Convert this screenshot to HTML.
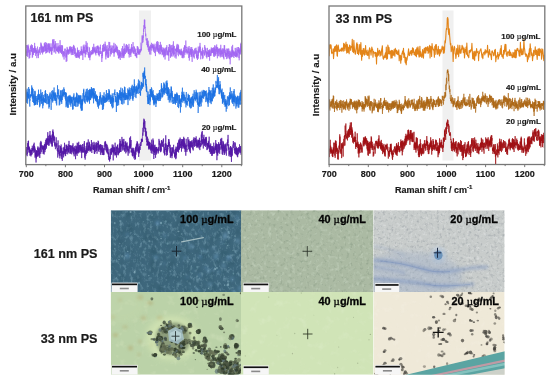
<!DOCTYPE html>
<html><head><meta charset="utf-8"><style>
html,body{margin:0;padding:0;background:#fff;overflow:hidden;}
svg{display:block;will-change:transform;}
.ml text{fill:#050505;stroke:#050505;stroke-width:0.3px;}
text{font-family:"Liberation Sans",sans-serif;font-weight:bold;fill:#1a1a1a;stroke:#1a1a1a;stroke-width:0.18px;}
</style></head><body>
<svg width="550" height="380" viewBox="0 0 550 380">
<defs>
<clipPath id="cl"><rect x="26" y="6.5" width="215.5" height="158"/></clipPath>
<clipPath id="cr"><rect x="329" y="6.5" width="215.5" height="158"/></clipPath>
</defs>
<rect width="550" height="380" fill="#fff"/>
<rect x="139" y="10.5" width="12" height="150" fill="#f0f0f0"/>
<rect x="442.5" y="10.5" width="11" height="150" fill="#f0f0f0"/>
<g clip-path="url(#cl)"><path transform="translate(26.3,0) scale(0.1173,0.1)" d="M0 483l1-33 1 110 1-7 1-41 1 18 1-37 1 46 1 17 1-33 1-70 1 13 1 103 1-29 1-81 1 67 1-80 1 43 1-20 1 50 1 5 1-45 1 31 1 35 1 41 1-49 1 8 1-48 1 19 1 64 1-51 1-18 1-10 1 50 1-65 1-30 1 16 1 19 1 1 1-34 1 51 1-10 1 22 1-23 1-54 1 23 1 47 1-49 1 37 1-30 1 31 1 75 1-128 1 85 1 32 1-57 1 33 1-1 1-27 1-21 1-12 1 50 1 18 1-45 1-24 1 46 1-39 1 9 1 26 1-54 1 35 1-75 1 101 1-22 1-46 1 56 1-8 1 1 1-26 1 74 1-70 1 29 1 2 1-38 1 39 1-1 1-14 1 31 1-29 1-8 1 82 1-63 1 4 1-5 1 13 1-52 1-13 1 38 1 7 1-3 1 1 1 51 1-46 1 67 1-41 1 6 1-4 1-34 1-14 1 27 1-20 1 29 1-43 1-15 1 1 1 21 1 5 1-13 1 26 1 34 1-41 1-30 1 4 1-8 1-45 1 41 1 21 1-32 1-20 1 8 1 81 1-29 1-42 1 51 1-32 1 51 1-62 1 56 1 15 1 11 1-43 1-24 1 37 1 7 1-50 1 21 1-21 1 52 1-52 1 46 1-56 1 57 1-8 1-77 1 12 1 27 1-38 1 7 1 28 1 7 1 33 1-89 1 90 1-43 1-19 1 31 1 56 1-80 1 54 1-52 1-30 1 80 1-20 1 43 1-51 1-49 1 88 1-20 1-16 1 19 1 22 1-11 1-68 1 27 1 19 1-8 1 5 1-8 1-41 1 65 1-26 1-45 1 92 1-62 1 26 1-43 1 33 1-9 1 63 1-97 1 64 1-19 1 26 1-14 1-20 1 39 1-28 1 30 1-15 1-30 1 43 1-77 1 46 1 34 1 29 1-57 1-10 1 72 1-1 1-28 1-13 1-32 1 34 1-42 1-33 1-37 1 91 1-14 1-79 1 42 1-4 1-2 1-13 1 62 1-12 1-12 1-63 1 133 1-62 1 53 1-35 1-23 1-8 1 20 1 20 1-51 1 40 1-69 1 41 1 29 1 27 1 29 1-88 1-9 1-7 1 1 1 2 1 73 1-17 1 18 1-42 1 38 1-7 1 17 1-27 1 4 1-17 1 46 1-36 1-17 1-37 1 79 1-47 1 27 1-10 1 52 1-66 1 19 1 50 1-63 1 20 1-40 1 62 1-14 1-27 1 35 1-31 1 35 1-110 1 99 1-34 1 61 1-24 1-8 1 25 1-66 1 53 1 9 1-66 1 55 1 35 1-20 1-20 1 33 1-36 1 18 1-62 1 58 1 1 1-57 1 19 1 81 1-37 1 53 1-2 1-48 1-12 1 34 1-2 1-24 1 33 1 9 1 35 1-71 1-3 1 41 1-5 1-51 1-12 1-8 1 41 1-31 1-8 1 17 1 29 1-5 1 12 1 35 1-39 1-6 1 88 1-78 1 23 1-61 1 63 1-13 1 59 1-103 1-40 1 36 1 4 1-23 1 59 1-4 1-43 1 32 1-23 1 13 1-18 1 44 1-45 1 8 1 15 1-34 1-1 1 50 1-29 1-7 1-36 1 44 1-7 1-15 1 3 1-17 1 59 1-72 1 50 1-36 1 1 1 21 1 14 1 6 1-22 1-2 1 57 1-80 1 20 1 27 1-24 1 32 1-59 1 41 1-18 1 36 1-34 1 56 1-44 1 28 1-27 1 45 1-72 1-12 1 42 1-59 1 33 1-6 1 19 1-5 1-32 1 13 1 55 1 13 1-62 1 27 1 29 1-12 1 42 1-9 1-69 1 70 1-7 1 6 1 22 1 0 1-25 1-15 1-5 1 23 1-16 1 41 1-33 1-22 1 4 1 47 1 3 1-76 1-26 1 84 1-26 1-13 1-20 1 64 1-4 1 11 1-64 1 68 1-20 1 8 1-21 1-44 1 69 1-12 1 3 1 27 1-39 1-26 1 30 1 7 1-10 1 6 1-7 1 3 1-41 1 21 1 10 1-12 1-11 1 18 1-71 1 25 1 63 1-62 1 34 1-4 1-24 1 47 1-13 1-12 1 37 1-20 1-22 1-3 1 90 1-28 1-44 1-72 1 55 1-39 1 58 1-17 1-9 1 30 1-88 1 85 1-25 1-39 1 57 1-5 1 14 1-22 1-9 1-1 1 72 1-36 1-5 1-28 1 40 1 0 1-95 1 95 1-132 1 54 1-3 1 56 1-7 1-43 1 40 1-33 1 14 1-62 1 90 1-46 1 41 1 12 1-36 1-22 1 48 1 36 1-10 1-19 1 45 1-28 1 13 1 21 1 6 1-56 1 54 1-8 1-36 1-59 1 49 1 53 1 26 1-44 1 15 1-31 1 4 1 8 1-45 1 35 1 10 1-10 1-2 1-13 1-4 1 14 1-17 1 25 1-8 1-39 1 41 1-9 1-33 1 7 1 26 1-63 1 58 1 16 1-57 1 48 1-33 1-13 1 21 1-26 1 5 1-50 1 94 1-61 1 4 1 43 1-16 1-19 1 31 1-19 1 13 1 9 1-3 1-47 1 65 1-23 1 27 1-32 1 15 1 35 1-73 1-5 1 28 1 18 1-7 1 10 1-30 1 34 1-68 1 38 1 31 1-35 1-38 1 32 1-26 1 12 1-8 1 0 1-11 1 87 1 2 1-41 1-37 1 85 1-74 1 36 1 33 1-32 1 49 1-47 1-6 1 0 1 13 1-36 1-19 1 1 1 23 1-27 1-19 1 69 1 23 1-29 1 27 1-4 1 4 1-22 1 18 1 11 1 14 1-9 1 71 1-75 1 37 1-15 1-67 1-19 1 75 1-97 1-9 1 67 1-34 1 5 1-10 1-21 1-12 1 71 1-17 1 4 1-65 1 48 1 3 1 22 1 3 1-46 1 12 1 7 1 16 1-33 1-53 1 92 1-66 1 20 1 44 1 4 1 83 1-76 1 47 1-67 1 51 1-62 1 42 1-65 1 7 1 9 1 6 1-36 1 14 1 48 1 25 1-44 1 86 1-32 1 1 1-21 1 43 1-40 1-48 1 96 1-44 1-16 1-99 1 56 1 10 1 24 1-6 1-38 1 11 1-55 1 55 1-14 1 20 1 83 1-42 1 0 1-15 1-22 1 10 1 42 1-85 1 47 1-4 1 48 1-11 1-56 1 44 1-23 1-18 1 18 1-14 1-15 1-13 1 29 1 8 1 37 1-2 1-35 1 16 1 6 1 17 1-31 1-1 1-43 1 26 1-55 1 139 1-66 1 32 1-46 1 40 1-36 1 23 1-27 1 25 1-30 1-11 1-32 1 82 1-26 1-11 1 30 1-32 1-5 1 45 1-49 1 9 1 17 1-45 1 49 1-40 1 69 1-29 1-8 1-25 1 50 1 10 1 17 1-54 1 6 1 14 1 45 1-58 1 78 1-11 1 18 1-21 1-2 1-38 1 18 1 18 1 22 1-64 1-17 1 66 1-8 1-48 1 43 1 5 1 41 1-64 1 29 1-47 1 14 1 12 1-10 1 4 1 2 1 1 1 1 1 3 1 34 1-95 1 47 1 8 1-6 1 4 1 19 1-96 1 42 1 28 1 51 1-68 1 19 1-5 1 40 1-79 1 75 1-14 1-27 1 59 1-29 1-116 1 99 1 20 1-26 1-47 1 40 1 15 1-25 1-20 1 13 1 9 1 27 1-32 1-32 1-21 1 19 1 39 1-7 1-40 1-26 1 84 1-79 1 21 1 5 1 20 1 32 1 1 1-74 1 50 1 2 1-15 1-20 1 5 1 39 1-8 1-36 1 73 1-48 1 46 1-44 1-4 1-52 1 33 1 103 1-38 1-6 1-32 1-9 1 61 1-11 1-8 1-10 1-29 1 55 1-10 1-14 1-35 1 81 1-29 1-41 1-25 1 58 1-55 1-37 1 72 1-22 1-16 1 24 1 13 1-28 1-12 1 20 1 13 1 18 1-43 1-1 1-58 1 113 1-31 1 9 1 22 1-8 1-4 1-60 1 45 1 20 1 14 1-38 1-35 1 30 1 0 1 22 1 0 1-36 1 75 1-17 1-41 1-6 1 18 1 49 1-31 1 26 1-7 1-12 1 34 1-14 1-30 1 28 1 25 1-79 1-13 1 8 1-37 1 51 1 19 1-34 1 4 1-33 1 83 1-73 1 38 1 7 1 14 1-7 1-14 1 28 1-49 1 23 1 5 1-9 1 23 1-30 1 32 1 9 1-18 1-39 1 19 1 13 1-29 1 8 1 22 1-3 1-8 1-19 1-66 1 68 1-6 1 3 1 13 1-42 1-7 1-8 1-14 1-79 1 47 1 27 1-35 1-18 1 11 1 12 1-38 1 62 1-73 1 29 1-43 1 7 1-58 1 36 1-51 1-18 1 23 1-14 1-54 1-11 1 93 1-63 1-28 1 52 1 0 1 29 1-10 1 4 1 35 1 54 1-26 1 13 1 25 1 21 1-8 1 20 1-19 1 1 1 16 1 44 1 2 1-15 1-17 1 7 1-44 1 91 1-56 1 1 1 27 1 15 1-4 1-49 1 93 1-44 1-11 1 29 1 37 1 7 1-17 1-10 1 22 1-26 1 11 1-34 1 80 1-76 1 14 1-12 1 26 1-16 1-33 1 2 1 20 1 71 1 6 1-58 1-15 1-21 1 25 1-49 1 15 1 38 1 25 1-13 1-36 1 24 1-17 1-5 1 19 1-39 1 33 1-18 1 7 1-23 1 52 1-23 1 37 1-33 1-12 1 60 1-69 1 44 1-22 1 1 1 58 1-2 1-24 1-2 1-36 1-30 1 41 1 42 1-2 1 43 1-78 1 3 1 1 1-19 1 49 1-38 1-18 1 3 1 21 1-66 1 39 1-11 1 56 1-30 1-24 1-39 1 91 1-65 1 46 1 37 1-74 1 61 1-88 1 55 1 10 1 42 1 7 1-36 1-12 1 42 1-42 1 22 1 37 1-81 1-3 1-9 1 1 1 54 1-53 1 24 1 17 1-74 1 123 1-28 1-26 1 16 1-28 1-18 1 24 1-35 1 13 1 39 1 22 1-47 1 38 1-39 1 79 1-53 1 39 1 0 1 5 1-45 1 18 1 21 1-3 1-34 1 8 1 2 1 50 1 13 1-97 1 24 1-17 1 68 1-61 1 75 1-58 1 15 1 7 1 3 1-28 1 91 1-74 1-15 1 28 1 14 1 8 1-80 1 33 1-24 1 66 1-5 1-17 1-58 1 30 1-23 1-26 1 16 1 54 1-16 1 37 1-20 1 30 1-11 1-27 1 29 1-19 1-21 1 34 1 12 1-80 1 87 1-27 1 78 1-117 1 36 1-24 1-61 1 60 1 17 1-60 1-7 1-7 1 14 1-8 1 8 1 49 1 70 1-116 1 58 1-16 1 22 1-7 1 42 1-31 1 35 1-63 1-51 1 56 1-24 1 35 1-36 1-4 1 3 1 12 1-10 1 49 1-85 1 119 1-60 1 36 1-32 1-97 1 91 1 50 1-86 1 20 1 44 1-52 1-5 1-16 1 45 1 3 1 35 1-16 1 50 1-60 1-26 1 6 1-1 1 11 1-20 1 62 1 15 1-14 1 37 1-47 1-41 1 18 1-41 1 48 1-69 1 87 1 7 1-109 1 52 1-10 1 40 1-37 1 5 1-14 1 30 1-61 1 42 1 39 1 37 1-108 1 24 1 19 1 30 1-14 1 16 1-39 1 41 1-28 1 40 1 2 1-41 1 20 1 18 1-25 1-1 1 11 1 18 1 8 1-57 1 49 1-6 1-27 1-25 1 59 1-35 1 38 1 0 1-35 1-3 1 68 1-60 1 36 1-5 1 9 1 18 1 0 1-34 1 40 1-76 1 57 1-62 1-1 1 34 1 1 1-61 1 71 1 31 1-20 1-72 1-10 1-22 1 32 1-26 1 89 1-92 1 73 1-23 1 13 1-34 1-7 1-21 1-52 1 55 1 3 1 9 1 7 1-10 1 47 1-28 1 43 1-19 1-8 1 40 1-21 1-12 1 2 1 17 1 1 1-32 1-31 1 52 1-16 1-21 1 21 1 26 1-6 1 56 1-33 1-49 1-38 1 108 1 38 1-87 1 20 1-14 1 45 1-85 1 63 1-36 1-1 1 9 1-28 1 31 1 13 1-28 1-38 1 78 1-50 1 67 1-71 1 72 1-21 1-73 1 32 1 84 1 31 1-69 1-24 1-36 1 15 1 22 1 6 1-16 1 39 1 10 1-63 1 54 1-16 1 2 1 0 1 30 1-15 1 14 1 13 1-74 1 33 1-40 1-13 1 19 1-6 1-23 1 38 1 15 1-27 1 14 1 2 1 14 1-16 1-44 1 36 1 44 1-25 1-28 1 79 1-29 1-7 1 23 1-22 1 33 1-30 1 49 1-41 1-51 1 23 1 45 1-10 1 22 1-122 1 95 1-47 1 4 1 7 1 6 1-42 1 20 1-7 1 21 1-49 1 31 1-43 1-4 1 23 1-52 1 96 1-18 1 10 1-45 1 38 1 83 1-29 1-42 1 23 1-30 1 1 1-5 1 35 1 3 1-3 1 12 1-36 1 21 1-49 1 20 1 45 1-82 1 114 1-39 1 26 1-33 1-3 1-8 1-5 1-2 1-27 1 5 1 30 1-19 1 4 1 30 1-19 1 25 1-75 1-31 1 34 1-16 1 26 1 35 1 0 1-42 1 31 1 3 1-10 1-29 1 64 1-19 1 41 1-55 1 7 1 15 1 7 1 42 1-66 1 51 1-31 1-29 1-30 1 65 1-17 1 4 1-11 1 15 1-17 1 17 1-4 1 39 1-70 1 61 1-19 1 22 1-54 1 7 1 53 1-75 1 84 1 28 1-64 1-34 1 26 1 13 1-52 1 61 1 1 1-22 1 22 1-20 1 19 1-15 1-29 1-38 1 39 1 21 1-46 1 12 1 9 1 20 1-52 1 51 1-14 1-18 1 21 1-38 1 42 1-23 1 29 1-19 1 16 1 21 1 19 1-92 1 60 1 9 1-61 1 30 1-27 1 61 1-39 1 62 1-62 1-55 1 59 1-40 1-7 1 93 1-57 1-10 1 52 1-14 1 29 1-49 1 15 1-5 1-46 1-5 1 48 1-69 1 37 1 16 1 41 1-63 1 21 1 86 1-83 1-29 1 44 1 8 1 8 1-26 1 55 1-19 1-22 1-31 1 29 1-30 1 50 1 27 1-17 1-32 1 2 1-29 1 13 1 43 1-13 1-34 1-17 1 1 1 93 1-13 1-51 1 5 1-67 1 110 1-63 1 52 1-12 1 3 1-11 1-18 1 19 1 43 1-72 1 41 1-36 1-21 1 56 1-11 1-3 1 41 1-71 1 15 1 19 1 6 1 13 1 33 1-95 1 76 1 17 1 15 1-74 1-69 1 11 1 66 1-53 1-21 1 47 1 32 1 2 1 12 1-48 1 24 1 39 1-37 1 43 1-38 1 1 1 32 1-17 1-60 1 105 1-11 1-40 1-7 1 10 1-4 1 13 1-45 1 31 1 4 1-42 1-10 1 96 1-102 1 88 1-23 1 12 1-40 1-8 1 23 1-50 1 13 1 38 1 45 1-48 1 2 1 11 1 45 1-80 1 1 1 37 1-43 1 136 1-60 1-4 1-20 1-5 1-29 1 46 1-46 1-1 1 22 1-2 1 30 1-25 1-25 1-60 1 103 1-63 1 44 1 15 1-68 1 34 1-80 1 66 1 21 1 33 1-31 1-1 1-32 1 32 1-12 1 28 1-31 1 58 1-61 1 0 1-4 1 27 1 14 1-32 1 1 1 35 1-12 1-55 1-14 1 16 1 17 1 56 1-23 1 24 1-60 1 28 1-54 1 74 1-30 1 28 1-24 1 23 1 21 1-37 1 31 1-98 1 54 1 31 1-13 1-30 1-17 1 12 1 9 1-18 1-2 1 31 1-58 1 23 1 8 1 48 1 31 1-102 1 125 1-57 1-46 1 40 1 4 1-23 1-33 1 18 1-8 1 40 1-5 1-10 1-86 1 78 1-53 1 84 1-65 1-55 1 94" fill="none" stroke="#a366f2" stroke-width="0.65" vector-effect="non-scaling-stroke" stroke-linejoin="round"/></g>
<g clip-path="url(#cl)"><path transform="translate(26.3,0) scale(0.1173,0.1)" d="M0 902l1 127 1-34 1 22 1-94 1 50 1 30 1-116 1 82 1-32 1-19 1 118 1-22 1-18 1-28 1-32 1 43 1-35 1-4 1 38 1-108 1 45 1 73 1 2 1-55 1-8 1-38 1 104 1 47 1 10 1 16 1-72 1 11 1-57 1 29 1-23 1-10 1 20 1-9 1-6 1 8 1 7 1-10 1-39 1 28 1 18 1-107 1 48 1-8 1 29 1-45 1 107 1-105 1-2 1 24 1 118 1-28 1-88 1-13 1 55 1 41 1-28 1 10 1 61 1-89 1 77 1-62 1 55 1 42 1-38 1 14 1 23 1-12 1-132 1 135 1-129 1 14 1 121 1-78 1-8 1 24 1 49 1 13 1-38 1-4 1-47 1 15 1 6 1 29 1-9 1 4 1 33 1-15 1-35 1-8 1 69 1-14 1-15 1-76 1 78 1-65 1 31 1 12 1-23 1-80 1 92 1-51 1 27 1-15 1-4 1 42 1 11 1-51 1-5 1 130 1-111 1 94 1-2 1-41 1-2 1-47 1 20 1-16 1-73 1 39 1 81 1-52 1-32 1 108 1-27 1-26 1-35 1 50 1-3 1 30 1 5 1-113 1 85 1-18 1 4 1 92 1-61 1 0 1-1 1 34 1-106 1 57 1-34 1 50 1-17 1 8 1-8 1-12 1 33 1-44 1 33 1-13 1 18 1-63 1-16 1 27 1-59 1 47 1 18 1-72 1 127 1-84 1 86 1-79 1-18 1 19 1 0 1 28 1 24 1-4 1 41 1-1 1-39 1-10 1-2 1 3 1-53 1 17 1 36 1 0 1 48 1-53 1-26 1 12 1-5 1 27 1 41 1-49 1 98 1-131 1 37 1 78 1-79 1 33 1-47 1-13 1-28 1 47 1-59 1 13 1 30 1-1 1 23 1-10 1 11 1 38 1 29 1 42 1-45 1-110 1 29 1-3 1-61 1 12 1 83 1-37 1 35 1-18 1 2 1 10 1 29 1-124 1 70 1 39 1-94 1 36 1-23 1 38 1-39 1 56 1-28 1-49 1-32 1 81 1-10 1 50 1-70 1 16 1 10 1 57 1-34 1-25 1 3 1-14 1 70 1-84 1 36 1 15 1-27 1 79 1 6 1-54 1 22 1-3 1 55 1-43 1-49 1-4 1-4 1-7 1 28 1-122 1 84 1-12 1 15 1-9 1 1 1 61 1-25 1-36 1-34 1-5 1 43 1 23 1-9 1 3 1 101 1-60 1-32 1 8 1 37 1 39 1-90 1 53 1-46 1-11 1-48 1 74 1 20 1-41 1 58 1-22 1-86 1 45 1 68 1-57 1-8 1 84 1-28 1-48 1-63 1 41 1 59 1-65 1 27 1-61 1-5 1 55 1 5 1-11 1 3 1 11 1-38 1 25 1-8 1-64 1 98 1-17 1-19 1-44 1 56 1-21 1 12 1-3 1 1 1-11 1 27 1 35 1-12 1-54 1 34 1 49 1-5 1-64 1 136 1-57 1-88 1 117 1-6 1-20 1 11 1-33 1-10 1 75 1-29 1 21 1 24 1-110 1 40 1 17 1-22 1-1 1-39 1 94 1 21 1-37 1-28 1-32 1-25 1 64 1-49 1 41 1-48 1 17 1 29 1-35 1 60 1-85 1 100 1-35 1-48 1 28 1-9 1 5 1-23 1 100 1-101 1 63 1-59 1 57 1-46 1 31 1-14 1 20 1-22 1 45 1-40 1-22 1-5 1-5 1 127 1-3 1-58 1 58 1-57 1-17 1-20 1-43 1 46 1-30 1 23 1-61 1 53 1 74 1-57 1-18 1-8 1 79 1 1 1-17 1-33 1 23 1-27 1-32 1 55 1 40 1-57 1-31 1 32 1 15 1-26 1-36 1 36 1-73 1 92 1-3 1-47 1 100 1-39 1-95 1 8 1 83 1-41 1 6 1 10 1-18 1 80 1-48 1 10 1 2 1-69 1 65 1-74 1 93 1-39 1 6 1 2 1 15 1-72 1 58 1-51 1 27 1-14 1-3 1 71 1-31 1 5 1-62 1 101 1 29 1-109 1-20 1 38 1 22 1 92 1-79 1-31 1 58 1-25 1 72 1-114 1 118 1-74 1 19 1-55 1 43 1-34 1-7 1-9 1-57 1 81 1-59 1 9 1-63 1 48 1-60 1 47 1-1 1 63 1 0 1-11 1 39 1-71 1 21 1-13 1 17 1 31 1 13 1 14 1-37 1 0 1-62 1 35 1-56 1 40 1-28 1-22 1-15 1 112 1-44 1-1 1 0 1 59 1-28 1-8 1-96 1 61 1 76 1-57 1 28 1-79 1 24 1-1 1 27 1 2 1 35 1-35 1 22 1-89 1 114 1-12 1-103 1 23 1 3 1 112 1-119 1-29 1 109 1-6 1 6 1-95 1 81 1-4 1 21 1-108 1 53 1 16 1 23 1-53 1 35 1-97 1 102 1-51 1-38 1 58 1 39 1-42 1-49 1 35 1 26 1-35 1 50 1-78 1 28 1 35 1-28 1 66 1-107 1 152 1-13 1-92 1 7 1 17 1-31 1-14 1-22 1 42 1 49 1-43 1 53 1-30 1 12 1 11 1 14 1-80 1 91 1-20 1-29 1 51 1-20 1 27 1-55 1 39 1-24 1-27 1 67 1 8 1-9 1-12 1-38 1 82 1-85 1 74 1-24 1 0 1 59 1-54 1 23 1 18 1-7 1 33 1 5 1-93 1 10 1 8 1 34 1-21 1 14 1 16 1-50 1-14 1-31 1 70 1-60 1 46 1-93 1 59 1-17 1 18 1-34 1 0 1 80 1 16 1-22 1-14 1 38 1-28 1-26 1 29 1-44 1 13 1-14 1 25 1-6 1 104 1-58 1-66 1-23 1 56 1-2 1-1 1 36 1 52 1-134 1 105 1-39 1-56 1 5 1-51 1 82 1 4 1-44 1 64 1-38 1 24 1-36 1 3 1 47 1-9 1-42 1 3 1 22 1 18 1-76 1-2 1 60 1-28 1 11 1-85 1 120 1-22 1-18 1-1 1-22 1 40 1-22 1 37 1-26 1-29 1-26 1 2 1 40 1-43 1 35 1 17 1 10 1-46 1 4 1 48 1-109 1 94 1 37 1-67 1 22 1-71 1 75 1 11 1-48 1 49 1-16 1-21 1 53 1 0 1 31 1-63 1 48 1-47 1-26 1 56 1-39 1 58 1-19 1 57 1-6 1-71 1 41 1-55 1 31 1-70 1 149 1-87 1-23 1 44 1-18 1-40 1 98 1 18 1-93 1 32 1-30 1 7 1 33 1-44 1-48 1 21 1-15 1-10 1 13 1-16 1 7 1-37 1 54 1-9 1 26 1-5 1 6 1-5 1 55 1-53 1 56 1-3 1 7 1-52 1 148 1-116 1 15 1 37 1-42 1-43 1-50 1 43 1 7 1-46 1 133 1-61 1-61 1-5 1 90 1-35 1-39 1 79 1-59 1 85 1-6 1-96 1 20 1-22 1-17 1 50 1-28 1 24 1 9 1-86 1 98 1-87 1 67 1-11 1 20 1 17 1-72 1 20 1-76 1 81 1-29 1 52 1-59 1 120 1-70 1-3 1 45 1-18 1-50 1 11 1-33 1 50 1-89 1 23 1 138 1-66 1-19 1-16 1-6 1 19 1-14 1 33 1-48 1 44 1-16 1 79 1-136 1 101 1-32 1-101 1 34 1 42 1 25 1-96 1 103 1 25 1-62 1-12 1 32 1 43 1-51 1 33 1-14 1 30 1-45 1 23 1-28 1 9 1 4 1-32 1 60 1-10 1-27 1-1 1 33 1-26 1 37 1-111 1 59 1 107 1-65 1 5 1-13 1-75 1 84 1-64 1 25 1-52 1 37 1 26 1-85 1 45 1 35 1-25 1 75 1-60 1-45 1 67 1 3 1-16 1-27 1-2 1 65 1-88 1-21 1 43 1 36 1-81 1-13 1 8 1 28 1-19 1 27 1 47 1-41 1-67 1 73 1 73 1-104 1 54 1 3 1 61 1-96 1 73 1-125 1 90 1-4 1-4 1 4 1-77 1 49 1 0 1-53 1-71 1 131 1-83 1 61 1-27 1 62 1 31 1-50 1-24 1 10 1-13 1 9 1-36 1 18 1 98 1-78 1 21 1-60 1 76 1-9 1-42 1-34 1 56 1-5 1-34 1 55 1 6 1-42 1 11 1-21 1-3 1 11 1-55 1 105 1-93 1-51 1 96 1-23 1 7 1-22 1 17 1-31 1 45 1-1 1-19 1-57 1 124 1-14 1 11 1-24 1-50 1 97 1-26 1 32 1-55 1-18 1-6 1 7 1-18 1-48 1 12 1 73 1-79 1 23 1 7 1-5 1 27 1-42 1 23 1-7 1 36 1-52 1 21 1-60 1-68 1 40 1-37 1 25 1 31 1 81 1-119 1 34 1-15 1-53 1 36 1 35 1-79 1 57 1-89 1 66 1 12 1 17 1 17 1-14 1-14 1 87 1-31 1-17 1 57 1-65 1 84 1-8 1 46 1-72 1 79 1-55 1 19 1 12 1 26 1-5 1 16 1 39 1-13 1 55 1 4 1 3 1 21 1-126 1 22 1 103 1-63 1 15 1 44 1-25 1 22 1-56 1-31 1 59 1-61 1 34 1 15 1-20 1 28 1 50 1-45 1-114 1 35 1-31 1 118 1-120 1 62 1-43 1-11 1 19 1 36 1-47 1-37 1 53 1 46 1-86 1 85 1-59 1 18 1 31 1-44 1 67 1-46 1 3 1 7 1 53 1-100 1 101 1-61 1 93 1-20 1-27 1-23 1 89 1-54 1-49 1 94 1-58 1 18 1-45 1 7 1 59 1-14 1 22 1-56 1 12 1 35 1-67 1-3 1 28 1 88 1-29 1-49 1 44 1-26 1-30 1 8 1-29 1 19 1-43 1 26 1 40 1-16 1-46 1 62 1-16 1 19 1-50 1 5 1-5 1 12 1 45 1-35 1 12 1-57 1 38 1 19 1-55 1-7 1 25 1-51 1 81 1 29 1-10 1-72 1 1 1 49 1 30 1-73 1 30 1-12 1 37 1-97 1 2 1 73 1 6 1-115 1-27 1 86 1-63 1 21 1 0 1 25 1-11 1 77 1 7 1-91 1 27 1 56 1-10 1 1 1-29 1 6 1-21 1-3 1-12 1 23 1-96 1 112 1-67 1 78 1-42 1-70 1 81 1 6 1-75 1 26 1 16 1 21 1 19 1-31 1-19 1 23 1-16 1-13 1-1 1-31 1-28 1 124 1-49 1-33 1-25 1 67 1-59 1-34 1 137 1-113 1 130 1-38 1 19 1-63 1 70 1-19 1-57 1 41 1 89 1-98 1 36 1-60 1 47 1-11 1 13 1 55 1-36 1 78 1-25 1-36 1 12 1-84 1 22 1 45 1 12 1-41 1 73 1-53 1-6 1 10 1-2 1 24 1 49 1-161 1 82 1-73 1 42 1 47 1-17 1 32 1-45 1 25 1-48 1 76 1-27 1 59 1-21 1 8 1 36 1-1 1-21 1 16 1-6 1-34 1-23 1 21 1 12 1-4 1 33 1 3 1-67 1 34 1-23 1 7 1-31 1-18 1 97 1-86 1 72 1-23 1 48 1-105 1 27 1 35 1-24 1 0 1-26 1-11 1 77 1 10 1-54 1-50 1 45 1 34 1-68 1 2 1 68 1-60 1 5 1 38 1 81 1-116 1 41 1 2 1 23 1 14 1 47 1-7 1-29 1-46 1-49 1 39 1 32 1-67 1 72 1-29 1 43 1-41 1-5 1-2 1 71 1-62 1 125 1-61 1-36 1-6 1-36 1 65 1 19 1-90 1 34 1-64 1 16 1 52 1-72 1-29 1 78 1 2 1-76 1-45 1 108 1-53 1 95 1-4 1-48 1 10 1-40 1 63 1-23 1-44 1 16 1-39 1 65 1 28 1-48 1 8 1 6 1 7 1-36 1 55 1-24 1 55 1-39 1-24 1 6 1 12 1-3 1 36 1-18 1 70 1-111 1 0 1-43 1 83 1 45 1-35 1 23 1-16 1-11 1 10 1-10 1 47 1-51 1-26 1 13 1 5 1 4 1-20 1-43 1 64 1-49 1 60 1-35 1 4 1-29 1 55 1-8 1-50 1 111 1-43 1-7 1 63 1-90 1 3 1 49 1-31 1 16 1-26 1 30 1-38 1 98 1-56 1-56 1 107 1-9 1-53 1 15 1-57 1 22 1-2 1-15 1-14 1 98 1-47 1-58 1 3 1 88 1-3 1-20 1-39 1-52 1 96 1 0 1 35 1-80 1 45 1-45 1 8 1-53 1-41 1 30 1 20 1 39 1-10 1-2 1-12 1 23 1-69 1 91 1-31 1 15 1-4 1 2 1-49 1 9 1 3 1-60 1 97 1-7 1-70 1 68 1-29 1-2 1 16 1 55 1-40 1-20 1-39 1 121 1-68 1-2 1 41 1 17 1 95 1-16 1-66 1-16 1 27 1-42 1 24 1-62 1-57 1 83 1-48 1 99 1 0 1-81 1 95 1-41 1-55 1 66 1-122 1 86 1 19 1-39 1-3 1 14 1-43 1 69 1 42 1-102 1-2 1 48 1-27 1-20 1 64 1-117 1 71 1 1 1-59 1 54 1 4 1-18 1-1 1 15 1 6 1-63 1-18 1 61 1-7 1 35 1-41 1-36 1 24 1 18 1-3 1-47 1 62 1-21 1 1 1-32 1-1 1 1 1 46 1-46 1 30 1-31 1 19 1 90 1-7 1-40 1-6 1-63 1 27 1 63 1-49 1-8 1 42 1 30 1 5 1-7 1-25 1 25 1 6 1-36 1 56 1-77 1-30 1 141 1-101 1-5 1-30 1 86 1-94 1 33 1-87 1 79 1-21 1-6 1-23 1 37 1 17 1 48 1-81 1 46 1 63 1-57 1-63 1 56 1 49 1-56 1 0 1-13 1-44 1 140 1-107 1 78 1-29 1 4 1 11 1-1 1-8 1-54 1 2 1-60 1 136 1-59 1-16 1 4 1 33 1-38 1 10 1-103 1 140 1-74 1 47 1-50 1-23 1 39 1 8 1 9 1-36 1 44 1 18 1-53 1 48 1-19 1-68 1 15 1 28 1 8 1-47 1 21 1-51 1-26 1-13 1 16 1-6 1 22 1 17 1 13 1-20 1 30 1-4 1-21 1 22 1-72 1-57 1 122 1-49 1-16 1-12 1 2 1 61 1 10 1 8 1 14 1-117 1 121 1-4 1 21 1 31 1-88 1 10 1-11 1 46 1-22 1 66 1-60 1-71 1 93 1-37 1-23 1 56 1 4 1-5 1 5 1 17 1-12 1 21 1-32 1 60 1-49 1 76 1-60 1 26 1 18 1-83 1 74 1 9 1 69 1-89 1 2 1 79 1-18 1-88 1 67 1 27 1-10 1-11 1-74 1 77 1-24 1-19 1 43 1 47 1-5 1-31 1-16 1-14 1-32 1 86 1 32 1 1 1-63 1 34 1-29 1 51 1-71 1 23 1 50 1-26 1 80 1-24 1-61 1 21 1-16 1-33 1 85 1-37 1-43 1-26 1-18 1-3 1 18 1 66 1-24 1-13 1-19 1-19 1 19 1-1 1-11 1-3 1 86 1-105 1 2 1 45 1 11 1-64 1 100 1-126 1 32 1 4 1 9 1 26 1-51 1-70 1 49 1 41 1 28 1-50 1 25 1 18 1-39 1 20 1-9 1 20 1-16 1 10 1-61 1 64 1 51 1-91 1 68 1 23 1-60 1 58 1 17 1-65 1-29 1-1 1 46 1-10 1 38 1-54 1 48 1-103 1 152 1-96 1-75 1 104 1-26 1 40 1 13 1-20 1-56 1 70 1 19 1-25 1-6 1-40 1-3 1 13 1 56 1 56 1-35 1-45 1-31 1 68 1-67 1 63 1 25 1-6 1 2 1-61 1-33 1 77 1-7 1-7 1-72 1 55 1-14 1-35 1 113 1-29 1-29 1-1 1-32 1 80 1 11 1-15 1-71 1-28 1 81 1-34 1-26 1 9 1-23 1 2 1-44 1 122 1-96 1 45 1-7 1-72 1 84 1 8 1-112 1 141 1-13 1 14" fill="none" stroke="#1e72e4" stroke-width="0.7" vector-effect="non-scaling-stroke" stroke-linejoin="round"/></g>
<g clip-path="url(#cl)"><path transform="translate(26.3,0) scale(0.1173,0.1)" d="M0 1521l1-51 1 30 1 51 1-41 1-16 1 37 1 31 1-37 1 6 1 6 1-105 1 10 1 55 1-20 1 16 1-82 1 55 1 26 1-85 1 78 1 6 1 33 1-58 1 36 1-34 1 59 1-7 1-36 1 37 1-12 1-21 1 70 1-54 1 0 1 46 1-51 1 9 1 27 1 1 1 28 1-17 1-24 1-21 1 22 1-21 1 47 1-46 1-24 1 61 1-30 1-54 1 43 1-11 1 23 1-14 1-14 1 0 1-1 1 19 1-23 1 6 1-42 1 55 1 30 1-56 1 32 1-77 1 93 1-12 1-47 1 34 1-28 1 45 1 25 1 40 1-90 1 9 1 67 1-35 1 31 1-32 1 30 1 68 1-88 1-37 1 85 1-76 1 61 1-62 1 3 1 27 1 32 1-27 1-33 1 37 1 12 1-79 1 17 1-33 1 52 1-42 1 32 1 37 1 12 1-63 1 26 1-18 1 66 1-11 1-35 1-2 1 28 1-26 1-44 1 104 1-42 1-14 1-37 1-61 1 74 1-9 1-23 1 71 1-130 1 70 1-13 1-44 1 41 1-4 1 40 1 15 1 7 1-45 1-26 1 8 1 3 1 31 1-14 1 14 1-2 1-28 1 34 1-39 1 83 1-74 1 8 1 47 1 10 1-64 1-7 1 41 1 44 1-96 1 33 1-41 1 30 1 25 1-14 1 39 1-54 1-43 1 5 1 71 1-23 1-28 1-49 1 21 1 47 1-76 1-6 1 21 1 79 1-58 1-40 1 57 1-3 1 1 1-64 1 72 1-3 1-58 1 11 1-79 1 101 1-5 1 22 1-29 1-53 1 41 1-13 1 71 1-58 1 1 1 55 1-29 1-26 1-13 1 23 1-62 1 78 1-31 1-85 1 97 1 16 1-23 1-37 1 25 1-33 1 55 1-25 1 51 1-28 1 35 1-42 1-23 1 23 1 10 1 54 1-112 1 34 1-11 1-37 1 125 1-100 1-53 1 18 1-34 1 72 1-32 1 42 1-55 1 49 1 34 1-52 1 73 1-23 1-17 1 20 1-28 1 3 1-16 1 90 1-33 1 17 1 27 1-39 1 26 1 39 1-1 1-7 1 1 1-33 1 0 1 0 1-79 1 84 1-15 1 8 1 26 1-19 1-26 1 12 1 45 1 20 1-28 1 34 1-8 1 70 1-55 1-40 1-77 1 40 1 3 1 11 1 35 1 28 1-24 1 45 1-23 1-66 1 104 1-35 1 4 1 6 1-8 1 60 1-49 1 21 1-50 1 18 1-62 1 13 1 55 1-64 1 56 1-26 1-51 1 120 1-36 1-48 1 91 1 18 1-1 1-43 1-27 1 31 1 58 1-47 1-47 1 20 1-26 1 7 1-4 1-35 1 29 1 41 1-35 1 63 1-51 1 18 1-54 1-19 1 63 1-55 1 42 1-90 1 110 1-29 1-10 1 0 1 55 1-8 1-46 1-9 1 70 1-65 1 10 1-4 1-55 1 93 1-27 1-65 1 32 1 37 1-56 1 47 1-29 1 14 1-6 1-29 1 19 1 26 1 40 1-52 1 11 1-10 1 7 1-57 1 82 1-49 1 48 1-21 1 2 1-95 1 53 1 30 1-17 1-19 1 14 1-20 1 22 1 63 1-46 1 45 1-54 1-19 1 55 1 18 1-84 1 12 1 46 1-29 1-19 1 37 1 22 1-10 1 34 1-50 1-36 1 48 1-29 1 0 1 0 1-21 1 42 1 28 1-33 1-59 1 78 1-39 1 17 1-6 1 31 1 29 1-58 1 24 1 27 1 27 1-13 1-73 1 33 1-19 1 15 1-46 1 61 1-28 1 13 1 35 1 15 1 36 1-101 1 47 1-83 1 48 1 41 1-55 1 43 1-53 1-15 1 11 1 40 1-46 1 90 1-132 1 94 1-12 1 12 1 9 1 0 1-98 1 88 1 15 1-4 1-9 1-55 1 52 1-101 1 59 1 49 1-76 1 51 1-22 1-26 1 8 1 23 1 38 1-15 1-28 1 3 1-31 1 26 1 31 1-62 1 26 1 29 1-15 1 41 1-76 1 53 1 9 1-38 1 106 1-113 1 14 1-6 1 31 1 14 1-27 1-54 1 85 1-21 1 10 1-22 1 13 1-34 1 56 1-9 1-5 1 7 1-37 1-38 1-10 1 83 1-1 1-106 1 48 1 51 1 67 1-95 1 46 1 29 1 39 1-93 1 18 1 4 1-18 1 51 1-16 1-28 1-52 1 51 1 27 1-53 1 48 1-36 1-65 1 80 1-90 1 19 1-16 1 45 1 35 1 20 1-36 1 9 1-23 1 16 1-99 1 111 1-44 1 46 1-26 1-19 1 7 1-18 1 20 1-53 1 85 1-74 1 42 1-9 1-6 1 17 1 44 1-50 1 39 1-35 1 31 1 8 1-28 1 26 1-46 1-22 1 60 1-100 1 38 1 36 1 56 1-2 1-33 1-8 1 3 1 2 1-1 1-10 1-56 1 22 1 46 1-9 1-24 1-11 1 50 1-12 1 10 1-43 1 39 1-75 1 82 1 24 1 12 1-66 1 42 1 28 1-94 1 38 1-18 1-39 1 95 1-18 1-8 1-16 1-15 1-10 1 37 1-5 1 12 1 10 1-86 1 83 1-66 1 57 1-33 1 73 1-65 1 1 1-18 1-11 1-14 1 14 1-10 1 41 1-68 1 64 1 38 1-59 1-35 1 40 1 29 1 17 1 19 1-59 1 29 1 4 1-44 1 18 1 27 1-2 1-35 1-14 1 28 1-28 1 103 1 1 1-75 1-26 1 58 1-26 1 0 1 20 1-11 1 37 1-76 1 37 1-5 1 46 1 6 1 17 1-15 1-42 1-25 1 60 1-77 1 58 1 39 1-16 1-21 1 3 1-16 1 53 1-69 1 31 1 35 1-57 1 10 1-15 1-3 1 6 1-41 1-25 1 14 1 37 1-63 1-1 1 14 1 37 1-43 1 85 1-17 1-39 1 4 1 24 1 13 1 28 1-24 1-54 1 47 1 39 1 0 1-75 1 85 1-9 1-33 1 18 1-43 1 20 1 47 1-48 1 59 1-22 1 45 1-10 1-27 1 20 1 47 1-35 1 25 1 2 1 13 1-33 1 45 1-19 1-43 1-44 1-18 1 43 1 58 1-14 1-17 1-39 1 8 1-38 1-5 1 61 1-69 1 48 1 17 1-27 1-35 1 46 1-4 1-64 1-15 1 12 1 5 1 58 1-26 1-32 1 49 1-8 1-56 1 157 1-131 1 55 1-23 1 11 1-14 1 16 1-39 1 64 1-72 1 44 1-30 1 14 1 11 1-28 1 73 1-128 1 66 1 52 1-25 1 30 1 0 1-30 1 12 1 2 1-68 1 43 1 50 1 16 1-107 1 21 1-18 1 20 1 57 1-32 1-15 1-52 1 38 1-41 1 79 1-39 1 0 1 67 1-14 1-24 1 28 1-7 1-29 1-29 1 54 1-12 1-52 1 0 1-33 1 92 1-56 1-13 1-68 1 129 1-84 1 85 1-112 1 48 1-2 1 39 1-37 1-10 1 72 1-72 1 14 1 2 1-11 1-14 1 14 1-82 1 17 1 12 1 66 1-57 1 13 1 37 1 48 1-67 1-46 1 94 1-62 1 0 1-4 1 39 1 3 1 8 1-81 1 113 1-23 1 16 1 7 1-1 1 2 1 14 1-68 1 58 1-25 1-63 1 14 1-2 1 38 1-56 1 121 1-88 1 16 1 13 1 11 1-10 1 1 1-44 1 49 1 40 1-58 1-40 1 75 1-3 1-14 1-18 1 43 1-17 1-32 1 25 1 74 1-60 1 9 1-16 1 15 1 10 1-19 1-30 1 58 1 9 1-77 1 18 1 3 1-100 1 90 1-30 1 53 1-19 1-28 1 26 1 12 1-117 1 109 1-26 1 5 1-52 1 124 1-18 1 18 1-26 1 7 1-26 1 5 1 32 1 4 1 35 1-38 1-30 1 19 1 58 1-58 1-29 1 82 1-32 1-29 1 33 1-22 1-7 1-20 1 48 1 54 1-16 1-63 1 54 1 13 1-23 1-5 1-23 1 78 1-70 1 24 1-8 1-61 1 106 1-123 1 29 1 51 1-39 1-30 1 16 1-50 1 47 1 25 1-81 1 11 1 28 1-55 1-8 1 15 1 32 1-37 1 92 1-62 1-5 1 41 1 16 1 25 1-43 1 30 1-40 1 94 1-55 1-19 1-59 1 98 1-72 1 63 1-31 1-6 1-10 1-5 1-8 1 35 1-19 1-17 1-15 1 9 1-30 1-7 1 39 1-8 1-7 1-29 1-27 1 13 1 21 1-28 1 18 1-26 1 32 1-25 1 20 1-53 1-10 1-13 1-13 1 32 1-79 1 45 1-19 1 3 1-81 1 26 1 26 1-91 1 7 1 44 1-17 1-24 1 0 1 68 1 22 1-41 1-35 1 86 1 24 1-17 1-27 1 87 1-55 1-29 1 30 1 32 1-1 1 4 1 55 1-8 1-78 1 104 1-15 1 51 1-3 1-9 1-3 1 18 1-90 1 76 1-18 1 24 1-7 1-55 1 57 1-31 1 9 1 16 1-24 1 71 1-44 1 56 1-65 1 54 1-56 1 54 1-65 1 27 1-20 1 50 1-19 1-28 1 38 1 11 1 17 1-30 1 41 1-43 1-5 1-7 1 78 1-64 1-19 1 44 1-93 1 103 1-58 1 96 1-24 1-13 1-49 1 27 1 29 1-53 1-30 1-40 1 85 1 13 1 37 1-115 1 72 1-5 1 118 1-113 1 21 1 52 1-69 1-27 1 72 1-19 1 22 1-19 1-63 1 49 1 23 1-37 1 26 1 70 1-77 1-6 1-26 1 33 1-31 1 75 1-5 1-70 1 45 1-23 1 40 1-37 1-21 1 26 1-4 1-3 1 0 1-4 1 22 1-13 1-4 1 20 1 20 1-4 1-59 1 43 1-88 1-16 1-22 1 36 1 13 1 9 1 1 1-27 1-14 1 36 1 46 1 19 1-71 1 69 1-61 1 23 1 54 1-2 1-38 1 33 1-86 1 62 1 12 1-25 1-78 1 26 1-17 1 38 1 11 1-34 1 14 1-20 1 18 1 30 1-18 1 4 1 16 1-42 1-31 1 29 1-28 1-11 1 74 1 14 1-35 1 90 1-58 1 48 1 20 1-53 1 65 1 4 1-21 1 11 1-54 1 9 1-8 1-61 1 45 1-49 1-73 1 149 1-20 1-45 1 81 1-17 1 54 1-6 1-5 1-60 1 39 1-29 1-44 1 101 1-99 1 25 1 35 1-37 1 19 1-34 1 10 1-18 1-28 1 36 1 4 1-74 1 70 1-66 1 48 1 18 1 3 1-44 1 36 1 23 1-5 1 27 1 27 1-60 1-19 1 130 1-78 1-20 1 14 1-16 1 86 1-18 1-18 1-4 1 34 1-32 1 15 1-2 1-66 1 109 1-73 1 48 1-18 1-65 1 39 1 6 1-18 1-17 1 4 1 36 1-11 1-15 1-32 1-18 1 44 1 42 1-25 1-12 1 35 1 5 1-11 1 49 1-27 1-17 1 32 1-39 1-3 1 21 1 21 1-75 1 19 1 85 1-33 1-93 1 117 1-95 1 25 1 39 1-29 1-46 1-5 1 1 1 37 1 3 1-26 1-10 1-49 1 88 1-31 1-24 1 54 1-59 1 16 1 21 1-16 1 48 1-32 1-96 1 67 1-52 1 63 1 17 1-75 1 79 1-80 1-24 1 86 1-46 1-56 1 31 1 30 1 13 1-5 1 36 1-41 1 20 1-68 1 55 1-17 1-6 1 92 1-104 1 14 1 52 1-88 1 54 1-9 1-33 1-9 1 50 1 19 1-62 1 87 1-36 1 3 1-19 1 26 1-73 1 80 1-100 1 107 1-21 1 16 1 7 1-94 1 108 1-74 1 53 1-5 1-6 1-26 1 87 1-56 1 38 1-41 1-15 1 104 1 7 1-40 1-9 1-120 1 79 1-13 1 36 1-2 1 17 1 14 1-27 1 9 1-37 1-10 1-4 1-4 1-10 1-52 1-13 1 55 1 38 1-17 1 17 1-63 1 29 1 61 1-97 1 67 1-31 1 68 1-86 1 39 1 64 1-25 1-6 1-34 1 21 1-38 1 44 1 55 1-119 1 49 1-45 1 47 1-36 1 30 1 16 1-15 1-3 1 5 1-49 1 61 1-58 1-14 1 33 1-7 1 16 1 43 1 7 1-45 1 11 1-32 1 2 1 76 1-116 1 1 1 15 1 23 1-21 1-34 1 46 1 34 1-32 1 13 1 34 1-73 1-2 1-14 1 53 1-29 1 16 1 0 1-13 1-24 1 13 1 65 1-26 1-5 1-65 1 101 1-68 1 28 1 23 1 10 1 9 1 12 1-34 1-39 1 58 1-25 1-10 1 39 1-28 1-45 1 2 1 64 1 13 1-74 1 56 1-39 1-5 1-5 1 56 1 22 1-84 1 48 1-71 1 71 1 4 1 38 1 10 1-78 1-15 1 63 1-19 1 9 1-30 1 6 1 23 1 4 1-57 1 11 1-72 1 64 1-12 1 54 1-129 1 38 1 16 1-17 1-51 1 87 1 41 1-20 1-27 1 54 1-42 1 20 1 16 1 47 1-77 1-34 1 12 1 40 1-78 1 85 1-35 1-7 1 68 1-19 1-18 1 8 1-32 1 54 1-21 1-43 1 42 1 39 1-9 1-2 1-87 1 64 1-53 1 72 1-85 1 35 1-8 1 48 1 13 1 10 1 34 1-27 1-36 1 7 1 49 1-65 1 31 1-2 1-17 1-10 1 7 1 27 1-57 1 64 1-47 1 61 1-4 1-35 1 24 1-104 1 75 1 77 1-12 1-15 1-28 1 50 1-26 1-23 1-14 1 86 1-81 1 37 1-58 1 62 1-7 1 49 1-39 1-1 1 33 1-3 1-66 1 96 1-53 1-46 1 14 1 45 1 37 1-66 1-26 1 53 1 20 1-11 1 0 1-11 1-29 1 27 1-36 1 59 1-109 1 67 1-18 1-3 1 65 1-9 1-8 1 7 1-43 1 40 1-25 1 1 1-41 1 31 1-36 1 45 1-64 1-35 1 85 1-15 1 33 1-70 1 94 1-89 1 75 1-33 1-23 1 144 1-75 1-9 1 26 1-102 1 50 1 9 1 56 1-53 1-26 1 53 1-88 1 17 1 20 1-58 1 77 1 23 1-50 1 18 1-43 1 57 1-63 1-2 1 99 1-3 1-68 1 30 1-59 1-7 1 1 1-15 1 33 1-17 1-46 1 24 1-20 1 34 1 70 1-88 1 48 1 19 1-95 1 96 1-10 1 51 1 26 1-96 1 36 1 21 1-28 1 74 1-140 1 25 1 74 1-90 1 66 1-53 1 42 1-22 1 64 1-39 1 53 1 0 1-28 1 48 1-58 1-36 1 39 1-55 1 95 1-56 1 36 1-18 1-50 1 21 1 11 1-1 1-17 1-25 1 67 1 38 1 16 1-72 1 25 1 1 1-6 1-49 1-1 1-33 1 36 1-16 1 7 1-53 1 35 1-11 1-70 1 117 1 2 1 28 1-7 1-46 1 31 1 77 1 11 1-37 1-50 1 66 1-29 1 17 1-16 1 35 1-6 1-30 1 56 1-39 1-49 1-20 1 85 1-79 1 37 1-24 1 90 1-79 1 81 1 48 1-144 1 90 1-6 1-17 1-47 1-13 1 74 1-24 1-35 1-7 1-21 1-14 1-8 1-2 1 35 1-70 1 36 1 1 1-17 1 31 1 6 1 11 1-2 1 27 1-20 1 1 1 49 1-17 1-95 1 47 1-5 1-31 1 77 1 34 1-59 1 15 1 0 1-20 1 39 1-52 1 72 1-32 1 42 1-73 1 39 1 3 1-35 1 71 1-69 1 80 1-33 1-28 1 69 1-37 1-2 1-50 1 16 1 11 1-7 1 40 1-55 1 27 1-45 1 31 1-26 1 13 1 30 1-43 1-32 1 28 1 35 1 26 1-24 1-27 1 22 1 24 1-65 1 41 1 4 1-1 1 11 1 31 1-86 1 51" fill="none" stroke="#5418a6" stroke-width="0.7" vector-effect="non-scaling-stroke" stroke-linejoin="round"/></g>
<g clip-path="url(#cr)"><path transform="translate(329.2,0) scale(0.3910,0.1)" d="M0 562l1-115 1 39 1-11 1-29 1 11 1 70 1 9 1-12 1 1 1-37 1 98 1-47 1-46 1-26 1 47 1-53 1 4 1 46 1-62 1 103 1 10 1-93 1-18 1 27 1 37 1-15 1 12 1-13 1 8 1 1 1-26 1 30 1-34 1 22 1-13 1 26 1-80 1 52 1-44 1 67 1-52 1 5 1-40 1 72 1 38 1-87 1 25 1 56 1-23 1-30 1 66 1-87 1 3 1 18 1 32 1-28 1-14 1 11 1-80 1 122 1-8 1 19 1-122 1 58 1 50 1 20 1 11 1-39 1-23 1-42 1-11 1 107 1-90 1 59 1 43 1-15 1-33 1-54 1 28 1 68 1-116 1 94 1 83 1-96 1 58 1-43 1-35 1 53 1-54 1 68 1-42 1 34 1-89 1 65 1-15 1 42 1-23 1 30 1-55 1 51 1-31 1 68 1-111 1 7 1 21 1 14 1 32 1-41 1-40 1 21 1 1 1 81 1-61 1 11 1 7 1 2 1-8 1 37 1-39 1 13 1 104 1-108 1 34 1-81 1 71 1-7 1-28 1-15 1-2 1 58 1-42 1 19 1 15 1-54 1-14 1-28 1 98 1 30 1 7 1-19 1-16 1 18 1-32 1-16 1 51 1-107 1 122 1-27 1 20 1-136 1 19 1 69 1-63 1 65 1-13 1-17 1 23 1 48 1-78 1 31 1 45 1-74 1 48 1-32 1 31 1-56 1 13 1 54 1-79 1 29 1-12 1 36 1-34 1 39 1-24 1 30 1-18 1-33 1 111 1-54 1 16 1-18 1 79 1-69 1 37 1-64 1-11 1-15 1 32 1-59 1 92 1-44 1 15 1 72 1 13 1-57 1 74 1-64 1 19 1-34 1-7 1-37 1-36 1 60 1 8 1-4 1-33 1 15 1-29 1 1 1 46 1-18 1-56 1 46 1-41 1 18 1 44 1-16 1-7 1 35 1-57 1-4 1 71 1-88 1 51 1 12 1-74 1 29 1 51 1 23 1-48 1-60 1 101 1-47 1 22 1 20 1 16 1-30 1-49 1 51 1 36 1-64 1-35 1 46 1-28 1-29 1 58 1-29 1-21 1-8 1 31 1-38 1 69 1-52 1 40 1-56 1-13 1 125 1-98 1-16 1 23 1 76 1-129 1 39 1 4 1 22 1-4 1 16 1 60 1-108 1 80 1-96 1 46 1-48 1 64 1 32 1-43 1 42 1-77 1 66 1-34 1 63 1-21 1-45 1 38 1-15 1-3 1-30 1-22 1 33 1-15 1 54 1-66 1 63 1-30 1-91 1 20 1-45 1-71 1-31 1 12 1-111 1-7 1 15 1 129 1 27 1-60 1 69 1 44 1 47 1-11 1 81 1-22 1-14 1-23 1 59 1 97 1-104 1-30 1-16 1 11 1 62 1 3 1 45 1-36 1-63 1 12 1 44 1-92 1 36 1 81 1-46 1-10 1-58 1 78 1-32 1 33 1-32 1-21 1-27 1 39 1-23 1 59 1-36 1-11 1 100 1-49 1-35 1 22 1-47 1 72 1-112 1 81 1 47 1-5 1 8 1 16 1-73 1 6 1 15 1-29 1 17 1-11 1-6 1-65 1 77 1 77 1-53 1 57 1-75 1 71 1 18 1-93 1 27 1 22 1-15 1-60 1 36 1-3 1 9 1-13 1 92 1-69 1 0 1-20 1-16 1-4 1-10 1 28 1 31 1 28 1-31 1 45 1-59 1 1 1-2 1-10 1 31 1-54 1 20 1 16 1-16 1-10 1 17 1-69 1 63 1 56 1-51 1 29 1-54 1 28 1 17 1 8 1 16 1 33 1-86 1-3 1 16 1 1 1 26 1 6 1-7 1-49 1-2 1-6 1 123 1-39 1-6 1-17 1 6 1-39 1 70 1-12 1-35 1 15 1-17 1-30 1-26 1 54 1-85 1 87 1 24 1-20 1 18 1 20 1-83 1 41 1-16 1-64 1-21 1 69 1-66 1 101 1 7 1 11 1-38 1-10 1 9 1-3 1 34 1-58 1 21 1 37 1-32 1 7 1 24 1-4 1 25 1-5 1-48 1 12 1 38 1-45 1 45 1-76 1 81 1-76 1 74 1-36 1-53 1 17 1-21 1 17 1 10 1 11 1 39 1-59 1 60 1-137 1 99 1-20 1 43 1-59 1 59 1-27 1 24 1-62 1-86 1 81 1 20 1 45 1-4 1 28 1-25 1 15 1-5 1 66 1-50 1 26 1-61 1 9 1-52 1 82 1-133 1 52 1-5 1 69 1-26 1 15 1 64 1-39 1-16 1-49 1 56 1-49 1 7 1-49 1 77 1 0 1-44 1 51 1 44 1-76 1-29 1 65 1-23 1-49 1 73 1-60 1 26 1-6 1-29 1 106 1-46 1-34 1-22 1 36 1 54 1 26 1-59" fill="none" stroke="#e38418" stroke-width="1.1" vector-effect="non-scaling-stroke" stroke-linejoin="round"/></g>
<g clip-path="url(#cr)"><path transform="translate(329.2,0) scale(0.1173,0.1)" d="M0 1061l1-36 1-26 1 86 1-91 1 63 1 48 1-61 1 22 1 4 1-16 1-7 1 11 1-36 1 9 1 31 1-51 1 17 1 6 1-21 1 39 1-13 1 34 1-79 1 53 1 2 1 6 1 29 1-88 1 40 1-27 1-23 1 15 1 30 1 45 1-121 1 55 1 36 1-86 1 38 1 90 1-16 1-21 1-20 1 11 1 78 1-67 1 32 1-10 1-11 1-5 1 21 1-65 1 30 1-18 1 3 1-16 1 35 1-26 1 36 1 1 1 32 1-8 1 6 1-93 1 77 1-6 1-29 1 66 1-83 1 53 1-29 1 28 1-9 1-31 1 18 1 23 1-8 1-19 1 15 1 0 1 17 1-49 1 35 1-38 1 6 1-24 1 33 1 35 1-1 1 24 1-32 1-31 1-22 1 17 1-34 1 21 1 61 1-54 1 51 1-36 1 20 1 3 1-61 1 55 1-15 1 0 1 23 1 60 1-55 1 5 1-11 1-37 1-20 1 63 1-9 1-10 1-17 1 34 1 1 1-29 1 52 1-24 1-66 1 27 1 3 1 26 1 34 1-12 1-27 1 29 1-65 1 14 1-6 1 3 1 51 1 3 1-23 1-42 1 7 1 76 1-88 1 1 1 31 1 15 1-21 1 10 1-5 1-51 1 46 1-26 1 17 1 9 1 37 1-33 1 32 1-31 1 49 1-27 1-24 1 3 1-21 1 45 1-3 1-31 1 12 1-3 1 17 1 46 1-74 1 32 1 8 1-13 1-10 1-37 1 38 1 1 1-8 1 47 1-105 1 62 1-27 1-19 1-11 1 50 1-43 1 36 1-37 1 5 1-11 1 46 1-31 1 26 1 11 1-8 1 16 1-10 1 8 1 37 1-62 1-5 1 10 1 39 1-17 1-30 1 3 1 47 1-40 1 15 1 22 1-42 1-14 1 15 1 5 1 3 1 49 1-63 1 61 1-77 1 54 1-16 1 56 1-62 1-24 1 25 1 2 1-16 1 53 1-18 1 44 1-68 1 39 1-1 1-67 1 52 1 74 1-108 1 48 1 6 1-26 1 46 1-24 1-7 1-52 1 73 1-74 1 32 1 17 1-69 1 53 1-28 1 5 1 19 1-27 1-17 1 73 1-41 1 33 1-66 1 34 1-7 1-2 1 31 1-13 1 10 1-34 1 44 1-31 1 16 1-10 1-8 1 10 1 8 1 22 1 0 1-12 1 10 1-10 1 1 1 12 1-60 1 105 1-60 1 34 1-29 1-33 1 57 1 3 1-44 1 39 1-60 1 36 1 1 1 29 1-44 1 52 1-8 1 28 1-38 1-23 1-14 1 48 1-12 1-33 1 8 1 17 1-60 1-49 1 98 1-84 1 50 1 50 1-98 1 45 1-32 1 41 1 9 1-50 1 31 1 24 1-2 1 13 1-43 1 11 1 19 1-26 1 53 1-72 1-3 1 17 1-7 1-45 1 58 1 16 1-4 1 31 1-5 1-83 1 54 1-18 1-52 1 79 1 40 1-44 1 23 1 10 1 32 1-22 1 6 1-62 1 88 1-82 1 15 1 17 1-45 1 25 1-17 1 19 1-28 1 21 1 31 1-26 1 24 1 9 1 1 1 5 1 58 1-40 1-71 1 92 1-16 1-17 1 9 1 7 1-15 1-13 1 11 1-10 1-6 1-36 1 13 1 68 1-42 1-79 1 110 1-46 1 12 1 12 1-12 1-37 1 28 1-17 1-6 1 29 1-64 1 66 1-1 1-20 1 4 1 9 1 9 1 10 1-19 1-12 1 35 1-6 1-9 1-38 1 36 1 6 1 5 1 16 1-43 1 73 1-53 1-27 1 75 1-59 1-16 1 84 1-59 1-27 1 50 1-64 1-19 1 79 1-47 1-6 1 43 1-43 1 57 1 7 1-44 1 30 1-64 1 3 1 69 1-60 1-44 1 25 1-28 1 72 1-9 1 9 1-10 1-12 1-3 1 32 1 12 1-10 1 28 1-20 1-7 1 31 1 46 1-86 1 49 1-57 1 33 1-42 1-14 1 29 1 27 1-13 1-52 1 21 1-27 1 26 1 28 1-41 1-8 1-34 1 75 1-54 1 19 1 29 1 12 1-37 1 24 1 11 1-18 1-13 1 35 1-45 1-15 1 86 1-67 1 34 1 21 1 4 1 21 1-35 1 12 1-60 1 23 1-9 1 67 1-48 1 16 1-48 1 63 1-23 1 29 1-54 1 11 1 50 1-21 1 51 1-78 1-5 1-9 1 2 1 67 1-22 1 16 1-18 1-39 1 32 1-34 1 22 1 9 1-20 1-12 1 12 1 62 1-18 1-28 1 27 1-4 1-2 1 4 1-54 1 62 1-2 1-60 1 42 1-62 1 7 1 66 1-67 1 13 1-16 1 0 1 51 1-59 1 11 1 47 1-16 1 37 1-44 1-30 1 45 1-31 1 20 1 32 1-76 1 49 1 26 1-18 1-6 1-27 1 32 1-20 1-5 1-14 1 1 1 30 1 22 1-56 1 9 1-29 1 33 1 16 1-9 1 21 1 5 1 4 1 19 1-73 1 41 1 76 1-28 1-59 1 43 1 42 1-61 1-2 1 40 1-58 1 34 1-36 1 33 1-11 1 21 1 7 1-52 1 33 1-79 1 44 1 21 1-46 1 56 1-23 1 49 1-57 1 6 1-7 1 3 1 28 1 40 1-9 1-27 1-17 1 33 1 11 1 33 1-61 1 62 1-101 1 77 1-26 1-5 1-11 1-2 1 15 1-3 1-32 1 37 1-16 1 6 1-6 1 21 1 12 1-50 1 43 1-11 1-34 1-15 1 11 1 2 1 24 1-9 1 13 1-40 1-20 1 26 1 1 1-84 1 82 1-46 1 29 1-24 1 61 1-15 1-39 1 28 1 19 1-8 1-31 1 31 1 10 1 18 1-18 1-8 1-21 1 33 1-23 1-9 1 55 1-86 1 36 1 38 1-59 1 13 1 57 1-32 1-43 1-6 1-18 1 14 1 9 1 50 1-29 1-21 1 7 1 33 1-38 1 26 1-1 1 42 1-33 1 8 1 21 1-21 1 2 1-15 1 19 1-22 1-35 1 6 1 22 1 19 1-4 1-21 1 3 1-26 1 46 1-51 1 17 1-8 1 35 1-7 1 24 1 34 1-59 1 5 1 31 1-28 1 3 1 20 1-35 1 1 1 57 1-26 1-70 1 33 1 47 1-3 1 29 1-30 1 47 1-47 1-6 1-16 1 33 1 5 1 13 1-13 1 28 1-71 1 51 1-38 1 37 1-27 1 5 1-10 1-49 1-1 1 10 1 26 1 41 1-68 1 92 1-73 1 21 1 30 1-3 1-46 1-37 1 81 1 7 1-94 1 36 1 11 1 9 1 18 1 23 1-48 1 1 1-56 1 30 1 27 1-84 1 61 1-18 1 19 1-5 1 25 1-5 1 12 1 36 1-27 1 13 1-41 1-15 1 33 1 29 1-27 1-79 1 87 1-14 1-57 1 67 1-25 1 52 1-10 1-15 1-6 1 20 1-13 1 7 1-48 1 90 1-63 1-17 1 8 1-21 1 94 1-86 1-18 1 37 1-5 1 62 1-73 1 8 1 77 1-54 1 3 1 2 1-19 1 1 1 43 1-67 1 46 1-18 1 16 1-28 1-1 1-35 1 26 1 24 1-1 1-78 1 89 1-46 1 62 1 14 1-104 1-12 1 19 1 42 1-42 1 49 1-45 1 1 1 71 1-63 1 29 1 2 1 3 1-13 1 45 1-80 1 30 1 7 1-3 1 71 1-85 1 69 1 16 1-10 1-41 1-11 1-39 1 45 1-26 1-30 1-22 1 41 1-16 1 32 1-3 1-8 1-13 1 71 1-33 1-3 1 2 1 44 1-7 1-45 1 65 1-19 1-23 1 56 1-48 1-31 1-33 1 83 1-18 1-60 1 42 1-1 1-8 1-20 1 44 1-23 1 16 1-6 1-37 1 21 1-8 1 35 1-8 1 27 1 2 1 0 1-30 1 5 1-11 1 36 1-26 1-12 1-34 1 18 1-18 1 33 1 12 1-23 1-16 1 45 1-35 1 10 1-9 1-18 1-8 1 32 1-21 1-17 1-10 1 94 1-103 1 28 1 35 1 40 1-33 1-49 1 68 1-23 1 30 1-17 1-55 1 35 1 35 1-53 1 28 1-12 1-19 1-8 1 12 1 0 1-12 1 31 1-19 1 29 1 5 1-38 1 24 1 23 1 12 1-15 1-27 1 6 1-14 1-53 1 18 1 10 1 15 1 0 1-37 1 9 1-9 1 6 1 14 1 62 1-29 1-25 1 18 1-34 1 5 1-24 1-3 1 21 1 10 1-18 1 13 1-16 1-44 1 51 1 1 1-49 1 21 1-11 1 30 1-77 1-36 1 51 1-63 1 13 1-58 1-15 1 22 1 14 1 23 1-83 1-27 1 5 1-29 1 20 1-19 1 25 1-35 1 20 1 9 1-8 1 36 1-8 1-9 1 78 1-69 1 62 1 16 1 63 1 5 1 4 1-16 1-21 1 42 1 25 1-31 1 48 1-3 1 49 1-7 1 8 1 24 1-16 1 10 1 1 1 5 1-62 1 86 1-7 1-41 1 22 1 7 1 2 1-10 1-9 1-2 1-25 1 15 1 0 1 52 1-17 1-41 1 52 1 39 1-63 1 51 1-51 1 34 1-14 1-14 1 15 1-24 1 17 1 8 1 15 1-2 1-35 1-27 1 41 1 16 1 15 1 13 1-13 1 17 1 2 1-36 1 3 1-15 1 28 1-5 1 17 1-52 1 61 1-16 1-34 1 75 1-43 1-22 1 29 1-51 1 40 1-53 1 17 1-11 1 55 1-96 1 70 1 7 1 42 1-37 1 14 1 9 1-39 1 35 1-21 1-32 1 45 1 35 1-17 1 12 1-28 1-20 1 14 1 6 1 8 1-15 1-18 1 21 1-35 1 70 1-83 1-2 1 4 1 24 1-31 1 48 1-15 1-14 1 4 1 56 1-37 1 6 1-32 1-21 1 16 1 51 1-56 1-30 1 4 1 40 1 9 1 2 1-41 1-37 1-17 1 81 1-41 1-1 1 15 1 58 1-57 1 39 1 9 1-14 1-55 1 81 1-16 1 19 1 3 1-11 1-29 1 42 1 2 1-26 1 14 1-7 1 11 1-33 1 28 1-15 1 10 1-51 1 64 1-2 1-4 1-19 1-2 1 12 1 1 1-3 1 5 1-48 1 19 1 6 1 21 1-38 1-41 1 26 1 57 1 18 1-12 1-12 1 3 1-26 1 51 1-131 1 46 1 35 1-17 1 13 1-14 1 28 1-14 1 41 1-9 1-21 1 69 1-24 1-8 1 13 1-3 1-27 1 19 1-4 1-86 1 57 1 5 1-53 1 30 1 18 1-19 1-16 1 46 1-26 1-38 1 41 1-10 1 75 1-20 1-37 1-15 1 70 1-54 1-6 1 28 1-46 1 72 1-46 1 57 1-48 1 12 1 27 1-8 1 16 1 38 1-15 1-16 1-20 1-42 1-2 1 29 1-12 1 12 1-66 1 2 1-14 1 32 1 17 1-13 1-48 1 25 1 25 1-57 1 50 1 16 1 3 1-8 1 12 1-21 1-60 1-5 1 65 1 26 1-63 1 23 1-3 1-4 1 16 1 26 1 1 1-22 1-1 1-31 1 46 1-19 1 16 1-10 1 55 1-54 1-13 1-13 1 56 1-31 1-16 1-15 1-4 1 47 1-27 1-37 1 41 1-18 1-10 1 22 1-18 1 21 1-84 1 83 1 8 1-37 1 45 1-32 1 21 1-51 1 33 1-22 1 20 1 2 1-6 1-16 1 27 1 26 1-16 1 9 1-54 1 35 1 33 1-92 1 51 1-33 1 5 1-6 1 23 1-13 1 39 1-19 1 42 1 14 1 5 1-39 1 11 1 12 1-28 1-37 1 9 1 49 1-11 1 0 1-22 1 29 1-11 1 65 1-87 1 14 1-17 1 23 1 20 1 20 1-6 1-54 1 22 1 14 1-19 1 7 1-34 1-26 1 35 1-26 1 40 1-4 1-32 1 70 1-67 1 33 1 5 1-3 1 2 1-6 1 1 1 23 1-37 1-21 1 59 1-24 1-19 1 40 1 39 1-53 1 1 1-22 1 48 1-8 1-1 1-2 1 32 1-24 1 53 1-97 1 22 1 67 1-69 1 25 1 51 1-58 1 47 1-33 1-6 1-5 1 4 1-12 1 26 1 25 1-15 1-2 1 28 1 4 1-68 1 82 1-43 1-52 1 55 1 14 1 13 1-7 1-22 1-19 1 59 1-50 1 11 1-6 1 8 1-32 1 32 1-2 1 30 1-43 1-32 1 20 1 14 1-34 1-6 1 23 1-27 1 54 1-35 1-11 1-6 1-9 1 30 1-6 1 0 1 28 1-21 1-18 1 12 1-19 1 21 1 5 1 3 1-6 1 39 1-32 1 21 1-6 1-16 1-7 1 7 1-15 1-16 1 6 1 74 1-33 1-8 1-4 1 6 1 47 1-11 1-55 1 30 1-27 1 8 1-36 1 28 1 11 1-12 1-56 1 48 1 17 1-45 1-29 1 54 1-29 1 14 1-16 1 86 1-85 1-14 1-1 1 29 1-3 1 28 1-39 1 17 1-5 1-14 1 44 1-43 1 4 1-4 1 20 1 71 1-86 1 18 1-9 1 20 1 25 1-51 1 68 1-31 1-11 1 30 1-48 1 42 1-27 1-77 1 95 1 70 1-95 1-9 1 12 1 29 1 7 1 48 1-60 1-4 1-38 1 29 1-35 1 27 1-14 1 46 1 41 1-38 1 41 1-61 1-32 1 31 1 48 1-43 1 29 1 1 1 7 1-51 1 5 1-6 1 80 1-51 1 2 1-44 1 49 1-68 1 28 1 20 1 31 1-31 1 21 1-16 1-10 1 11 1 23 1-30 1-5 1 16 1 75 1-55 1-9 1 17 1-15 1-10 1-41 1 36 1-56 1 79 1-12 1-16 1 20 1 23 1 17 1-82 1 57 1-13 1-25 1 20 1 31 1-47 1 38 1 9 1-28 1-35 1 43 1-15 1 49 1-30 1 1 1-17 1 39 1 22 1-33 1 9 1-4 1-7 1-33 1-29 1-6 1 90 1-35 1-62 1 40 1 5 1-5 1-6 1 36 1-91 1 51 1 44 1-20 1 20 1 12 1-28 1-34 1 1 1 58 1-46 1-41 1 25 1 50 1-55 1 5 1-27 1 43 1 17 1 23 1-33 1 24 1-31 1 1 1 18 1-24 1 37 1 2 1-12 1-43 1 52 1-31 1 40 1-48 1 16 1-11 1-1 1 14 1-17 1-17 1-2 1-12 1 34 1 7 1-32 1 50 1-43 1 33 1-11 1 1 1 9 1 16 1-29 1 33 1-88 1 51 1 43 1-46 1-8 1 3 1 38 1-44 1 8 1 36 1-30 1-2 1-47 1 103 1-29 1-30 1 37 1-13 1-5 1 4 1-5 1 6 1-46 1 33 1-8 1 11 1-52 1 31 1 1 1 28 1-14 1-35 1 57 1-39 1 14 1-9 1 47 1-21 1 28 1-33 1 44 1-44 1 30 1-19 1 14 1 8 1-29 1 10 1 4 1-7 1 20 1-25 1 8 1 25 1-64 1 50 1 17 1-11 1-17 1-20 1 21 1 37 1-20 1 12 1-61 1 56 1 40 1-42 1 84 1-106 1 53 1-87 1 61 1-54 1 11 1 16 1-67 1 71 1-7 1-33 1-18 1 88 1-16 1-19 1-49 1 44 1 10 1-11 1 16 1-11 1 6 1 4 1 27 1-21 1 48 1-61 1-7 1-4 1 11 1 5 1-19 1 32 1-63 1 18 1-17 1 58 1-25 1 29 1-53 1 49 1-49 1-7 1 60 1-56 1 68 1-5 1-66 1 38 1-11 1 64 1-12 1-54 1 44 1-21 1 8 1-7 1-5 1-25 1 17 1 4 1-2 1 44 1-30 1-9 1-25 1 17 1-18 1 29 1-23 1 16 1 2 1-11 1 8 1 35 1 5 1-11 1-25 1-48 1 40 1 50 1-88 1 33 1-17 1 19 1-31" fill="none" stroke="#ad6816" stroke-width="0.65" vector-effect="non-scaling-stroke" stroke-linejoin="round"/></g>
<g clip-path="url(#cr)"><path transform="translate(329.2,0) scale(0.1173,0.1)" d="M0 1521l1-34 1 84 1-39 1 0 1-4 1-49 1-22 1-1 1-58 1 85 1 40 1-67 1 3 1 79 1-36 1 6 1-34 1 35 1 6 1 10 1-23 1 31 1-43 1 40 1 7 1 24 1-60 1 65 1-25 1-27 1 57 1-22 1-12 1-63 1 62 1-4 1-49 1 48 1-38 1-67 1 78 1-49 1-26 1 12 1 61 1 2 1 5 1 47 1-57 1 39 1 40 1-70 1-103 1 121 1-51 1-60 1 48 1-55 1 59 1-28 1 55 1-33 1 56 1-48 1 29 1 42 1-52 1 11 1 13 1-29 1 38 1 18 1 53 1-58 1-21 1 9 1 74 1-73 1-2 1 12 1-33 1 20 1-56 1-8 1 43 1-13 1-57 1-9 1 65 1-142 1 145 1-122 1 144 1 24 1-33 1-4 1-2 1 19 1-17 1-3 1-8 1 55 1-28 1-26 1-53 1 147 1-43 1-87 1-10 1-8 1 46 1-14 1-18 1 0 1 39 1-62 1 60 1 6 1 76 1-88 1 0 1-19 1-18 1 2 1-54 1 72 1-51 1-20 1-30 1 27 1-17 1-19 1 0 1 104 1-116 1-83 1 64 1 2 1 41 1-56 1-13 1-59 1 158 1-57 1 3 1 16 1 25 1-11 1 2 1-12 1 27 1-36 1-43 1 33 1 15 1 49 1-79 1 35 1-2 1-5 1-2 1-2 1-44 1 71 1-55 1-22 1 59 1-67 1 56 1-22 1-37 1 83 1-44 1-52 1 15 1 42 1-59 1-19 1 47 1-76 1 62 1-4 1 67 1-41 1 32 1-41 1-4 1-2 1 22 1-92 1 152 1-86 1 26 1-42 1 54 1-26 1 56 1-47 1 35 1 79 1-91 1 29 1 29 1-12 1 21 1 4 1-9 1 39 1-8 1-33 1-18 1 39 1-49 1 47 1-17 1 8 1 16 1-52 1 25 1-2 1-74 1 26 1 68 1-17 1-23 1 118 1-89 1 29 1 40 1-12 1-24 1-3 1 37 1-25 1 27 1-6 1-40 1 30 1-120 1 112 1-3 1-4 1 0 1 42 1-63 1 4 1 114 1-49 1-35 1 69 1-82 1 89 1 47 1-118 1 42 1 36 1-92 1 70 1-34 1 8 1 12 1 7 1 24 1-40 1-13 1 18 1-69 1 35 1-2 1 17 1-40 1 3 1 56 1-45 1 15 1 7 1 44 1 7 1-43 1 48 1-4 1-21 1-21 1 0 1-13 1-10 1 3 1 2 1-34 1-23 1 49 1-80 1 14 1 34 1 19 1 18 1 2 1-32 1-56 1 67 1-51 1 27 1-29 1 43 1 9 1 12 1-86 1 55 1-55 1 68 1-57 1 16 1 22 1 27 1-36 1-3 1 0 1 6 1-26 1 55 1 22 1-57 1 84 1-79 1 97 1-60 1 3 1-33 1 85 1-87 1 136 1-73 1 83 1-81 1-49 1 69 1 8 1-16 1 11 1-65 1 42 1 15 1 43 1-118 1 88 1-40 1-1 1 34 1 36 1-89 1-19 1 18 1 29 1 3 1-64 1 39 1-38 1-50 1 59 1 54 1-102 1 64 1 13 1 2 1 43 1-26 1-53 1 61 1-31 1 36 1 0 1 15 1 1 1-40 1 106 1-19 1-27 1 9 1 14 1 13 1-51 1-61 1-8 1 11 1 28 1 10 1 4 1-14 1 21 1-33 1 74 1-2 1-23 1-63 1-13 1-24 1 2 1 17 1 26 1-49 1 33 1-21 1-11 1 7 1 27 1-15 1 32 1-5 1 21 1-42 1-1 1 5 1-24 1 63 1-43 1 42 1 12 1-95 1 41 1 42 1-80 1-11 1 76 1-108 1 17 1 39 1 30 1-2 1-3 1 27 1-15 1-14 1-22 1 52 1-39 1 58 1-30 1 37 1-19 1-5 1 0 1-37 1 72 1-100 1 87 1-56 1 52 1-26 1 2 1 52 1-46 1-31 1 72 1-8 1-44 1 88 1-73 1 10 1-26 1 16 1 55 1-45 1-4 1-10 1 56 1-81 1 6 1 69 1 11 1-13 1 10 1 21 1-70 1 86 1-24 1-44 1 75 1-40 1-64 1 7 1-22 1 12 1-6 1 36 1 10 1-50 1 11 1 28 1-36 1 33 1 0 1-38 1-10 1 13 1-4 1 2 1 25 1 39 1-6 1-38 1 20 1 14 1 40 1 44 1-76 1 44 1-36 1-5 1 4 1 13 1-21 1 29 1-5 1 33 1-52 1-12 1 16 1-45 1 47 1-20 1-58 1-2 1 38 1 34 1-68 1 41 1 14 1-62 1 100 1-50 1 40 1-20 1 35 1-9 1 20 1-20 1-6 1 59 1-81 1 94 1-53 1 14 1 11 1-46 1 7 1 8 1-8 1 13 1 3 1-54 1 14 1 13 1-18 1-10 1-16 1-3 1 11 1-19 1 25 1 33 1-18 1-43 1 8 1 60 1-36 1 32 1 18 1-56 1 20 1-29 1 10 1 16 1-64 1 106 1-117 1 104 1-17 1-64 1 105 1-73 1-23 1 58 1-6 1-55 1 40 1-24 1-29 1 54 1-2 1-77 1 74 1 1 1 0 1 9 1 12 1-10 1-24 1 25 1-47 1 26 1 35 1-42 1 13 1 17 1-25 1-24 1 2 1-41 1 37 1 20 1-85 1 42 1 9 1-1 1 21 1-56 1 97 1-88 1 46 1-1 1-16 1 47 1 58 1-142 1 9 1 35 1 63 1-114 1 35 1-5 1 61 1-65 1 24 1-5 1-32 1 16 1 17 1 6 1 30 1-55 1-3 1-15 1-1 1 53 1-78 1 74 1-35 1 6 1-70 1 39 1-20 1 25 1 43 1-111 1 108 1 1 1-85 1 4 1-9 1 38 1 30 1-65 1 48 1-55 1 10 1 29 1-46 1 11 1 29 1-34 1-51 1 104 1-21 1-8 1-79 1 0 1 97 1-88 1 36 1 31 1-19 1 36 1 9 1-58 1 39 1 19 1 9 1 40 1-76 1-48 1 51 1-75 1 82 1-69 1 77 1-43 1 68 1-114 1 93 1-37 1 25 1-21 1-29 1 47 1 9 1-1 1 30 1-62 1-7 1 73 1-87 1 76 1-51 1-34 1 56 1 4 1 7 1 17 1 9 1-8 1-3 1-18 1-71 1 182 1-56 1 34 1-49 1 15 1 40 1-69 1 27 1-17 1 9 1 19 1-25 1 71 1-51 1 24 1 24 1 30 1-63 1-89 1 108 1-59 1 44 1-91 1 16 1 78 1 25 1-93 1-15 1-5 1 74 1 15 1 10 1-5 1-29 1 64 1-50 1 91 1-10 1-28 1 2 1 55 1-55 1 29 1-49 1 44 1 31 1-92 1-40 1 109 1-41 1-58 1 62 1-19 1-99 1 143 1-52 1-3 1-49 1 85 1-31 1 25 1 4 1 44 1-77 1 62 1-29 1-21 1-7 1 45 1-58 1-8 1-22 1 77 1 14 1-11 1-70 1 88 1-14 1-57 1-34 1 37 1 34 1 20 1 5 1-19 1 0 1-20 1-27 1-65 1 25 1 47 1-44 1 24 1 31 1-45 1 16 1-13 1 28 1 36 1-33 1 7 1-43 1 8 1-47 1 35 1-21 1 45 1-26 1-71 1 42 1 31 1-15 1 82 1-87 1-5 1 63 1-53 1 94 1 2 1-2 1-1 1 27 1 2 1-95 1 24 1 19 1 49 1-34 1-27 1 25 1-48 1 23 1-14 1-28 1 57 1-42 1 22 1-48 1 22 1-15 1 38 1-96 1 96 1-55 1 16 1 48 1-37 1-36 1 91 1-10 1 60 1-48 1-72 1 61 1-37 1 16 1-2 1 45 1-14 1-19 1 11 1-97 1 35 1-16 1 69 1 17 1-80 1 52 1-11 1 2 1 9 1-17 1 21 1-8 1 32 1-19 1-31 1 44 1 16 1-37 1-28 1 20 1 27 1-49 1-42 1 63 1-51 1 16 1 28 1-51 1 36 1 34 1 33 1-28 1 34 1-27 1-15 1 39 1-11 1 9 1-55 1-24 1 64 1-20 1 102 1-90 1 35 1 15 1-77 1 54 1 37 1-48 1-18 1 43 1-70 1 78 1-128 1-20 1 127 1-78 1 22 1-25 1 38 1-5 1 13 1-30 1-7 1 35 1-51 1 30 1-38 1-17 1 34 1-6 1 52 1-58 1 41 1 4 1-11 1 3 1 32 1-17 1 2 1-18 1-7 1 72 1-68 1-3 1-1 1-70 1 98 1-20 1-34 1-2 1-38 1 27 1-38 1 46 1-2 1-106 1 49 1-63 1 58 1-18 1 35 1-27 1 12 1-4 1 3 1 45 1-122 1 24 1 24 1-52 1 17 1 51 1-110 1 14 1-1 1-7 1 52 1-71 1 13 1-13 1-12 1-10 1 12 1 57 1-63 1 51 1-12 1 20 1-20 1 5 1 4 1-3 1 77 1-67 1 57 1-1 1 4 1 29 1-7 1 15 1 2 1-29 1 29 1 1 1-34 1 16 1 6 1-2 1 55 1-9 1 6 1 35 1-4 1 59 1-78 1 28 1 74 1-68 1 43 1-40 1-3 1-12 1 28 1-16 1 56 1 16 1-88 1 15 1 15 1 26 1-100 1 59 1-49 1 110 1-29 1-1 1-33 1-13 1 27 1-12 1 54 1 22 1-69 1 56 1-36 1-45 1 41 1 1 1-21 1 43 1-68 1 42 1 23 1 3 1-75 1 120 1-61 1 27 1 18 1-34 1-2 1-1 1 41 1 45 1-73 1-14 1 26 1-68 1 10 1 39 1 50 1 9 1-82 1-40 1 38 1 4 1-15 1 31 1-53 1 75 1-59 1 44 1-51 1 18 1-12 1 51 1-5 1 18 1 10 1-51 1-21 1 49 1-91 1 33 1 43 1 43 1-39 1-31 1 63 1-71 1-30 1 100 1-21 1 5 1 62 1-26 1-78 1 38 1-5 1-35 1 90 1 59 1-110 1 64 1-84 1 23 1 24 1 62 1-81 1-52 1 54 1 2 1 28 1 2 1-92 1 41 1-11 1 41 1-20 1 1 1-71 1 54 1 42 1 17 1-40 1 76 1-52 1 48 1-18 1-1 1-15 1 28 1-23 1-56 1 56 1-45 1 21 1-61 1 40 1-54 1 90 1-25 1-31 1-7 1 4 1-38 1-13 1 125 1-60 1-27 1-45 1 58 1-1 1 39 1-52 1 40 1 4 1 23 1-41 1 12 1 36 1-7 1 28 1-86 1 17 1-37 1 37 1-10 1 98 1-83 1 45 1-30 1-56 1 28 1-16 1-60 1 51 1-6 1-62 1 72 1 8 1-8 1-58 1 15 1 55 1 25 1-2 1 20 1-68 1-60 1 141 1-54 1 16 1-41 1-40 1 31 1 38 1-8 1 2 1 11 1-62 1 44 1-84 1 103 1-26 1 38 1-23 1-17 1 60 1-72 1-18 1-3 1-19 1 1 1 52 1-4 1-17 1 59 1-15 1 5 1-38 1 20 1 69 1-40 1 18 1-31 1 18 1-18 1-21 1 47 1-72 1 102 1-21 1 21 1-40 1-19 1 26 1 0 1 43 1-77 1 28 1-8 1-16 1 36 1-31 1 27 1-1 1-44 1-15 1 23 1 34 1-67 1 18 1 15 1-39 1 38 1 18 1-24 1 16 1-95 1 61 1 32 1-41 1-41 1 129 1-87 1-11 1 12 1 12 1-22 1 28 1 22 1-76 1 79 1-16 1 3 1 40 1-71 1 49 1-1 1-15 1 34 1 39 1-107 1 14 1-18 1 34 1 10 1 6 1-31 1-2 1-3 1 7 1-3 1 17 1 8 1-95 1 18 1 30 1 67 1-68 1 25 1-57 1 5 1 25 1 22 1-27 1-8 1 53 1-73 1 50 1-30 1 70 1 11 1-90 1 26 1-6 1-44 1 11 1 17 1-1 1 67 1 42 1-94 1 51 1-48 1 37 1-17 1-26 1 30 1-17 1 29 1-55 1 74 1-65 1-20 1-1 1 60 1-80 1 42 1 18 1-11 1 22 1 33 1-118 1 106 1-24 1-53 1-29 1 53 1-26 1 32 1 31 1 36 1 30 1-31 1 22 1-10 1 49 1-42 1-2 1-7 1-18 1 48 1-74 1 39 1 31 1-47 1-22 1 46 1 50 1-54 1 16 1 2 1 28 1-60 1-9 1 33 1-57 1 126 1-17 1 102 1-136 1-8 1 43 1-22 1 11 1 12 1-7 1-30 1-17 1 17 1-19 1 59 1-36 1-27 1-56 1 83 1-13 1 33 1 36 1-118 1 75 1-31 1-9 1 18 1 20 1-22 1-7 1 3 1 44 1-111 1-16 1 10 1 79 1-122 1 60 1 7 1-3 1 17 1-51 1 91 1-52 1 48 1-88 1 42 1-13 1 31 1-84 1 21 1 108 1-73 1-2 1-21 1 21 1 15 1 23 1 21 1-56 1 0 1-13 1 41 1-12 1-7 1-34 1 60 1-18 1-47 1-19 1 20 1 24 1 28 1 6 1-44 1-23 1 47 1 2 1 17 1-37 1 2 1-1 1-28 1 16 1 21 1 2 1 68 1-39 1-55 1-1 1 8 1 70 1-27 1 14 1 18 1-20 1 54 1-27 1-48 1 42 1-11 1 27 1-3 1-31 1 57 1-79 1-15 1 39 1-55 1 0 1 9 1-7 1 23 1-67 1 53 1 4 1-10 1 43 1-14 1-86 1 33 1-14 1 37 1-16 1 35 1-37 1 79 1-68 1 2 1 21 1 27 1-45 1 29 1-44 1 30 1 24 1-47 1 43 1-7 1-13 1 10 1-35 1 14 1-52 1 66 1-44 1-32 1 110 1-43 1-55 1 83 1-63 1 81 1-52 1 1 1-30 1-24 1 19 1 8 1 103 1-121 1 72 1-21 1 8 1-33 1 26 1-31 1 26 1-85 1 29 1 10 1 52 1-13 1-4 1 48 1-26 1-10 1-22 1 2 1 28 1-28 1-36 1-5 1 43 1 18 1-47 1 44 1-24 1 51 1 7 1 17 1-41 1-16 1 57 1-52 1 61 1 3 1-10 1-15 1-43 1 45 1 10 1-30 1 21 1-32 1 43 1 4 1-43 1 11 1 1 1-28 1-28 1 28 1-21 1 58 1-18 1 38 1-52 1-63 1 70 1-86 1 129 1-49 1-63 1 80 1-17 1 79 1-34 1-29 1 25 1 10 1-16 1 22 1-20 1 14 1-33 1 9 1 56 1-22 1 0 1-24 1 36 1 4 1-49 1 18 1-61 1-24 1-24 1 71 1-29 1 16 1 41 1-25 1 12 1 43 1-39 1 0 1-5 1 89 1-16 1-29 1-63 1 29 1 25 1 6 1-25 1 17 1 34 1-91 1 41 1 2 1 27 1-36 1-93 1 93 1 23 1-116 1 68 1-86 1 81 1 72 1-6 1-137 1 24 1 39 1-76 1 129 1-74 1 66 1-72 1 51 1-15 1-85 1 47 1-10 1 14 1 57 1-64 1 30 1-25 1 5 1-6 1-36 1 49 1-15 1 2 1-30 1 54 1-68 1 20 1 19 1 34 1-78 1 24 1-1 1 18 1-16 1 2 1-7 1-59 1 45 1-66 1 34 1 51 1 13 1-45 1 31 1-20 1 42 1-90 1 82 1 16 1-88 1-10 1-28 1 50 1-10 1-26 1-16 1 55 1 21 1-43 1 39 1-20 1-61 1 22 1 1 1 53 1-40 1 59 1 28 1-32 1 11 1-10 1-10 1-12 1 4 1 0 1 54 1-3 1-16 1-79 1 17 1-14 1 43 1-34 1-26 1 66 1-9 1-52 1 101 1-88 1 39 1 6 1 31 1-23 1 88 1-17 1-68 1 19 1 12 1-21 1 77 1-95 1 56 1 10 1-45 1-8 1 98 1-82 1 19 1-31 1-38 1 33 1 37 1-14 1-32 1 27 1 37 1-8 1 9 1-80 1 120 1-34 1-90 1 40 1 9 1 33 1-79 1 37 1-3 1-36 1-20 1 53 1 50 1-54 1 104" fill="none" stroke="#a01014" stroke-width="0.7" vector-effect="non-scaling-stroke" stroke-linejoin="round"/></g>
<rect x="25.8" y="6" width="216" height="158.6" fill="none" stroke="#777" stroke-width="1.3"/>
<rect x="329" y="6" width="215.8" height="158.5" fill="none" stroke="#777" stroke-width="1.3"/>
<g stroke="#777" stroke-width="1">
<line x1="26.30" y1="164.6" x2="26.30" y2="167.2"/><line x1="45.85" y1="164.6" x2="45.85" y2="166.2"/><line x1="65.40" y1="164.6" x2="65.40" y2="167.2"/><line x1="84.95" y1="164.6" x2="84.95" y2="166.2"/><line x1="104.50" y1="164.6" x2="104.50" y2="167.2"/><line x1="124.05" y1="164.6" x2="124.05" y2="166.2"/><line x1="143.60" y1="164.6" x2="143.60" y2="167.2"/><line x1="163.15" y1="164.6" x2="163.15" y2="166.2"/><line x1="182.70" y1="164.6" x2="182.70" y2="167.2"/><line x1="202.25" y1="164.6" x2="202.25" y2="166.2"/><line x1="221.80" y1="164.6" x2="221.80" y2="167.2"/><line x1="241.35" y1="164.6" x2="241.35" y2="166.2"/>
<line x1="329.20" y1="164.5" x2="329.20" y2="167.1"/><line x1="348.75" y1="164.5" x2="348.75" y2="166.1"/><line x1="368.30" y1="164.5" x2="368.30" y2="167.1"/><line x1="387.85" y1="164.5" x2="387.85" y2="166.1"/><line x1="407.40" y1="164.5" x2="407.40" y2="167.1"/><line x1="426.95" y1="164.5" x2="426.95" y2="166.1"/><line x1="446.50" y1="164.5" x2="446.50" y2="167.1"/><line x1="466.05" y1="164.5" x2="466.05" y2="166.1"/><line x1="485.60" y1="164.5" x2="485.60" y2="167.1"/><line x1="505.15" y1="164.5" x2="505.15" y2="166.1"/><line x1="524.70" y1="164.5" x2="524.70" y2="167.1"/><line x1="544.25" y1="164.5" x2="544.25" y2="166.1"/>
</g>
<g font-size="9">
<text x="26.30" y="177.3" text-anchor="middle">700</text><text x="65.40" y="177.3" text-anchor="middle">800</text><text x="104.50" y="177.3" text-anchor="middle">900</text><text x="143.60" y="177.3" text-anchor="middle">1000</text><text x="182.70" y="177.3" text-anchor="middle">1100</text><text x="221.80" y="177.3" text-anchor="middle">1200</text>
<text x="329.20" y="177.2" text-anchor="middle">700</text><text x="368.30" y="177.2" text-anchor="middle">800</text><text x="407.40" y="177.2" text-anchor="middle">900</text><text x="446.50" y="177.2" text-anchor="middle">1000</text><text x="485.60" y="177.2" text-anchor="middle">1100</text><text x="524.70" y="177.2" text-anchor="middle">1200</text>
</g>
<text x="30.5" y="22.2" font-size="12.45">161 nm PS</text>
<text x="335.5" y="22.6" font-size="12.6">33 nm PS</text>
<g font-size="8" text-anchor="end">
<text x="236.5" y="37">100 <tspan font-family="Liberation Serif" font-weight="normal">µ</tspan>g/mL</text>
<text x="236" y="72.3">40 <tspan font-family="Liberation Serif" font-weight="normal">µ</tspan>g/mL</text>
<text x="236.5" y="129.8">20 <tspan font-family="Liberation Serif" font-weight="normal">µ</tspan>g/mL</text>
<text x="540.5" y="39">100 <tspan font-family="Liberation Serif" font-weight="normal">µ</tspan>g/mL</text>
<text x="540.8" y="89.8">40 <tspan font-family="Liberation Serif" font-weight="normal">µ</tspan>g/mL</text>
<text x="540.8" y="124.3">20 <tspan font-family="Liberation Serif" font-weight="normal">µ</tspan>g/mL</text>
</g>
<g font-size="9">
<text transform="translate(16,84.2) rotate(-90)" text-anchor="middle" font-size="9.8">Intensity / a.u</text>
<text transform="translate(319.2,85) rotate(-90)" text-anchor="middle" font-size="9.8">Intensity / a.u</text>
<text x="93" y="193.3">Raman shift / cm<tspan font-size="6" dy="-3.5">-1</tspan></text>
<text x="395" y="192.8">Raman shift / cm<tspan font-size="6" dy="-3.5">-1</tspan></text>
</g>
<defs><clipPath id="pa"><rect x="110.8" y="210.2" width="130.2" height="81.8"/></clipPath><clipPath id="pb"><rect x="241" y="210.2" width="132.5" height="81.8"/></clipPath><clipPath id="pc"><rect x="373.5" y="210.2" width="131.1" height="81.8"/></clipPath><clipPath id="pd"><rect x="110.8" y="292" width="130.2" height="82.7"/></clipPath><clipPath id="pe"><rect x="241" y="292" width="132.5" height="82.7"/></clipPath><clipPath id="pf"><rect x="373.5" y="292" width="131.1" height="82.7"/></clipPath><filter id="b1" x="-20%" y="-20%" width="140%" height="140%"><feGaussianBlur stdDeviation="0.6"/></filter><filter id="b2" x="-20%" y="-20%" width="140%" height="140%"><feGaussianBlur stdDeviation="1.5"/></filter><filter id="b3" x="-50%" y="-50%" width="200%" height="200%"><feGaussianBlur stdDeviation="3"/></filter><filter id="tAl" x="0" y="0" width="100%" height="100%" color-interpolation-filters="sRGB"><feTurbulence type="fractalNoise" baseFrequency="0.3 0.22" numOctaves="3" seed="3"/><feColorMatrix type="matrix" values="0 0 0 0 0.494 0 0 0 0 0.651 0 0 0 0 0.722 1.7 0 0 0 -0.85"/><feGaussianBlur stdDeviation="0.6"/></filter><filter id="tAd" x="0" y="0" width="100%" height="100%" color-interpolation-filters="sRGB"><feTurbulence type="fractalNoise" baseFrequency="0.12" numOctaves="3" seed="9"/><feColorMatrix type="matrix" values="0 0 0 0 0.165 0 0 0 0 0.322 0 0 0 0 0.392 1.4 0 0 0 -0.7"/><feGaussianBlur stdDeviation="1.0"/></filter><filter id="tBl" x="0" y="0" width="100%" height="100%" color-interpolation-filters="sRGB"><feTurbulence type="fractalNoise" baseFrequency="0.25" numOctaves="3" seed="4"/><feColorMatrix type="matrix" values="0 0 0 0 0.769 0 0 0 0 0.824 0 0 0 0 0.745 2.0 0 0 0 -1.05"/><feGaussianBlur stdDeviation="0.6"/></filter><filter id="tBd" x="0" y="0" width="100%" height="100%" color-interpolation-filters="sRGB"><feTurbulence type="fractalNoise" baseFrequency="0.3" numOctaves="3" seed="12"/><feColorMatrix type="matrix" values="0 0 0 0 0.541 0 0 0 0 0.612 0 0 0 0 0.525 1.8 0 0 0 -1.0"/><feGaussianBlur stdDeviation="0.6"/></filter><filter id="tCl" x="0" y="0" width="100%" height="100%" color-interpolation-filters="sRGB"><feTurbulence type="fractalNoise" baseFrequency="0.3" numOctaves="3" seed="5"/><feColorMatrix type="matrix" values="0 0 0 0 0.867 0 0 0 0 0.878 0 0 0 0 0.878 2.0 0 0 0 -1.0"/><feGaussianBlur stdDeviation="0.5"/></filter><filter id="tCd" x="0" y="0" width="100%" height="100%" color-interpolation-filters="sRGB"><feTurbulence type="fractalNoise" baseFrequency="0.35" numOctaves="3" seed="13"/><feColorMatrix type="matrix" values="0 0 0 0 0.627 0 0 0 0 0.651 0 0 0 0 0.667 2.0 0 0 0 -1.05"/><feGaussianBlur stdDeviation="0.5"/></filter><filter id="tDl" x="0" y="0" width="100%" height="100%" color-interpolation-filters="sRGB"><feTurbulence type="fractalNoise" baseFrequency="0.12" numOctaves="3" seed="6"/><feColorMatrix type="matrix" values="0 0 0 0 0.824 0 0 0 0 0.886 0 0 0 0 0.737 1.6 0 0 0 -0.9"/><feGaussianBlur stdDeviation="0.6"/></filter><filter id="tEl" x="0" y="0" width="100%" height="100%" color-interpolation-filters="sRGB"><feTurbulence type="fractalNoise" baseFrequency="0.12" numOctaves="3" seed="7"/><feColorMatrix type="matrix" values="0 0 0 0 0.863 0 0 0 0 0.925 0 0 0 0 0.784 1.6 0 0 0 -0.9"/><feGaussianBlur stdDeviation="0.6"/></filter><filter id="tFl" x="0" y="0" width="100%" height="100%" color-interpolation-filters="sRGB"><feTurbulence type="fractalNoise" baseFrequency="0.15" numOctaves="3" seed="8"/><feColorMatrix type="matrix" values="0 0 0 0 0.957 0 0 0 0 0.937 0 0 0 0 0.886 1.6 0 0 0 -0.9"/><feGaussianBlur stdDeviation="0.6"/></filter></defs>
<g clip-path="url(#pa)"><rect x="110.8" y="210.2" width="130.2" height="81.8" fill="#3e677c"/><rect x="110.8" y="210.2" width="130.2" height="81.8" filter="url(#tAl)"/><rect x="110.8" y="210.2" width="130.2" height="81.8" filter="url(#tAd)"/>
<g filter="url(#b1)"><ellipse cx="127.7" cy="251.2" rx="0.82" ry="0.51" fill="#9cc0cc" opacity="0.67"/><ellipse cx="120.2" cy="221.1" rx="1.06" ry="1.17" fill="#8ab2c0" opacity="0.45"/><ellipse cx="177.5" cy="264.5" rx="0.59" ry="0.42" fill="#9cc0cc" opacity="0.57"/><ellipse cx="177.6" cy="277.1" rx="0.78" ry="1.09" fill="#78a4b4" opacity="0.38"/><ellipse cx="183.0" cy="249.9" rx="0.65" ry="0.69" fill="#78a4b4" opacity="0.62"/><ellipse cx="223.8" cy="221.0" rx="0.73" ry="0.60" fill="#8ab2c0" opacity="0.33"/><ellipse cx="227.5" cy="245.5" rx="0.50" ry="0.57" fill="#8ab2c0" opacity="0.66"/><ellipse cx="139.2" cy="213.2" rx="0.54" ry="0.47" fill="#8ab2c0" opacity="0.49"/><ellipse cx="228.8" cy="267.3" rx="0.64" ry="0.39" fill="#8ab2c0" opacity="0.70"/><ellipse cx="170.8" cy="266.8" rx="0.44" ry="0.27" fill="#8ab2c0" opacity="0.64"/><ellipse cx="187.4" cy="235.7" rx="0.62" ry="0.42" fill="#78a4b4" opacity="0.31"/><ellipse cx="220.1" cy="248.5" rx="0.49" ry="0.58" fill="#8ab2c0" opacity="0.38"/><ellipse cx="119.0" cy="259.3" rx="1.03" ry="0.64" fill="#9cc0cc" opacity="0.38"/><ellipse cx="123.1" cy="212.0" rx="0.61" ry="0.72" fill="#78a4b4" opacity="0.50"/><ellipse cx="221.9" cy="228.2" rx="0.62" ry="0.50" fill="#9cc0cc" opacity="0.68"/><ellipse cx="155.3" cy="246.0" rx="0.62" ry="0.74" fill="#78a4b4" opacity="0.32"/><ellipse cx="119.8" cy="243.4" rx="0.57" ry="0.73" fill="#8ab2c0" opacity="0.52"/><ellipse cx="197.0" cy="266.9" rx="0.95" ry="1.27" fill="#78a4b4" opacity="0.36"/><ellipse cx="192.4" cy="222.2" rx="0.71" ry="0.87" fill="#78a4b4" opacity="0.60"/><ellipse cx="115.6" cy="239.8" rx="0.51" ry="0.72" fill="#78a4b4" opacity="0.36"/><ellipse cx="142.8" cy="239.6" rx="0.44" ry="0.57" fill="#9cc0cc" opacity="0.36"/><ellipse cx="175.8" cy="216.9" rx="0.83" ry="0.65" fill="#9cc0cc" opacity="0.32"/><ellipse cx="126.0" cy="255.8" rx="0.85" ry="0.73" fill="#9cc0cc" opacity="0.44"/><ellipse cx="128.0" cy="236.2" rx="0.68" ry="0.90" fill="#9cc0cc" opacity="0.35"/><ellipse cx="122.2" cy="256.3" rx="1.07" ry="1.42" fill="#9cc0cc" opacity="0.33"/><ellipse cx="215.8" cy="266.2" rx="0.50" ry="0.49" fill="#78a4b4" opacity="0.32"/><ellipse cx="215.2" cy="269.1" rx="0.96" ry="1.16" fill="#9cc0cc" opacity="0.62"/><ellipse cx="143.4" cy="221.7" rx="0.67" ry="0.67" fill="#8ab2c0" opacity="0.41"/><ellipse cx="189.8" cy="259.6" rx="0.57" ry="0.62" fill="#8ab2c0" opacity="0.59"/><ellipse cx="148.8" cy="275.6" rx="0.69" ry="0.72" fill="#9cc0cc" opacity="0.57"/><ellipse cx="178.4" cy="231.5" rx="1.09" ry="0.73" fill="#9cc0cc" opacity="0.52"/><ellipse cx="114.7" cy="223.1" rx="0.96" ry="1.18" fill="#8ab2c0" opacity="0.55"/><ellipse cx="228.2" cy="272.1" rx="0.61" ry="0.68" fill="#78a4b4" opacity="0.60"/><ellipse cx="161.0" cy="223.0" rx="1.01" ry="1.17" fill="#9cc0cc" opacity="0.60"/><ellipse cx="183.7" cy="274.3" rx="0.71" ry="0.75" fill="#8ab2c0" opacity="0.52"/><ellipse cx="216.9" cy="268.0" rx="0.96" ry="0.96" fill="#8ab2c0" opacity="0.65"/><ellipse cx="125.1" cy="281.9" rx="0.66" ry="0.44" fill="#78a4b4" opacity="0.48"/><ellipse cx="166.7" cy="279.9" rx="0.50" ry="0.54" fill="#9cc0cc" opacity="0.47"/><ellipse cx="179.7" cy="251.2" rx="0.49" ry="0.50" fill="#8ab2c0" opacity="0.37"/><ellipse cx="112.5" cy="216.0" rx="0.72" ry="1.00" fill="#78a4b4" opacity="0.32"/><ellipse cx="239.8" cy="254.2" rx="0.48" ry="0.45" fill="#8ab2c0" opacity="0.59"/><ellipse cx="181.4" cy="234.0" rx="0.58" ry="0.75" fill="#8ab2c0" opacity="0.61"/><ellipse cx="167.7" cy="243.5" rx="0.92" ry="1.26" fill="#78a4b4" opacity="0.36"/><ellipse cx="158.1" cy="251.9" rx="0.45" ry="0.29" fill="#8ab2c0" opacity="0.39"/><ellipse cx="161.2" cy="270.8" rx="0.83" ry="0.52" fill="#9cc0cc" opacity="0.48"/><ellipse cx="224.7" cy="285.1" rx="0.66" ry="0.86" fill="#8ab2c0" opacity="0.67"/><ellipse cx="163.9" cy="271.3" rx="0.66" ry="0.47" fill="#8ab2c0" opacity="0.33"/><ellipse cx="197.2" cy="276.4" rx="1.04" ry="1.00" fill="#9cc0cc" opacity="0.35"/><ellipse cx="228.3" cy="281.4" rx="1.08" ry="1.16" fill="#8ab2c0" opacity="0.45"/><ellipse cx="134.8" cy="234.3" rx="0.90" ry="0.78" fill="#78a4b4" opacity="0.58"/><ellipse cx="176.3" cy="247.1" rx="1.08" ry="0.79" fill="#8ab2c0" opacity="0.36"/><ellipse cx="232.9" cy="250.3" rx="0.63" ry="0.46" fill="#9cc0cc" opacity="0.54"/><ellipse cx="162.9" cy="220.9" rx="0.42" ry="0.39" fill="#78a4b4" opacity="0.51"/><ellipse cx="228.0" cy="284.8" rx="1.06" ry="1.31" fill="#9cc0cc" opacity="0.49"/><ellipse cx="179.1" cy="242.9" rx="0.68" ry="0.43" fill="#8ab2c0" opacity="0.40"/><ellipse cx="114.8" cy="248.5" rx="0.90" ry="0.86" fill="#78a4b4" opacity="0.45"/><ellipse cx="196.6" cy="223.8" rx="0.41" ry="0.44" fill="#78a4b4" opacity="0.65"/><ellipse cx="165.1" cy="274.6" rx="0.41" ry="0.26" fill="#9cc0cc" opacity="0.54"/><ellipse cx="140.4" cy="216.0" rx="0.49" ry="0.44" fill="#8ab2c0" opacity="0.53"/><ellipse cx="226.4" cy="240.3" rx="0.53" ry="0.56" fill="#9cc0cc" opacity="0.30"/><ellipse cx="161.0" cy="236.4" rx="0.67" ry="0.43" fill="#78a4b4" opacity="0.55"/><ellipse cx="208.4" cy="288.5" rx="0.65" ry="0.73" fill="#9cc0cc" opacity="0.48"/><ellipse cx="139.0" cy="283.0" rx="0.92" ry="1.25" fill="#8ab2c0" opacity="0.67"/><ellipse cx="127.6" cy="211.8" rx="0.54" ry="0.50" fill="#78a4b4" opacity="0.58"/><ellipse cx="168.0" cy="252.3" rx="0.93" ry="0.61" fill="#8ab2c0" opacity="0.32"/><ellipse cx="143.3" cy="269.4" rx="0.88" ry="0.81" fill="#78a4b4" opacity="0.42"/><ellipse cx="218.7" cy="232.9" rx="0.42" ry="0.34" fill="#9cc0cc" opacity="0.62"/><ellipse cx="126.9" cy="289.9" rx="0.55" ry="0.46" fill="#8ab2c0" opacity="0.53"/><ellipse cx="151.1" cy="241.4" rx="0.47" ry="0.43" fill="#9cc0cc" opacity="0.39"/><ellipse cx="229.2" cy="233.4" rx="0.59" ry="0.67" fill="#8ab2c0" opacity="0.65"/><ellipse cx="149.5" cy="241.2" rx="0.90" ry="1.11" fill="#9cc0cc" opacity="0.37"/><ellipse cx="134.5" cy="272.3" rx="0.89" ry="1.18" fill="#9cc0cc" opacity="0.61"/><ellipse cx="165.8" cy="221.4" rx="1.02" ry="1.18" fill="#78a4b4" opacity="0.57"/><ellipse cx="161.1" cy="238.5" rx="0.80" ry="0.79" fill="#9cc0cc" opacity="0.58"/><ellipse cx="232.7" cy="279.6" rx="0.67" ry="0.60" fill="#9cc0cc" opacity="0.46"/><ellipse cx="215.0" cy="218.1" rx="0.72" ry="0.73" fill="#78a4b4" opacity="0.62"/><ellipse cx="225.1" cy="222.9" rx="0.83" ry="0.92" fill="#8ab2c0" opacity="0.63"/><ellipse cx="183.0" cy="288.9" rx="0.53" ry="0.54" fill="#8ab2c0" opacity="0.43"/><ellipse cx="194.5" cy="260.1" rx="0.76" ry="0.65" fill="#8ab2c0" opacity="0.45"/><ellipse cx="226.8" cy="248.1" rx="0.73" ry="0.59" fill="#9cc0cc" opacity="0.40"/><ellipse cx="235.0" cy="236.1" rx="1.01" ry="1.08" fill="#8ab2c0" opacity="0.37"/><ellipse cx="233.4" cy="273.5" rx="0.80" ry="0.93" fill="#78a4b4" opacity="0.59"/><ellipse cx="169.3" cy="262.2" rx="0.56" ry="0.35" fill="#8ab2c0" opacity="0.49"/><ellipse cx="228.7" cy="232.0" rx="0.97" ry="1.35" fill="#78a4b4" opacity="0.66"/><ellipse cx="236.4" cy="223.5" rx="0.52" ry="0.40" fill="#9cc0cc" opacity="0.35"/><ellipse cx="130.6" cy="212.0" rx="1.05" ry="0.94" fill="#9cc0cc" opacity="0.55"/><ellipse cx="170.1" cy="271.1" rx="0.96" ry="0.87" fill="#8ab2c0" opacity="0.34"/><ellipse cx="148.1" cy="228.7" rx="0.62" ry="0.53" fill="#9cc0cc" opacity="0.53"/><ellipse cx="154.3" cy="237.1" rx="0.98" ry="0.60" fill="#9cc0cc" opacity="0.32"/><ellipse cx="223.5" cy="262.1" rx="0.91" ry="1.24" fill="#8ab2c0" opacity="0.39"/></g>
<g filter="url(#b2)"><ellipse cx="199.5" cy="275.5" rx="1.57" ry="1.00" fill="#5c8cb4" opacity="0.79"/><ellipse cx="228.7" cy="257.9" rx="2.08" ry="1.80" fill="#5c8cb4" opacity="0.79"/><ellipse cx="198.1" cy="290.0" rx="1.97" ry="1.40" fill="#5c8cb4" opacity="0.57"/><ellipse cx="225.0" cy="236.6" rx="2.02" ry="2.36" fill="#7aa8c8" opacity="0.65"/><ellipse cx="237.2" cy="217.7" rx="1.66" ry="2.27" fill="#5c8cb4" opacity="0.52"/><ellipse cx="225.5" cy="234.0" rx="1.42" ry="1.91" fill="#7aa8c8" opacity="0.46"/><ellipse cx="239.6" cy="288.7" rx="2.10" ry="2.91" fill="#6a9cc0" opacity="0.46"/><ellipse cx="221.4" cy="242.8" rx="1.60" ry="1.01" fill="#6a9cc0" opacity="0.41"/><ellipse cx="193.7" cy="270.3" rx="1.10" ry="0.71" fill="#6a9cc0" opacity="0.48"/><ellipse cx="213.7" cy="248.3" rx="1.67" ry="1.60" fill="#7aa8c8" opacity="0.43"/><ellipse cx="189.9" cy="287.6" rx="1.10" ry="0.83" fill="#6a9cc0" opacity="0.47"/><ellipse cx="204.1" cy="227.1" rx="1.08" ry="1.03" fill="#5c8cb4" opacity="0.55"/><ellipse cx="200.2" cy="256.8" rx="2.08" ry="1.44" fill="#5c8cb4" opacity="0.63"/><ellipse cx="157.7" cy="223.2" rx="2.02" ry="2.38" fill="#5c8cb4" opacity="0.70"/><ellipse cx="127.5" cy="254.2" rx="1.65" ry="1.70" fill="#5c8cb4" opacity="0.54"/><ellipse cx="203.4" cy="249.7" rx="1.14" ry="0.94" fill="#6a9cc0" opacity="0.74"/><ellipse cx="237.4" cy="240.9" rx="2.05" ry="1.59" fill="#7aa8c8" opacity="0.68"/><ellipse cx="205.9" cy="268.1" rx="2.04" ry="1.76" fill="#5c8cb4" opacity="0.44"/><ellipse cx="190.6" cy="246.0" rx="2.09" ry="2.54" fill="#7aa8c8" opacity="0.49"/><ellipse cx="216.8" cy="254.4" rx="1.45" ry="0.96" fill="#7aa8c8" opacity="0.67"/><ellipse cx="215.8" cy="257.0" rx="2.09" ry="2.50" fill="#6a9cc0" opacity="0.53"/><ellipse cx="186.7" cy="242.4" rx="1.15" ry="0.73" fill="#6a9cc0" opacity="0.47"/><ellipse cx="187.8" cy="277.5" rx="1.47" ry="0.97" fill="#5c8cb4" opacity="0.43"/><ellipse cx="185.1" cy="257.6" rx="2.06" ry="1.69" fill="#6a9cc0" opacity="0.62"/><ellipse cx="127.3" cy="234.7" rx="1.72" ry="1.14" fill="#5c8cb4" opacity="0.58"/><ellipse cx="200.5" cy="232.4" rx="1.30" ry="1.12" fill="#5c8cb4" opacity="0.64"/><ellipse cx="164.9" cy="235.9" rx="1.72" ry="1.18" fill="#6a9cc0" opacity="0.68"/><ellipse cx="127.1" cy="256.3" rx="2.04" ry="2.52" fill="#6a9cc0" opacity="0.55"/><ellipse cx="213.4" cy="270.0" rx="1.01" ry="1.13" fill="#5c8cb4" opacity="0.45"/><ellipse cx="193.0" cy="246.8" rx="1.32" ry="1.35" fill="#6a9cc0" opacity="0.50"/><ellipse cx="223.6" cy="265.7" rx="1.91" ry="2.18" fill="#7aa8c8" opacity="0.46"/><ellipse cx="234.0" cy="291.7" rx="1.39" ry="1.94" fill="#6a9cc0" opacity="0.79"/><ellipse cx="198.2" cy="221.5" rx="1.30" ry="1.76" fill="#7aa8c8" opacity="0.57"/><ellipse cx="210.0" cy="284.0" rx="2.05" ry="1.67" fill="#7aa8c8" opacity="0.53"/><ellipse cx="208.9" cy="270.9" rx="1.65" ry="1.44" fill="#7aa8c8" opacity="0.75"/><ellipse cx="164.2" cy="263.5" rx="1.43" ry="0.97" fill="#5c8cb4" opacity="0.54"/><ellipse cx="206.3" cy="238.3" rx="1.15" ry="1.04" fill="#6a9cc0" opacity="0.60"/><ellipse cx="155.7" cy="257.2" rx="1.88" ry="1.75" fill="#6a9cc0" opacity="0.78"/><ellipse cx="219.0" cy="272.1" rx="1.37" ry="1.63" fill="#6a9cc0" opacity="0.51"/><ellipse cx="232.0" cy="279.2" rx="1.66" ry="2.23" fill="#6a9cc0" opacity="0.49"/></g>
<line x1="181.6" y1="241.8" x2="203.3" y2="237.6" stroke="#c4d8d8" stroke-width="1.3" opacity="0.75" stroke-linecap="round" filter="url(#b1)"/>
<line x1="171.7" y1="251.2" x2="181.3" y2="251.2" stroke="#1a2630" stroke-width="1.0"/><line x1="176.5" y1="246.0" x2="176.5" y2="256.4" stroke="#1a2630" stroke-width="1.0"/>
<rect x="111.5" y="282.6" width="26.1" height="9.9" fill="#f6f6f6"/><rect x="112.0" y="283.5" width="25.0" height="1.7" fill="#111"/><rect x="119.8" y="287.7" width="9" height="1.6" fill="#707070" opacity="0.8" filter="url(#b1)"/>
</g>
<g clip-path="url(#pb)"><rect x="241" y="210.2" width="132.5" height="81.8" fill="#abbaa3"/><rect x="241" y="210.2" width="132.5" height="81.8" filter="url(#tBl)"/><rect x="241" y="210.2" width="132.5" height="81.8" filter="url(#tBd)"/>
<line x1="302.5" y1="251.3" x2="312.1" y2="251.3" stroke="#2a3228" stroke-width="0.85"/><line x1="307.3" y1="246.1" x2="307.3" y2="256.5" stroke="#2a3228" stroke-width="0.85"/>
<rect x="243.2" y="282.7" width="25.6" height="9.9" fill="#f6f6f6"/><rect x="243.7" y="283.6" width="24.5" height="1.7" fill="#111"/><rect x="251.2" y="287.8" width="9" height="1.6" fill="#707070" opacity="0.8" filter="url(#b1)"/>
</g>
<g clip-path="url(#pc)"><rect x="373.5" y="210.2" width="131.1" height="81.8" fill="#c8cccb"/><rect x="373.5" y="210.2" width="131.1" height="81.8" filter="url(#tCl)"/><rect x="373.5" y="210.2" width="131.1" height="81.8" filter="url(#tCd)"/>
<ellipse cx="410" cy="276" rx="52" ry="24" fill="#9cadc8" opacity="0.4" filter="url(#b3)"/>
<g filter="url(#b2)" fill="none" stroke="#5c7cba" opacity="0.36"><path d="M373 260 C 390 261, 405 264, 420 268 C 432 272, 445 273, 458 270 C 468 268, 478 267, 488 267" stroke-width="3.6"/><path d="M373 279 C 390 280, 405 281, 420 283 C 436 287, 452 286, 474 284" stroke-width="3.6"/><path d="M373 267 C 385 268, 395 270, 405 273" stroke-width="2.4" opacity="0.7"/><path d="M373 246 C 385 248, 395 251, 405 255" stroke-width="2.4" opacity="0.45"/></g>
<g filter="url(#b1)" fill="none" stroke="#4a6cb0" opacity="0.2"><path d="M380 261 C 395 262, 408 265, 420 268.5 C 430 271.5, 440 272.5, 450 271.5" stroke-width="1.2"/><path d="M425 284 C 438 287, 452 286, 470 284.5" stroke-width="1.2"/></g>
<ellipse cx="438.5" cy="255" rx="8" ry="8.5" fill="#b4c6dc" opacity="0.55" filter="url(#b2)"/>
<ellipse cx="438.4" cy="255.2" rx="4.2" ry="4.8" fill="#5a88b6" opacity="0.8" filter="url(#b1)"/>
<line x1="433.7" y1="252.8" x2="441.3" y2="252.8" stroke="#1c2a44" stroke-width="1.0"/><line x1="437.5" y1="247.8" x2="437.5" y2="257.8" stroke="#1c2a44" stroke-width="1.0"/>
<rect x="374.9" y="283.2" width="24.3" height="9.9" fill="#f6f6f6"/><rect x="375.4" y="284.1" width="23.2" height="1.7" fill="#111"/><rect x="382.2" y="288.3" width="9" height="1.6" fill="#707070" opacity="0.8" filter="url(#b1)"/>
</g>
<g clip-path="url(#pd)"><rect x="110.8" y="292" width="130.2" height="82.7" fill="#bbd2a8"/><rect x="110.8" y="292" width="130.2" height="82.7" filter="url(#tDl)"/>
<g filter="url(#b2)"><ellipse cx="140" cy="297.4" rx="3.2" ry="2.6" fill="#b4b07a" opacity="0.67"/><ellipse cx="143.4" cy="318" rx="2.8" ry="2.3" fill="#b4b07a" opacity="0.61"/><ellipse cx="113" cy="317" rx="2.7" ry="1.7" fill="#b4b07a" opacity="0.62"/><ellipse cx="115.4" cy="335" rx="2.8" ry="2.1" fill="#b4b07a" opacity="0.65"/><ellipse cx="130.5" cy="348" rx="2.5" ry="2.5" fill="#b4b07a" opacity="0.67"/><ellipse cx="140" cy="341.6" rx="1.9" ry="2.4" fill="#b4b07a" opacity="0.54"/><ellipse cx="139" cy="354.5" rx="1.9" ry="1.6" fill="#b4b07a" opacity="0.55"/><ellipse cx="125" cy="327" rx="2.6" ry="1.9" fill="#b4b07a" opacity="0.51"/><ellipse cx="150" cy="303" rx="3.0" ry="1.9" fill="#b4b07a" opacity="0.71"/><ellipse cx="120" cy="300" rx="2.2" ry="2.3" fill="#b4b07a" opacity="0.56"/><ellipse cx="160" cy="318" rx="3.1" ry="2.3" fill="#b4b07a" opacity="0.65"/><ellipse cx="152" cy="345" rx="1.9" ry="2.4" fill="#b4b07a" opacity="0.56"/></g>
<ellipse cx="172" cy="338" rx="26" ry="22" fill="#d8e8b6" opacity="0.7" filter="url(#b3)"/>
<ellipse cx="120" cy="305" rx="25" ry="18" fill="#c4d8ac" opacity="0.4" filter="url(#b3)"/>
<path d="M156 338 C 155 328, 166 321, 178 323 C 188 325, 192 336, 189 346 C 186 355, 170 358, 161 351 C 157 347, 156 342, 156 338 Z" fill="#4c5a44" opacity="0.5" filter="url(#b2)"/>
<g filter="url(#b1)"><ellipse cx="161.1" cy="325.4" rx="0.96" ry="0.59" fill="#5a644c" opacity="0.94"/><ellipse cx="163.7" cy="331.3" rx="1.88" ry="1.16" fill="#64787a" opacity="0.62"/><ellipse cx="165.5" cy="330.5" rx="1.87" ry="1.43" fill="#34402e" opacity="0.95"/><ellipse cx="165.3" cy="331.0" rx="1.59" ry="2.06" fill="#6a7458" opacity="0.66"/><ellipse cx="163.0" cy="328.6" rx="1.32" ry="1.03" fill="#2e3a2a" opacity="0.80"/><ellipse cx="164.4" cy="330.2" rx="1.63" ry="1.95" fill="#6a7458" opacity="0.80"/><ellipse cx="164.4" cy="327.6" rx="1.02" ry="0.65" fill="#6a7458" opacity="0.69"/><ellipse cx="165.2" cy="330.1" rx="1.25" ry="1.06" fill="#2e3a2a" opacity="0.90"/><ellipse cx="166.5" cy="329.9" rx="1.08" ry="1.37" fill="#34402e" opacity="0.73"/><ellipse cx="163.0" cy="332.1" rx="1.46" ry="1.71" fill="#6a7458" opacity="0.69"/><ellipse cx="171.2" cy="327.5" rx="1.11" ry="0.88" fill="#5a644c" opacity="0.69"/><ellipse cx="167.1" cy="328.7" rx="0.95" ry="0.80" fill="#4a5442" opacity="0.85"/><ellipse cx="168.6" cy="328.9" rx="1.74" ry="1.34" fill="#5a644c" opacity="0.89"/><ellipse cx="165.5" cy="326.6" rx="0.84" ry="0.88" fill="#64787a" opacity="0.82"/><ellipse cx="163.9" cy="329.5" rx="2.02" ry="1.25" fill="#4a5442" opacity="0.62"/><ellipse cx="165.2" cy="329.7" rx="1.93" ry="1.25" fill="#3e4a38" opacity="0.67"/><ellipse cx="166.8" cy="329.6" rx="1.14" ry="1.00" fill="#2e3a2a" opacity="0.70"/><ellipse cx="158.6" cy="334.4" rx="1.59" ry="1.68" fill="#3e4a38" opacity="0.82"/><ellipse cx="165.1" cy="331.4" rx="1.56" ry="1.17" fill="#3e4a38" opacity="0.68"/><ellipse cx="161.0" cy="330.5" rx="1.01" ry="1.17" fill="#5a644c" opacity="0.87"/><ellipse cx="168.4" cy="328.3" rx="1.34" ry="1.25" fill="#34402e" opacity="0.81"/><ellipse cx="167.1" cy="330.6" rx="1.80" ry="1.10" fill="#6a7458" opacity="0.67"/><ellipse cx="159.9" cy="330.0" rx="1.46" ry="1.82" fill="#64787a" opacity="0.77"/><ellipse cx="166.1" cy="332.2" rx="2.02" ry="1.47" fill="#34402e" opacity="0.65"/><ellipse cx="164.7" cy="329.2" rx="1.79" ry="2.12" fill="#6a7458" opacity="0.63"/><ellipse cx="162.7" cy="328.4" rx="1.80" ry="1.66" fill="#3e4a38" opacity="0.82"/><ellipse cx="166.1" cy="330.1" rx="0.95" ry="1.05" fill="#34402e" opacity="0.92"/><ellipse cx="166.5" cy="329.7" rx="1.42" ry="1.22" fill="#64787a" opacity="0.74"/><ellipse cx="165.2" cy="330.7" rx="1.68" ry="1.78" fill="#3e4a38" opacity="0.62"/><ellipse cx="164.2" cy="322.5" rx="1.64" ry="1.90" fill="#3e4a38" opacity="0.82"/><ellipse cx="162.1" cy="346.0" rx="1.73" ry="2.08" fill="#34402e" opacity="0.86"/><ellipse cx="162.5" cy="341.4" rx="0.85" ry="1.06" fill="#2e3a2a" opacity="0.68"/><ellipse cx="158.6" cy="339.7" rx="1.62" ry="1.01" fill="#2e3a2a" opacity="0.70"/><ellipse cx="154.2" cy="339.3" rx="1.70" ry="1.52" fill="#64787a" opacity="0.82"/><ellipse cx="157.8" cy="341.2" rx="1.13" ry="0.68" fill="#6a7458" opacity="0.82"/><ellipse cx="156.7" cy="342.1" rx="1.57" ry="1.26" fill="#2e3a2a" opacity="0.91"/><ellipse cx="157.4" cy="340.5" rx="1.20" ry="1.01" fill="#64787a" opacity="0.83"/><ellipse cx="154.2" cy="339.6" rx="0.93" ry="1.02" fill="#2e3a2a" opacity="0.90"/><ellipse cx="165.1" cy="338.7" rx="1.77" ry="2.27" fill="#64787a" opacity="0.79"/><ellipse cx="162.7" cy="343.4" rx="1.58" ry="1.12" fill="#4a5442" opacity="0.84"/><ellipse cx="152.0" cy="339.1" rx="1.58" ry="1.17" fill="#5a644c" opacity="0.70"/><ellipse cx="158.1" cy="339.3" rx="1.55" ry="1.16" fill="#64787a" opacity="0.89"/><ellipse cx="155.6" cy="339.6" rx="1.42" ry="1.30" fill="#6a7458" opacity="0.72"/><ellipse cx="159.3" cy="337.4" rx="1.76" ry="1.92" fill="#34402e" opacity="0.93"/><ellipse cx="158.3" cy="337.4" rx="2.09" ry="2.01" fill="#34402e" opacity="0.85"/><ellipse cx="160.0" cy="337.1" rx="1.78" ry="1.88" fill="#5a644c" opacity="0.70"/><ellipse cx="161.3" cy="338.3" rx="1.83" ry="2.27" fill="#2e3a2a" opacity="0.86"/><ellipse cx="159.1" cy="336.9" rx="1.51" ry="1.16" fill="#3e4a38" opacity="0.61"/><ellipse cx="156.7" cy="342.0" rx="1.62" ry="1.83" fill="#64787a" opacity="0.76"/><ellipse cx="165.4" cy="338.6" rx="1.46" ry="1.47" fill="#34402e" opacity="0.71"/><ellipse cx="160.1" cy="337.3" rx="1.04" ry="1.30" fill="#3e4a38" opacity="0.74"/><ellipse cx="160.8" cy="340.0" rx="1.44" ry="1.42" fill="#4a5442" opacity="0.62"/><ellipse cx="162.4" cy="341.3" rx="0.99" ry="1.27" fill="#64787a" opacity="0.85"/><ellipse cx="165.9" cy="339.9" rx="1.29" ry="1.21" fill="#4a5442" opacity="0.73"/><ellipse cx="161.0" cy="341.7" rx="1.06" ry="0.67" fill="#5a644c" opacity="0.62"/><ellipse cx="159.6" cy="338.8" rx="2.07" ry="1.52" fill="#64787a" opacity="0.91"/><ellipse cx="159.8" cy="339.0" rx="1.65" ry="1.18" fill="#6a7458" opacity="0.84"/><ellipse cx="160.0" cy="339.2" rx="1.35" ry="1.72" fill="#34402e" opacity="0.60"/><ellipse cx="157.3" cy="345.1" rx="1.13" ry="1.00" fill="#64787a" opacity="0.72"/><ellipse cx="157.1" cy="339.6" rx="1.52" ry="1.74" fill="#2e3a2a" opacity="0.87"/><ellipse cx="169.2" cy="346.6" rx="0.97" ry="0.73" fill="#2e3a2a" opacity="0.92"/><ellipse cx="163.3" cy="343.7" rx="1.63" ry="1.50" fill="#4a5442" opacity="0.61"/><ellipse cx="160.4" cy="350.6" rx="1.14" ry="1.35" fill="#4a5442" opacity="0.84"/><ellipse cx="167.1" cy="345.6" rx="1.37" ry="0.96" fill="#6a7458" opacity="0.88"/><ellipse cx="169.1" cy="349.3" rx="1.79" ry="1.93" fill="#3e4a38" opacity="0.74"/><ellipse cx="166.4" cy="347.4" rx="0.95" ry="0.74" fill="#2e3a2a" opacity="0.70"/><ellipse cx="163.6" cy="345.7" rx="2.02" ry="1.81" fill="#6a7458" opacity="0.92"/><ellipse cx="165.1" cy="349.6" rx="1.99" ry="2.22" fill="#5a644c" opacity="0.71"/><ellipse cx="161.5" cy="349.2" rx="1.97" ry="1.76" fill="#5a644c" opacity="0.77"/><ellipse cx="167.9" cy="351.8" rx="1.85" ry="2.07" fill="#5a644c" opacity="0.68"/><ellipse cx="167.0" cy="353.1" rx="1.77" ry="1.11" fill="#6a7458" opacity="0.65"/><ellipse cx="160.6" cy="348.4" rx="1.18" ry="1.42" fill="#5a644c" opacity="0.66"/><ellipse cx="170.7" cy="350.0" rx="1.38" ry="1.42" fill="#6a7458" opacity="0.67"/><ellipse cx="171.1" cy="348.7" rx="2.09" ry="1.73" fill="#5a644c" opacity="0.69"/><ellipse cx="162.3" cy="347.4" rx="0.83" ry="0.65" fill="#64787a" opacity="0.64"/><ellipse cx="165.1" cy="351.6" rx="1.10" ry="1.03" fill="#64787a" opacity="0.75"/><ellipse cx="169.7" cy="346.1" rx="1.53" ry="1.89" fill="#64787a" opacity="0.63"/><ellipse cx="161.2" cy="347.3" rx="1.13" ry="1.46" fill="#3e4a38" opacity="0.71"/><ellipse cx="164.1" cy="351.6" rx="0.84" ry="0.66" fill="#5a644c" opacity="0.79"/><ellipse cx="167.8" cy="347.5" rx="0.84" ry="0.52" fill="#3e4a38" opacity="0.70"/><ellipse cx="164.6" cy="347.5" rx="1.81" ry="2.27" fill="#5a644c" opacity="0.89"/><ellipse cx="162.4" cy="351.5" rx="1.65" ry="1.32" fill="#34402e" opacity="0.76"/><ellipse cx="161.6" cy="352.4" rx="1.03" ry="1.23" fill="#4a5442" opacity="0.66"/><ellipse cx="162.5" cy="349.1" rx="1.97" ry="1.83" fill="#6a7458" opacity="0.92"/><ellipse cx="170.1" cy="352.8" rx="1.99" ry="1.99" fill="#6a7458" opacity="0.70"/><ellipse cx="173.1" cy="353.4" rx="0.87" ry="0.81" fill="#64787a" opacity="0.82"/><ellipse cx="166.6" cy="349.4" rx="1.07" ry="1.28" fill="#5a644c" opacity="0.82"/><ellipse cx="163.3" cy="351.9" rx="1.19" ry="0.72" fill="#6a7458" opacity="0.89"/><ellipse cx="166.6" cy="347.7" rx="0.96" ry="0.72" fill="#6a7458" opacity="0.86"/><ellipse cx="164.4" cy="354.6" rx="1.65" ry="1.16" fill="#34402e" opacity="0.76"/><ellipse cx="175.3" cy="349.2" rx="1.47" ry="1.63" fill="#34402e" opacity="0.92"/><ellipse cx="174.8" cy="353.3" rx="1.67" ry="1.44" fill="#34402e" opacity="0.64"/><ellipse cx="174.4" cy="354.8" rx="1.84" ry="1.24" fill="#6a7458" opacity="0.84"/><ellipse cx="175.7" cy="354.6" rx="0.92" ry="0.99" fill="#4a5442" opacity="0.82"/><ellipse cx="175.2" cy="350.0" rx="1.44" ry="1.67" fill="#34402e" opacity="0.74"/><ellipse cx="179.8" cy="353.6" rx="1.38" ry="1.19" fill="#5a644c" opacity="0.83"/><ellipse cx="172.5" cy="348.9" rx="1.25" ry="1.28" fill="#5a644c" opacity="0.89"/><ellipse cx="176.7" cy="350.9" rx="1.87" ry="1.79" fill="#5a644c" opacity="0.80"/><ellipse cx="179.3" cy="352.7" rx="1.17" ry="1.17" fill="#5a644c" opacity="0.74"/><ellipse cx="183.3" cy="351.9" rx="1.53" ry="1.19" fill="#3e4a38" opacity="0.83"/><ellipse cx="176.6" cy="350.0" rx="1.29" ry="0.91" fill="#34402e" opacity="0.62"/><ellipse cx="177.6" cy="354.7" rx="1.17" ry="1.07" fill="#6a7458" opacity="0.64"/><ellipse cx="178.4" cy="358.3" rx="1.87" ry="1.87" fill="#64787a" opacity="0.72"/><ellipse cx="174.5" cy="349.9" rx="1.35" ry="1.69" fill="#2e3a2a" opacity="0.83"/><ellipse cx="177.4" cy="351.1" rx="1.63" ry="1.67" fill="#3e4a38" opacity="0.78"/><ellipse cx="172.8" cy="349.6" rx="1.68" ry="1.27" fill="#6a7458" opacity="0.70"/><ellipse cx="176.6" cy="351.8" rx="1.05" ry="1.24" fill="#34402e" opacity="0.71"/><ellipse cx="179.0" cy="350.8" rx="1.86" ry="2.11" fill="#3e4a38" opacity="0.61"/><ellipse cx="182.7" cy="351.0" rx="1.22" ry="1.07" fill="#6a7458" opacity="0.64"/><ellipse cx="180.0" cy="352.6" rx="1.62" ry="0.97" fill="#2e3a2a" opacity="0.82"/><ellipse cx="175.2" cy="352.6" rx="0.90" ry="0.62" fill="#64787a" opacity="0.75"/><ellipse cx="180.0" cy="351.3" rx="1.33" ry="1.17" fill="#3e4a38" opacity="0.74"/><ellipse cx="176.6" cy="350.9" rx="1.07" ry="1.23" fill="#64787a" opacity="0.72"/><ellipse cx="179.7" cy="348.8" rx="1.01" ry="1.29" fill="#6a7458" opacity="0.80"/><ellipse cx="172.8" cy="354.8" rx="0.89" ry="0.68" fill="#34402e" opacity="0.72"/><ellipse cx="181.2" cy="347.9" rx="1.05" ry="0.90" fill="#5a644c" opacity="0.75"/><ellipse cx="175.9" cy="356.3" rx="1.46" ry="1.81" fill="#5a644c" opacity="0.84"/><ellipse cx="179.9" cy="349.6" rx="1.54" ry="1.41" fill="#6a7458" opacity="0.66"/><ellipse cx="179.2" cy="356.0" rx="0.92" ry="1.12" fill="#34402e" opacity="0.63"/><ellipse cx="181.2" cy="354.3" rx="1.33" ry="1.57" fill="#5a644c" opacity="0.85"/><ellipse cx="183.7" cy="347.7" rx="1.76" ry="1.27" fill="#2e3a2a" opacity="0.92"/><ellipse cx="181.9" cy="344.8" rx="2.09" ry="2.42" fill="#64787a" opacity="0.76"/><ellipse cx="183.4" cy="343.6" rx="1.62" ry="1.05" fill="#4a5442" opacity="0.70"/><ellipse cx="185.8" cy="340.9" rx="1.21" ry="1.43" fill="#3e4a38" opacity="0.65"/><ellipse cx="183.4" cy="344.2" rx="0.86" ry="0.96" fill="#2e3a2a" opacity="0.74"/><ellipse cx="179.5" cy="342.8" rx="1.90" ry="1.32" fill="#5a644c" opacity="0.70"/><ellipse cx="182.4" cy="348.2" rx="1.46" ry="1.21" fill="#34402e" opacity="0.71"/><ellipse cx="185.6" cy="344.2" rx="0.82" ry="0.78" fill="#6a7458" opacity="0.89"/><ellipse cx="179.3" cy="346.2" rx="1.48" ry="1.56" fill="#5a644c" opacity="0.86"/><ellipse cx="180.0" cy="347.2" rx="1.38" ry="1.58" fill="#34402e" opacity="0.68"/><ellipse cx="182.2" cy="343.0" rx="0.82" ry="1.01" fill="#2e3a2a" opacity="0.66"/><ellipse cx="183.8" cy="344.6" rx="1.15" ry="1.48" fill="#2e3a2a" opacity="0.91"/><ellipse cx="184.3" cy="342.3" rx="2.08" ry="2.08" fill="#3e4a38" opacity="0.85"/><ellipse cx="185.6" cy="341.1" rx="1.89" ry="2.30" fill="#2e3a2a" opacity="0.82"/><ellipse cx="183.1" cy="348.1" rx="1.35" ry="0.99" fill="#2e3a2a" opacity="0.67"/><ellipse cx="186.8" cy="343.0" rx="1.99" ry="1.22" fill="#4a5442" opacity="0.85"/><ellipse cx="190.2" cy="343.6" rx="1.03" ry="1.27" fill="#2e3a2a" opacity="0.76"/><ellipse cx="181.5" cy="344.8" rx="1.08" ry="0.87" fill="#4a5442" opacity="0.93"/><ellipse cx="184.0" cy="343.6" rx="1.98" ry="2.42" fill="#34402e" opacity="0.77"/><ellipse cx="180.2" cy="344.5" rx="0.82" ry="0.74" fill="#34402e" opacity="0.79"/><ellipse cx="181.1" cy="343.6" rx="0.89" ry="1.06" fill="#34402e" opacity="0.86"/><ellipse cx="180.9" cy="345.1" rx="1.24" ry="0.98" fill="#6a7458" opacity="0.76"/><ellipse cx="179.9" cy="345.4" rx="1.03" ry="0.94" fill="#3e4a38" opacity="0.89"/><ellipse cx="186.2" cy="340.2" rx="1.68" ry="1.53" fill="#6a7458" opacity="0.88"/><ellipse cx="180.4" cy="346.4" rx="0.95" ry="0.86" fill="#3e4a38" opacity="0.67"/><ellipse cx="181.7" cy="339.1" rx="1.25" ry="1.13" fill="#4a5442" opacity="0.73"/><ellipse cx="181.2" cy="346.0" rx="1.34" ry="1.68" fill="#64787a" opacity="0.94"/><ellipse cx="189.6" cy="341.5" rx="0.82" ry="0.62" fill="#34402e" opacity="0.64"/><ellipse cx="176.5" cy="344.1" rx="1.64" ry="1.35" fill="#6a7458" opacity="0.86"/><ellipse cx="185.9" cy="342.4" rx="1.17" ry="1.48" fill="#6a7458" opacity="0.79"/><ellipse cx="183.2" cy="329.0" rx="1.23" ry="1.27" fill="#4a5442" opacity="0.88"/><ellipse cx="180.9" cy="329.0" rx="1.25" ry="1.44" fill="#6a7458" opacity="0.63"/><ellipse cx="182.9" cy="330.1" rx="1.81" ry="1.21" fill="#2e3a2a" opacity="0.88"/><ellipse cx="182.2" cy="326.4" rx="1.02" ry="0.99" fill="#34402e" opacity="0.80"/><ellipse cx="181.8" cy="332.2" rx="1.14" ry="1.25" fill="#4a5442" opacity="0.73"/><ellipse cx="178.8" cy="329.5" rx="1.35" ry="1.34" fill="#3e4a38" opacity="0.84"/><ellipse cx="181.9" cy="327.3" rx="1.40" ry="1.40" fill="#64787a" opacity="0.67"/><ellipse cx="179.1" cy="331.2" rx="1.47" ry="1.09" fill="#3e4a38" opacity="0.80"/><ellipse cx="185.2" cy="332.6" rx="1.12" ry="1.06" fill="#5a644c" opacity="0.65"/><ellipse cx="179.5" cy="329.5" rx="1.97" ry="1.97" fill="#3e4a38" opacity="0.86"/><ellipse cx="177.7" cy="329.9" rx="1.91" ry="1.97" fill="#5a644c" opacity="0.69"/><ellipse cx="179.3" cy="328.7" rx="0.96" ry="0.63" fill="#2e3a2a" opacity="0.74"/><ellipse cx="184.0" cy="327.1" rx="1.78" ry="1.63" fill="#4a5442" opacity="0.79"/><ellipse cx="184.6" cy="329.4" rx="1.57" ry="1.13" fill="#4a5442" opacity="0.94"/><ellipse cx="184.3" cy="331.8" rx="0.86" ry="0.64" fill="#5a644c" opacity="0.80"/><ellipse cx="183.5" cy="332.5" rx="1.37" ry="1.43" fill="#5a644c" opacity="0.79"/><ellipse cx="182.1" cy="332.2" rx="1.32" ry="1.43" fill="#2e3a2a" opacity="0.82"/><ellipse cx="184.0" cy="330.9" rx="1.67" ry="1.95" fill="#3e4a38" opacity="0.87"/><ellipse cx="184.2" cy="330.1" rx="2.08" ry="2.13" fill="#3e4a38" opacity="0.93"/><ellipse cx="186.6" cy="330.8" rx="0.91" ry="0.95" fill="#2e3a2a" opacity="0.69"/><ellipse cx="188.7" cy="326.0" rx="1.08" ry="1.24" fill="#3e4a38" opacity="0.69"/><ellipse cx="183.5" cy="332.4" rx="1.63" ry="1.89" fill="#6a7458" opacity="0.73"/><ellipse cx="181.9" cy="329.5" rx="1.99" ry="2.26" fill="#64787a" opacity="0.95"/><ellipse cx="178.5" cy="330.0" rx="1.12" ry="1.21" fill="#3e4a38" opacity="0.89"/><ellipse cx="186.4" cy="328.5" rx="1.96" ry="1.83" fill="#5a644c" opacity="0.63"/><ellipse cx="178.8" cy="325.6" rx="1.26" ry="1.45" fill="#4a5442" opacity="0.76"/><ellipse cx="190.1" cy="333.1" rx="1.43" ry="1.31" fill="#6a7458" opacity="0.84"/><ellipse cx="166.2" cy="324.1" rx="0.84" ry="0.96" fill="#34402e" opacity="0.87"/><ellipse cx="171.4" cy="327.1" rx="1.95" ry="1.30" fill="#2e3a2a" opacity="0.81"/><ellipse cx="167.6" cy="326.1" rx="2.06" ry="1.28" fill="#64787a" opacity="0.66"/><ellipse cx="169.4" cy="326.9" rx="1.03" ry="0.83" fill="#5a644c" opacity="0.71"/><ellipse cx="173.5" cy="327.2" rx="1.54" ry="1.68" fill="#2e3a2a" opacity="0.86"/><ellipse cx="172.6" cy="330.5" rx="1.65" ry="2.11" fill="#5a644c" opacity="0.68"/><ellipse cx="169.2" cy="326.5" rx="1.49" ry="1.18" fill="#64787a" opacity="0.88"/><ellipse cx="170.1" cy="321.9" rx="1.58" ry="1.79" fill="#6a7458" opacity="0.72"/><ellipse cx="170.2" cy="325.6" rx="1.69" ry="1.07" fill="#4a5442" opacity="0.81"/><ellipse cx="170.1" cy="325.7" rx="0.86" ry="0.54" fill="#64787a" opacity="0.77"/><ellipse cx="169.5" cy="324.8" rx="1.81" ry="1.49" fill="#6a7458" opacity="0.85"/><ellipse cx="168.1" cy="325.3" rx="1.97" ry="1.45" fill="#34402e" opacity="0.77"/><ellipse cx="173.8" cy="326.4" rx="1.64" ry="1.24" fill="#5a644c" opacity="0.84"/><ellipse cx="170.4" cy="326.2" rx="0.88" ry="0.59" fill="#34402e" opacity="0.76"/><ellipse cx="169.0" cy="322.1" rx="1.04" ry="1.19" fill="#64787a" opacity="0.94"/><ellipse cx="170.2" cy="327.5" rx="1.51" ry="1.63" fill="#2e3a2a" opacity="0.71"/><ellipse cx="170.9" cy="324.4" rx="1.41" ry="1.03" fill="#6a7458" opacity="0.70"/><ellipse cx="170.4" cy="323.6" rx="0.96" ry="1.03" fill="#6a7458" opacity="0.78"/><ellipse cx="170.4" cy="328.3" rx="1.76" ry="1.75" fill="#5a644c" opacity="0.95"/><ellipse cx="170.1" cy="326.0" rx="1.35" ry="1.22" fill="#64787a" opacity="0.68"/><ellipse cx="170.8" cy="324.6" rx="1.54" ry="1.39" fill="#64787a" opacity="0.61"/><ellipse cx="169.0" cy="325.5" rx="1.49" ry="0.99" fill="#64787a" opacity="0.89"/><ellipse cx="167.4" cy="325.6" rx="0.99" ry="1.12" fill="#34402e" opacity="0.79"/><ellipse cx="170.2" cy="324.0" rx="1.88" ry="2.03" fill="#6a7458" opacity="0.65"/><ellipse cx="177.6" cy="341.1" rx="1.26" ry="0.96" fill="#34402e" opacity="0.93"/><ellipse cx="176.2" cy="343.3" rx="1.34" ry="1.47" fill="#3e4a38" opacity="0.76"/><ellipse cx="175.6" cy="342.5" rx="0.89" ry="1.09" fill="#6a7458" opacity="0.92"/><ellipse cx="175.6" cy="341.5" rx="1.08" ry="0.76" fill="#6a7458" opacity="0.73"/><ellipse cx="179.7" cy="341.8" rx="1.23" ry="1.32" fill="#34402e" opacity="0.91"/><ellipse cx="175.6" cy="338.6" rx="1.02" ry="1.12" fill="#34402e" opacity="0.95"/><ellipse cx="178.1" cy="342.3" rx="1.68" ry="1.65" fill="#64787a" opacity="0.88"/><ellipse cx="178.6" cy="340.5" rx="1.20" ry="1.05" fill="#6a7458" opacity="0.89"/><ellipse cx="171.8" cy="341.4" rx="1.30" ry="1.67" fill="#2e3a2a" opacity="0.92"/><ellipse cx="177.1" cy="341.1" rx="1.20" ry="0.88" fill="#6a7458" opacity="0.74"/><ellipse cx="179.6" cy="342.5" rx="0.88" ry="0.79" fill="#2e3a2a" opacity="0.87"/><ellipse cx="174.9" cy="341.9" rx="0.92" ry="0.86" fill="#64787a" opacity="0.61"/><ellipse cx="176.5" cy="340.6" rx="1.16" ry="1.43" fill="#2e3a2a" opacity="0.92"/><ellipse cx="175.0" cy="340.4" rx="1.34" ry="1.43" fill="#3e4a38" opacity="0.72"/><ellipse cx="176.8" cy="340.5" rx="0.83" ry="0.98" fill="#2e3a2a" opacity="0.76"/><ellipse cx="181.1" cy="341.3" rx="1.85" ry="2.03" fill="#4a5442" opacity="0.70"/><ellipse cx="175.4" cy="341.6" rx="1.85" ry="1.12" fill="#5a644c" opacity="0.81"/><ellipse cx="179.1" cy="341.7" rx="1.30" ry="1.21" fill="#4a5442" opacity="0.82"/><ellipse cx="176.9" cy="340.6" rx="1.52" ry="1.20" fill="#6a7458" opacity="0.92"/><ellipse cx="175.8" cy="341.8" rx="1.19" ry="1.17" fill="#64787a" opacity="0.70"/><ellipse cx="177.4" cy="340.6" rx="1.79" ry="1.64" fill="#4a5442" opacity="0.72"/><ellipse cx="196.2" cy="350.3" rx="1.37" ry="1.37" fill="#2e3a2a" opacity="0.75"/><ellipse cx="199.1" cy="347.0" rx="2.05" ry="2.04" fill="#34402e" opacity="0.94"/><ellipse cx="196.9" cy="343.4" rx="0.97" ry="1.02" fill="#4a5442" opacity="0.85"/><ellipse cx="195.4" cy="341.0" rx="1.25" ry="1.62" fill="#6a7458" opacity="0.70"/><ellipse cx="198.1" cy="342.9" rx="1.14" ry="1.01" fill="#3e4a38" opacity="0.86"/><ellipse cx="194.4" cy="342.0" rx="2.05" ry="1.64" fill="#34402e" opacity="0.81"/><ellipse cx="194.7" cy="342.7" rx="1.82" ry="2.14" fill="#6a7458" opacity="0.92"/><ellipse cx="198.5" cy="342.2" rx="1.85" ry="1.78" fill="#6a7458" opacity="0.84"/><ellipse cx="189.2" cy="340.9" rx="1.81" ry="2.12" fill="#4a5442" opacity="0.61"/><ellipse cx="192.1" cy="345.4" rx="2.06" ry="1.88" fill="#4a5442" opacity="0.92"/><ellipse cx="194.2" cy="344.4" rx="1.33" ry="1.58" fill="#2e3a2a" opacity="0.79"/><ellipse cx="194.9" cy="343.1" rx="1.35" ry="1.10" fill="#2e3a2a" opacity="0.86"/><ellipse cx="198.5" cy="344.6" rx="2.04" ry="1.37" fill="#2e3a2a" opacity="0.61"/><ellipse cx="193.0" cy="342.4" rx="1.38" ry="1.00" fill="#64787a" opacity="0.94"/><ellipse cx="197.8" cy="342.7" rx="1.51" ry="1.66" fill="#4a5442" opacity="0.84"/><ellipse cx="193.6" cy="343.9" rx="0.98" ry="0.65" fill="#64787a" opacity="0.76"/><ellipse cx="202.6" cy="345.7" rx="2.02" ry="1.94" fill="#6a7458" opacity="0.64"/><ellipse cx="194.2" cy="344.8" rx="1.78" ry="1.65" fill="#4a5442" opacity="0.91"/><ellipse cx="196.5" cy="341.7" rx="0.80" ry="0.76" fill="#2e3a2a" opacity="0.67"/><ellipse cx="198.4" cy="344.9" rx="0.90" ry="0.99" fill="#3e4a38" opacity="0.74"/><ellipse cx="192.0" cy="341.4" rx="1.66" ry="1.39" fill="#6a7458" opacity="0.77"/><ellipse cx="193.7" cy="343.8" rx="1.20" ry="0.82" fill="#3e4a38" opacity="0.68"/><ellipse cx="194.2" cy="343.1" rx="2.08" ry="2.30" fill="#3e4a38" opacity="0.67"/><ellipse cx="198.1" cy="341.8" rx="0.95" ry="0.74" fill="#5a644c" opacity="0.63"/><ellipse cx="201.9" cy="346.1" rx="1.52" ry="1.23" fill="#3e4a38" opacity="0.81"/><ellipse cx="201.4" cy="352.9" rx="0.99" ry="0.64" fill="#2e3a2a" opacity="0.69"/><ellipse cx="204.3" cy="349.3" rx="1.41" ry="1.11" fill="#5a644c" opacity="0.80"/><ellipse cx="199.4" cy="351.3" rx="1.67" ry="1.29" fill="#2e3a2a" opacity="0.93"/><ellipse cx="201.6" cy="349.8" rx="1.64" ry="1.66" fill="#34402e" opacity="0.85"/><ellipse cx="205.0" cy="345.5" rx="2.03" ry="2.49" fill="#4a5442" opacity="0.81"/><ellipse cx="204.3" cy="349.4" rx="1.10" ry="1.32" fill="#64787a" opacity="0.81"/><ellipse cx="202.4" cy="350.5" rx="1.22" ry="1.10" fill="#34402e" opacity="0.79"/><ellipse cx="207.2" cy="350.9" rx="1.32" ry="1.24" fill="#34402e" opacity="0.82"/><ellipse cx="201.4" cy="353.3" rx="1.63" ry="1.14" fill="#3e4a38" opacity="0.89"/><ellipse cx="200.1" cy="347.5" rx="1.17" ry="0.84" fill="#64787a" opacity="0.62"/><ellipse cx="205.7" cy="346.0" rx="0.97" ry="0.68" fill="#6a7458" opacity="0.85"/><ellipse cx="202.4" cy="349.7" rx="1.04" ry="1.19" fill="#64787a" opacity="0.67"/><ellipse cx="201.8" cy="348.9" rx="0.95" ry="1.23" fill="#3e4a38" opacity="0.73"/><ellipse cx="202.1" cy="353.1" rx="1.44" ry="1.70" fill="#64787a" opacity="0.69"/><ellipse cx="204.7" cy="350.2" rx="1.16" ry="1.22" fill="#6a7458" opacity="0.80"/><ellipse cx="204.7" cy="347.2" rx="1.09" ry="1.17" fill="#5a644c" opacity="0.77"/><ellipse cx="202.5" cy="350.7" rx="1.49" ry="1.60" fill="#64787a" opacity="0.64"/><ellipse cx="204.0" cy="345.7" rx="1.96" ry="1.51" fill="#4a5442" opacity="0.71"/><ellipse cx="204.3" cy="351.6" rx="1.90" ry="1.42" fill="#3e4a38" opacity="0.81"/><ellipse cx="199.7" cy="347.3" rx="0.86" ry="0.89" fill="#34402e" opacity="0.81"/><ellipse cx="204.6" cy="348.4" rx="1.23" ry="1.22" fill="#2e3a2a" opacity="0.88"/><ellipse cx="206.1" cy="350.2" rx="0.90" ry="0.77" fill="#6a7458" opacity="0.75"/><ellipse cx="198.6" cy="347.8" rx="1.38" ry="1.20" fill="#4a5442" opacity="0.86"/><ellipse cx="203.7" cy="349.4" rx="0.86" ry="0.81" fill="#34402e" opacity="0.92"/><ellipse cx="196.6" cy="345.1" rx="0.89" ry="1.03" fill="#3e4a38" opacity="0.69"/><ellipse cx="199.0" cy="347.7" rx="1.83" ry="1.59" fill="#3e4a38" opacity="0.95"/><ellipse cx="207.8" cy="355.3" rx="1.61" ry="1.95" fill="#3e4a38" opacity="0.63"/><ellipse cx="205.3" cy="354.5" rx="1.54" ry="1.21" fill="#34402e" opacity="0.87"/><ellipse cx="208.5" cy="358.7" rx="1.27" ry="1.45" fill="#4a5442" opacity="0.71"/><ellipse cx="207.1" cy="353.9" rx="1.69" ry="1.17" fill="#5a644c" opacity="0.82"/><ellipse cx="214.5" cy="353.5" rx="1.45" ry="1.68" fill="#64787a" opacity="0.93"/><ellipse cx="206.7" cy="352.1" rx="1.27" ry="1.30" fill="#34402e" opacity="0.65"/><ellipse cx="207.2" cy="358.4" rx="1.73" ry="1.19" fill="#4a5442" opacity="0.70"/><ellipse cx="207.3" cy="355.1" rx="1.89" ry="1.52" fill="#6a7458" opacity="0.73"/><ellipse cx="209.3" cy="355.2" rx="1.70" ry="1.77" fill="#6a7458" opacity="0.77"/><ellipse cx="210.8" cy="353.3" rx="1.46" ry="1.10" fill="#5a644c" opacity="0.89"/><ellipse cx="208.8" cy="357.1" rx="1.46" ry="1.88" fill="#34402e" opacity="0.94"/><ellipse cx="204.5" cy="354.2" rx="1.12" ry="1.15" fill="#3e4a38" opacity="0.76"/><ellipse cx="208.4" cy="355.0" rx="1.04" ry="0.94" fill="#2e3a2a" opacity="0.70"/><ellipse cx="211.8" cy="356.4" rx="0.99" ry="0.98" fill="#2e3a2a" opacity="0.73"/><ellipse cx="211.7" cy="360.5" rx="1.84" ry="1.19" fill="#6a7458" opacity="0.75"/><ellipse cx="205.8" cy="354.8" rx="1.66" ry="1.25" fill="#5a644c" opacity="0.64"/><ellipse cx="207.8" cy="356.2" rx="1.96" ry="2.01" fill="#5a644c" opacity="0.69"/><ellipse cx="210.0" cy="355.0" rx="1.35" ry="0.87" fill="#4a5442" opacity="0.63"/><ellipse cx="206.1" cy="356.9" rx="1.60" ry="1.85" fill="#6a7458" opacity="0.84"/><ellipse cx="208.8" cy="351.1" rx="1.72" ry="1.18" fill="#64787a" opacity="0.72"/><ellipse cx="207.0" cy="357.9" rx="1.17" ry="0.73" fill="#3e4a38" opacity="0.87"/><ellipse cx="208.8" cy="358.8" rx="2.04" ry="2.34" fill="#5a644c" opacity="0.84"/><ellipse cx="207.3" cy="356.6" rx="0.95" ry="0.78" fill="#2e3a2a" opacity="0.82"/><ellipse cx="206.5" cy="353.0" rx="0.87" ry="0.60" fill="#2e3a2a" opacity="0.72"/><ellipse cx="210.1" cy="352.4" rx="1.88" ry="2.40" fill="#5a644c" opacity="0.62"/><ellipse cx="212.2" cy="351.4" rx="0.97" ry="1.15" fill="#6a7458" opacity="0.73"/><ellipse cx="218.0" cy="351.9" rx="0.99" ry="0.86" fill="#3e4a38" opacity="0.80"/><ellipse cx="216.1" cy="352.5" rx="1.96" ry="2.35" fill="#6a7458" opacity="0.86"/><ellipse cx="215.1" cy="351.1" rx="1.31" ry="1.63" fill="#3e4a38" opacity="0.79"/><ellipse cx="216.1" cy="352.1" rx="1.34" ry="1.45" fill="#3e4a38" opacity="0.91"/><ellipse cx="209.1" cy="350.6" rx="1.00" ry="0.89" fill="#6a7458" opacity="0.77"/><ellipse cx="212.2" cy="355.4" rx="1.02" ry="0.83" fill="#6a7458" opacity="0.88"/><ellipse cx="217.2" cy="351.7" rx="1.13" ry="1.13" fill="#6a7458" opacity="0.69"/><ellipse cx="211.0" cy="351.8" rx="1.65" ry="2.13" fill="#5a644c" opacity="0.69"/><ellipse cx="215.0" cy="353.6" rx="1.24" ry="1.19" fill="#64787a" opacity="0.73"/><ellipse cx="214.8" cy="351.0" rx="1.27" ry="1.28" fill="#2e3a2a" opacity="0.66"/><ellipse cx="209.5" cy="349.1" rx="1.79" ry="1.69" fill="#4a5442" opacity="0.62"/><ellipse cx="216.4" cy="347.2" rx="1.19" ry="0.72" fill="#3e4a38" opacity="0.66"/><ellipse cx="213.8" cy="352.4" rx="1.20" ry="1.49" fill="#6a7458" opacity="0.74"/><ellipse cx="211.2" cy="353.0" rx="1.95" ry="1.49" fill="#6a7458" opacity="0.73"/><ellipse cx="213.0" cy="353.5" rx="1.13" ry="1.44" fill="#6a7458" opacity="0.89"/><ellipse cx="218.0" cy="351.5" rx="2.01" ry="1.29" fill="#2e3a2a" opacity="0.82"/><ellipse cx="214.0" cy="353.9" rx="1.69" ry="1.91" fill="#6a7458" opacity="0.94"/><ellipse cx="215.2" cy="351.3" rx="1.28" ry="1.60" fill="#4a5442" opacity="0.87"/><ellipse cx="213.8" cy="354.5" rx="1.52" ry="1.46" fill="#6a7458" opacity="0.92"/><ellipse cx="222.2" cy="361.0" rx="0.94" ry="0.71" fill="#5a644c" opacity="0.66"/><ellipse cx="221.3" cy="358.6" rx="1.68" ry="2.03" fill="#4a5442" opacity="0.92"/><ellipse cx="215.5" cy="357.9" rx="1.37" ry="0.84" fill="#5a644c" opacity="0.76"/><ellipse cx="219.9" cy="360.0" rx="0.89" ry="1.08" fill="#34402e" opacity="0.81"/><ellipse cx="221.8" cy="360.9" rx="0.95" ry="0.84" fill="#5a644c" opacity="0.88"/><ellipse cx="218.3" cy="360.5" rx="1.86" ry="2.36" fill="#3e4a38" opacity="0.68"/><ellipse cx="212.4" cy="365.3" rx="1.72" ry="1.68" fill="#3e4a38" opacity="0.81"/><ellipse cx="218.0" cy="360.9" rx="1.45" ry="1.51" fill="#5a644c" opacity="0.87"/><ellipse cx="217.8" cy="362.4" rx="1.93" ry="1.67" fill="#4a5442" opacity="0.83"/><ellipse cx="220.7" cy="365.0" rx="1.43" ry="1.11" fill="#3e4a38" opacity="0.61"/><ellipse cx="220.3" cy="365.0" rx="0.97" ry="1.11" fill="#4a5442" opacity="0.84"/><ellipse cx="216.1" cy="360.3" rx="0.98" ry="1.13" fill="#3e4a38" opacity="0.88"/><ellipse cx="223.8" cy="359.7" rx="1.14" ry="1.12" fill="#2e3a2a" opacity="0.87"/><ellipse cx="219.6" cy="363.4" rx="1.64" ry="1.66" fill="#34402e" opacity="0.85"/><ellipse cx="218.7" cy="357.4" rx="1.18" ry="1.36" fill="#3e4a38" opacity="0.71"/><ellipse cx="219.3" cy="359.1" rx="1.94" ry="1.19" fill="#2e3a2a" opacity="0.82"/><ellipse cx="221.0" cy="357.3" rx="1.34" ry="1.26" fill="#2e3a2a" opacity="0.93"/><ellipse cx="213.6" cy="361.2" rx="0.96" ry="0.61" fill="#64787a" opacity="0.61"/><ellipse cx="212.7" cy="358.1" rx="1.11" ry="0.89" fill="#64787a" opacity="0.88"/><ellipse cx="214.7" cy="359.2" rx="1.70" ry="1.74" fill="#2e3a2a" opacity="0.76"/><ellipse cx="219.5" cy="355.2" rx="1.44" ry="1.59" fill="#3e4a38" opacity="0.64"/><ellipse cx="213.2" cy="356.6" rx="1.56" ry="1.88" fill="#3e4a38" opacity="0.91"/><ellipse cx="216.5" cy="359.9" rx="0.88" ry="1.07" fill="#34402e" opacity="0.61"/><ellipse cx="218.1" cy="358.6" rx="1.27" ry="1.39" fill="#2e3a2a" opacity="0.76"/><ellipse cx="215.8" cy="362.0" rx="1.03" ry="0.84" fill="#6a7458" opacity="0.79"/><ellipse cx="226.9" cy="362.1" rx="1.51" ry="1.67" fill="#2e3a2a" opacity="0.90"/><ellipse cx="223.2" cy="361.1" rx="1.55" ry="1.19" fill="#3e4a38" opacity="0.67"/><ellipse cx="218.1" cy="363.2" rx="1.48" ry="1.74" fill="#64787a" opacity="0.72"/><ellipse cx="212.9" cy="359.3" rx="1.38" ry="1.76" fill="#2e3a2a" opacity="0.61"/><ellipse cx="221.4" cy="361.1" rx="2.05" ry="1.41" fill="#34402e" opacity="0.94"/><ellipse cx="224.8" cy="351.1" rx="1.45" ry="1.85" fill="#64787a" opacity="0.78"/><ellipse cx="224.0" cy="357.3" rx="1.42" ry="1.03" fill="#64787a" opacity="0.68"/><ellipse cx="222.6" cy="357.4" rx="1.98" ry="1.41" fill="#5a644c" opacity="0.66"/><ellipse cx="224.0" cy="355.8" rx="1.22" ry="0.79" fill="#5a644c" opacity="0.87"/><ellipse cx="221.7" cy="357.2" rx="1.44" ry="1.65" fill="#2e3a2a" opacity="0.72"/><ellipse cx="221.6" cy="356.9" rx="1.72" ry="1.51" fill="#2e3a2a" opacity="0.94"/><ellipse cx="227.9" cy="354.4" rx="1.57" ry="1.03" fill="#4a5442" opacity="0.95"/><ellipse cx="225.3" cy="357.3" rx="1.55" ry="1.36" fill="#2e3a2a" opacity="0.81"/><ellipse cx="219.2" cy="360.5" rx="1.23" ry="1.33" fill="#34402e" opacity="0.61"/><ellipse cx="224.5" cy="357.3" rx="1.27" ry="1.46" fill="#6a7458" opacity="0.89"/><ellipse cx="221.7" cy="355.1" rx="1.44" ry="1.42" fill="#6a7458" opacity="0.78"/><ellipse cx="224.8" cy="358.6" rx="1.84" ry="2.07" fill="#34402e" opacity="0.71"/><ellipse cx="222.4" cy="354.2" rx="1.90" ry="1.21" fill="#5a644c" opacity="0.68"/><ellipse cx="224.2" cy="358.1" rx="1.01" ry="1.14" fill="#34402e" opacity="0.63"/><ellipse cx="222.4" cy="356.2" rx="1.88" ry="1.86" fill="#34402e" opacity="0.88"/><ellipse cx="221.5" cy="357.6" rx="1.99" ry="2.06" fill="#3e4a38" opacity="0.81"/><ellipse cx="224.3" cy="358.5" rx="1.58" ry="1.93" fill="#34402e" opacity="0.79"/><ellipse cx="223.5" cy="359.0" rx="0.82" ry="0.70" fill="#3e4a38" opacity="0.64"/><ellipse cx="223.6" cy="357.9" rx="1.03" ry="0.88" fill="#4a5442" opacity="0.86"/><ellipse cx="222.4" cy="360.1" rx="0.89" ry="0.67" fill="#64787a" opacity="0.77"/><ellipse cx="226.1" cy="352.6" rx="1.62" ry="1.22" fill="#3e4a38" opacity="0.79"/><ellipse cx="223.4" cy="358.4" rx="1.44" ry="1.64" fill="#2e3a2a" opacity="0.79"/><ellipse cx="224.4" cy="357.3" rx="2.06" ry="1.26" fill="#4a5442" opacity="0.66"/><ellipse cx="225.6" cy="356.5" rx="1.17" ry="1.02" fill="#5a644c" opacity="0.63"/><ellipse cx="225.4" cy="366.2" rx="1.50" ry="1.33" fill="#4a5442" opacity="0.66"/><ellipse cx="231.0" cy="371.2" rx="1.91" ry="1.47" fill="#4a5442" opacity="0.90"/><ellipse cx="230.2" cy="365.0" rx="0.84" ry="0.52" fill="#4a5442" opacity="0.69"/><ellipse cx="224.3" cy="366.7" rx="1.16" ry="1.46" fill="#2e3a2a" opacity="0.83"/><ellipse cx="227.5" cy="367.2" rx="1.75" ry="1.62" fill="#34402e" opacity="0.87"/><ellipse cx="224.1" cy="369.3" rx="1.98" ry="1.72" fill="#5a644c" opacity="0.80"/><ellipse cx="228.3" cy="372.4" rx="1.81" ry="1.32" fill="#4a5442" opacity="0.71"/><ellipse cx="224.0" cy="361.3" rx="1.90" ry="1.70" fill="#64787a" opacity="0.89"/><ellipse cx="224.7" cy="363.5" rx="1.86" ry="2.27" fill="#34402e" opacity="0.76"/><ellipse cx="229.1" cy="365.6" rx="1.90" ry="1.94" fill="#4a5442" opacity="0.73"/><ellipse cx="230.5" cy="361.6" rx="1.56" ry="1.16" fill="#4a5442" opacity="0.76"/><ellipse cx="225.0" cy="363.8" rx="1.95" ry="2.52" fill="#5a644c" opacity="0.66"/><ellipse cx="223.2" cy="364.1" rx="0.99" ry="0.64" fill="#3e4a38" opacity="0.70"/><ellipse cx="227.3" cy="365.5" rx="1.56" ry="1.53" fill="#2e3a2a" opacity="0.78"/><ellipse cx="228.2" cy="365.9" rx="1.37" ry="1.64" fill="#2e3a2a" opacity="0.67"/><ellipse cx="232.6" cy="366.8" rx="1.10" ry="1.26" fill="#5a644c" opacity="0.70"/><ellipse cx="223.6" cy="366.5" rx="1.18" ry="1.24" fill="#6a7458" opacity="0.61"/><ellipse cx="224.2" cy="365.8" rx="1.30" ry="1.58" fill="#6a7458" opacity="0.84"/><ellipse cx="230.1" cy="365.3" rx="0.83" ry="0.93" fill="#34402e" opacity="0.83"/><ellipse cx="224.8" cy="364.8" rx="1.65" ry="1.52" fill="#34402e" opacity="0.86"/><ellipse cx="227.1" cy="366.3" rx="1.00" ry="0.96" fill="#6a7458" opacity="0.68"/><ellipse cx="224.5" cy="368.6" rx="0.82" ry="0.91" fill="#34402e" opacity="0.64"/><ellipse cx="228.8" cy="367.7" rx="1.41" ry="1.08" fill="#64787a" opacity="0.65"/><ellipse cx="222.0" cy="364.1" rx="1.20" ry="1.21" fill="#5a644c" opacity="0.67"/><ellipse cx="226.1" cy="371.3" rx="1.72" ry="1.54" fill="#6a7458" opacity="0.71"/><ellipse cx="232.5" cy="371.1" rx="1.23" ry="1.33" fill="#4a5442" opacity="0.69"/><ellipse cx="225.4" cy="367.2" rx="0.83" ry="0.75" fill="#5a644c" opacity="0.80"/><ellipse cx="234.7" cy="367.6" rx="1.90" ry="1.79" fill="#6a7458" opacity="0.89"/><ellipse cx="228.8" cy="364.8" rx="0.98" ry="0.68" fill="#2e3a2a" opacity="0.87"/><ellipse cx="228.2" cy="366.7" rx="1.51" ry="1.22" fill="#3e4a38" opacity="0.62"/><ellipse cx="225.8" cy="367.0" rx="1.72" ry="2.21" fill="#34402e" opacity="0.94"/><ellipse cx="228.2" cy="363.4" rx="1.77" ry="1.63" fill="#6a7458" opacity="0.66"/><ellipse cx="230.2" cy="364.8" rx="1.26" ry="1.13" fill="#2e3a2a" opacity="0.84"/><ellipse cx="231.2" cy="361.8" rx="1.97" ry="1.20" fill="#5a644c" opacity="0.89"/><ellipse cx="233.8" cy="361.9" rx="0.82" ry="0.87" fill="#2e3a2a" opacity="0.66"/><ellipse cx="233.8" cy="364.8" rx="1.34" ry="1.29" fill="#34402e" opacity="0.91"/><ellipse cx="236.0" cy="365.1" rx="2.04" ry="2.13" fill="#5a644c" opacity="0.62"/><ellipse cx="235.6" cy="358.7" rx="1.28" ry="1.01" fill="#3e4a38" opacity="0.92"/><ellipse cx="240.3" cy="365.4" rx="0.92" ry="1.06" fill="#5a644c" opacity="0.90"/><ellipse cx="237.4" cy="364.7" rx="0.97" ry="1.13" fill="#5a644c" opacity="0.93"/><ellipse cx="231.6" cy="364.9" rx="0.87" ry="1.11" fill="#6a7458" opacity="0.88"/><ellipse cx="239.0" cy="368.4" rx="1.33" ry="0.87" fill="#4a5442" opacity="0.64"/><ellipse cx="241.9" cy="365.0" rx="1.67" ry="1.39" fill="#64787a" opacity="0.88"/><ellipse cx="235.2" cy="363.1" rx="1.40" ry="1.81" fill="#6a7458" opacity="0.61"/><ellipse cx="237.1" cy="364.0" rx="0.94" ry="0.60" fill="#3e4a38" opacity="0.76"/><ellipse cx="234.9" cy="364.8" rx="1.31" ry="1.20" fill="#64787a" opacity="0.89"/><ellipse cx="237.7" cy="362.5" rx="1.02" ry="0.94" fill="#5a644c" opacity="0.84"/><ellipse cx="242.8" cy="362.3" rx="1.11" ry="0.98" fill="#6a7458" opacity="0.79"/><ellipse cx="234.2" cy="363.6" rx="1.01" ry="0.64" fill="#4a5442" opacity="0.81"/><ellipse cx="238.7" cy="365.6" rx="1.30" ry="1.65" fill="#5a644c" opacity="0.84"/><ellipse cx="242.4" cy="364.7" rx="1.44" ry="1.85" fill="#4a5442" opacity="0.79"/><ellipse cx="235.4" cy="362.4" rx="1.17" ry="0.90" fill="#5a644c" opacity="0.75"/><ellipse cx="236.3" cy="364.5" rx="0.86" ry="0.86" fill="#2e3a2a" opacity="0.62"/><ellipse cx="235.5" cy="361.2" rx="1.77" ry="2.05" fill="#5a644c" opacity="0.87"/><ellipse cx="230.7" cy="363.5" rx="1.94" ry="2.12" fill="#2e3a2a" opacity="0.90"/><ellipse cx="237.9" cy="363.1" rx="1.12" ry="0.93" fill="#2e3a2a" opacity="0.65"/><ellipse cx="236.7" cy="365.9" rx="1.24" ry="1.51" fill="#5a644c" opacity="0.83"/><ellipse cx="227.6" cy="364.2" rx="1.82" ry="2.21" fill="#4a5442" opacity="0.87"/><ellipse cx="237.0" cy="364.2" rx="1.46" ry="1.02" fill="#2e3a2a" opacity="0.83"/><ellipse cx="238.9" cy="360.0" rx="1.95" ry="1.89" fill="#6a7458" opacity="0.71"/><ellipse cx="234.7" cy="367.2" rx="1.31" ry="1.43" fill="#5a644c" opacity="0.84"/><ellipse cx="236.3" cy="365.5" rx="1.74" ry="1.35" fill="#64787a" opacity="0.80"/><ellipse cx="234.8" cy="362.4" rx="1.62" ry="1.13" fill="#4a5442" opacity="0.79"/><ellipse cx="235.7" cy="370.2" rx="1.51" ry="1.17" fill="#34402e" opacity="0.93"/><ellipse cx="236.2" cy="375.9" rx="1.73" ry="1.56" fill="#6a7458" opacity="0.93"/><ellipse cx="234.0" cy="371.5" rx="1.28" ry="1.36" fill="#64787a" opacity="0.95"/><ellipse cx="233.0" cy="371.2" rx="2.06" ry="1.28" fill="#6a7458" opacity="0.80"/><ellipse cx="235.0" cy="369.6" rx="0.96" ry="0.73" fill="#34402e" opacity="0.89"/><ellipse cx="233.8" cy="372.4" rx="1.02" ry="0.91" fill="#4a5442" opacity="0.93"/><ellipse cx="229.1" cy="372.2" rx="1.76" ry="2.18" fill="#64787a" opacity="0.61"/><ellipse cx="230.1" cy="373.9" rx="1.52" ry="1.58" fill="#2e3a2a" opacity="0.91"/><ellipse cx="231.8" cy="370.6" rx="2.04" ry="2.41" fill="#4a5442" opacity="0.74"/><ellipse cx="237.0" cy="367.6" rx="1.44" ry="1.37" fill="#3e4a38" opacity="0.95"/><ellipse cx="231.5" cy="368.4" rx="0.91" ry="0.73" fill="#3e4a38" opacity="0.89"/><ellipse cx="236.5" cy="370.8" rx="1.64" ry="1.18" fill="#34402e" opacity="0.91"/><ellipse cx="234.5" cy="373.7" rx="1.13" ry="0.75" fill="#34402e" opacity="0.92"/><ellipse cx="237.8" cy="375.4" rx="1.60" ry="1.71" fill="#64787a" opacity="0.67"/><ellipse cx="230.4" cy="372.6" rx="1.06" ry="1.23" fill="#4a5442" opacity="0.71"/><ellipse cx="233.6" cy="366.6" rx="2.06" ry="1.38" fill="#64787a" opacity="0.75"/><ellipse cx="229.3" cy="374.7" rx="1.82" ry="1.43" fill="#34402e" opacity="0.80"/><ellipse cx="238.3" cy="371.7" rx="1.92" ry="2.31" fill="#4a5442" opacity="0.75"/><ellipse cx="236.3" cy="370.3" rx="2.08" ry="1.98" fill="#64787a" opacity="0.70"/><ellipse cx="239.5" cy="370.7" rx="1.62" ry="2.04" fill="#2e3a2a" opacity="0.89"/><ellipse cx="232.3" cy="374.4" rx="1.98" ry="1.58" fill="#34402e" opacity="0.71"/><ellipse cx="231.6" cy="368.4" rx="1.01" ry="0.98" fill="#2e3a2a" opacity="0.94"/><ellipse cx="230.5" cy="370.5" rx="1.69" ry="2.08" fill="#34402e" opacity="0.63"/><ellipse cx="234.9" cy="376.2" rx="1.63" ry="1.97" fill="#4a5442" opacity="0.93"/><ellipse cx="232.4" cy="374.8" rx="1.57" ry="1.37" fill="#34402e" opacity="0.85"/><ellipse cx="228.0" cy="368.7" rx="1.73" ry="1.54" fill="#2e3a2a" opacity="0.73"/><ellipse cx="225.3" cy="372.6" rx="1.99" ry="2.18" fill="#2e3a2a" opacity="0.81"/><ellipse cx="231.7" cy="369.7" rx="1.23" ry="1.01" fill="#4a5442" opacity="0.65"/><ellipse cx="236.9" cy="372.9" rx="1.63" ry="1.36" fill="#34402e" opacity="0.94"/><ellipse cx="230.6" cy="367.4" rx="1.74" ry="1.72" fill="#6a7458" opacity="0.66"/><ellipse cx="242.0" cy="374.5" rx="1.11" ry="0.83" fill="#4a5442" opacity="0.77"/><ellipse cx="240.5" cy="370.5" rx="1.42" ry="1.10" fill="#5a644c" opacity="0.65"/><ellipse cx="238.8" cy="373.1" rx="1.53" ry="0.94" fill="#34402e" opacity="0.65"/><ellipse cx="242.3" cy="368.9" rx="1.38" ry="1.28" fill="#6a7458" opacity="0.94"/><ellipse cx="241.7" cy="370.1" rx="0.92" ry="0.99" fill="#4a5442" opacity="0.88"/><ellipse cx="237.7" cy="369.0" rx="1.74" ry="1.82" fill="#3e4a38" opacity="0.70"/><ellipse cx="238.4" cy="367.0" rx="1.20" ry="1.13" fill="#5a644c" opacity="0.81"/><ellipse cx="239.8" cy="370.8" rx="0.95" ry="0.92" fill="#34402e" opacity="0.74"/><ellipse cx="237.6" cy="371.8" rx="1.00" ry="1.27" fill="#3e4a38" opacity="0.75"/><ellipse cx="238.5" cy="370.7" rx="1.15" ry="1.35" fill="#5a644c" opacity="0.87"/><ellipse cx="241.2" cy="371.8" rx="0.88" ry="0.92" fill="#2e3a2a" opacity="0.74"/><ellipse cx="240.4" cy="372.1" rx="1.11" ry="1.44" fill="#6a7458" opacity="0.86"/><ellipse cx="243.2" cy="368.8" rx="1.02" ry="0.75" fill="#34402e" opacity="0.79"/><ellipse cx="239.0" cy="369.4" rx="0.92" ry="0.88" fill="#5a644c" opacity="0.75"/><ellipse cx="242.6" cy="376.1" rx="0.81" ry="0.67" fill="#34402e" opacity="0.66"/><ellipse cx="241.8" cy="370.3" rx="0.93" ry="0.99" fill="#4a5442" opacity="0.89"/><ellipse cx="236.7" cy="372.5" rx="1.44" ry="1.38" fill="#6a7458" opacity="0.65"/><ellipse cx="243.7" cy="371.3" rx="1.40" ry="1.40" fill="#3e4a38" opacity="0.72"/><ellipse cx="244.4" cy="369.8" rx="1.69" ry="1.91" fill="#6a7458" opacity="0.92"/><ellipse cx="242.8" cy="370.9" rx="2.00" ry="2.55" fill="#6a7458" opacity="0.67"/><ellipse cx="239.7" cy="370.2" rx="1.48" ry="1.02" fill="#2e3a2a" opacity="0.66"/><ellipse cx="245.0" cy="371.0" rx="1.42" ry="1.27" fill="#2e3a2a" opacity="0.75"/><ellipse cx="238.9" cy="369.4" rx="1.47" ry="1.18" fill="#5a644c" opacity="0.67"/><ellipse cx="241.8" cy="368.4" rx="1.87" ry="1.90" fill="#3e4a38" opacity="0.67"/><ellipse cx="242.5" cy="366.9" rx="1.16" ry="0.98" fill="#5a644c" opacity="0.64"/><ellipse cx="239.4" cy="372.1" rx="1.31" ry="1.63" fill="#2e3a2a" opacity="0.64"/><ellipse cx="236.5" cy="370.1" rx="1.67" ry="1.73" fill="#2e3a2a" opacity="0.78"/><ellipse cx="222.7" cy="366.8" rx="0.85" ry="0.90" fill="#34402e" opacity="0.63"/><ellipse cx="216.8" cy="371.2" rx="1.99" ry="2.56" fill="#64787a" opacity="0.75"/><ellipse cx="225.9" cy="371.1" rx="1.15" ry="1.25" fill="#6a7458" opacity="0.65"/><ellipse cx="221.7" cy="368.0" rx="2.01" ry="1.49" fill="#5a644c" opacity="0.71"/><ellipse cx="223.9" cy="373.1" rx="1.32" ry="1.36" fill="#3e4a38" opacity="0.70"/><ellipse cx="222.6" cy="367.2" rx="1.70" ry="1.84" fill="#2e3a2a" opacity="0.64"/><ellipse cx="224.7" cy="369.2" rx="1.46" ry="1.45" fill="#64787a" opacity="0.79"/><ellipse cx="223.2" cy="372.6" rx="1.07" ry="1.30" fill="#34402e" opacity="0.74"/><ellipse cx="221.5" cy="372.2" rx="1.39" ry="1.29" fill="#64787a" opacity="0.75"/><ellipse cx="223.9" cy="367.3" rx="1.90" ry="1.48" fill="#6a7458" opacity="0.86"/><ellipse cx="221.4" cy="366.3" rx="1.88" ry="1.22" fill="#64787a" opacity="0.88"/><ellipse cx="222.7" cy="370.4" rx="1.88" ry="1.91" fill="#2e3a2a" opacity="0.68"/><ellipse cx="221.4" cy="372.8" rx="1.71" ry="1.26" fill="#4a5442" opacity="0.61"/><ellipse cx="224.5" cy="367.4" rx="1.65" ry="1.47" fill="#5a644c" opacity="0.70"/><ellipse cx="219.6" cy="368.4" rx="1.82" ry="2.28" fill="#4a5442" opacity="0.63"/><ellipse cx="222.1" cy="364.9" rx="1.53" ry="0.97" fill="#2e3a2a" opacity="0.63"/><ellipse cx="224.1" cy="366.8" rx="1.37" ry="1.58" fill="#5a644c" opacity="0.87"/><ellipse cx="221.5" cy="369.6" rx="0.96" ry="0.76" fill="#34402e" opacity="0.82"/><ellipse cx="219.0" cy="371.0" rx="1.94" ry="2.03" fill="#4a5442" opacity="0.72"/><ellipse cx="222.1" cy="370.5" rx="1.63" ry="1.77" fill="#4a5442" opacity="0.85"/><ellipse cx="222.4" cy="368.4" rx="1.51" ry="1.12" fill="#2e3a2a" opacity="0.84"/><ellipse cx="221.2" cy="365.9" rx="0.80" ry="0.79" fill="#2e3a2a" opacity="0.85"/><ellipse cx="220.4" cy="372.0" rx="1.42" ry="1.57" fill="#5a644c" opacity="0.68"/><ellipse cx="223.6" cy="369.0" rx="1.03" ry="0.89" fill="#2e3a2a" opacity="0.61"/><ellipse cx="210.5" cy="363.5" rx="1.19" ry="0.84" fill="#4a5442" opacity="0.79"/><ellipse cx="210.7" cy="365.0" rx="1.32" ry="1.28" fill="#3e4a38" opacity="0.74"/><ellipse cx="212.9" cy="364.8" rx="1.17" ry="1.31" fill="#6a7458" opacity="0.87"/><ellipse cx="213.3" cy="366.8" rx="1.87" ry="1.44" fill="#5a644c" opacity="0.73"/><ellipse cx="211.6" cy="366.0" rx="1.99" ry="2.17" fill="#5a644c" opacity="0.95"/><ellipse cx="213.4" cy="364.1" rx="1.89" ry="2.35" fill="#3e4a38" opacity="0.87"/><ellipse cx="211.4" cy="363.2" rx="1.67" ry="1.49" fill="#5a644c" opacity="0.60"/><ellipse cx="212.2" cy="364.8" rx="1.49" ry="1.29" fill="#2e3a2a" opacity="0.64"/><ellipse cx="210.2" cy="365.2" rx="2.09" ry="2.06" fill="#34402e" opacity="0.91"/><ellipse cx="208.8" cy="363.6" rx="1.65" ry="1.02" fill="#5a644c" opacity="0.78"/><ellipse cx="211.5" cy="363.3" rx="1.66" ry="1.02" fill="#34402e" opacity="0.86"/><ellipse cx="211.4" cy="367.1" rx="1.50" ry="1.39" fill="#4a5442" opacity="0.81"/><ellipse cx="211.2" cy="364.9" rx="2.02" ry="2.19" fill="#3e4a38" opacity="0.84"/><ellipse cx="213.2" cy="365.7" rx="1.63" ry="1.58" fill="#4a5442" opacity="0.82"/><ellipse cx="210.6" cy="363.5" rx="1.94" ry="1.66" fill="#4a5442" opacity="0.78"/><ellipse cx="213.5" cy="365.2" rx="2.10" ry="2.68" fill="#4a5442" opacity="0.64"/><ellipse cx="211.6" cy="364.4" rx="1.68" ry="1.14" fill="#6a7458" opacity="0.73"/><ellipse cx="211.3" cy="361.0" rx="1.21" ry="0.88" fill="#5a644c" opacity="0.83"/><ellipse cx="231.1" cy="335.9" rx="1.98" ry="1.73" fill="#3e4a38" opacity="0.63"/><ellipse cx="231.7" cy="337.7" rx="1.56" ry="1.28" fill="#5a644c" opacity="0.76"/><ellipse cx="232.1" cy="337.3" rx="2.01" ry="2.24" fill="#64787a" opacity="0.67"/><ellipse cx="231.5" cy="336.3" rx="1.61" ry="2.06" fill="#5a644c" opacity="0.72"/><ellipse cx="232.5" cy="336.6" rx="2.07" ry="2.65" fill="#34402e" opacity="0.77"/><ellipse cx="232.2" cy="336.9" rx="0.92" ry="0.88" fill="#5a644c" opacity="0.63"/><ellipse cx="231.0" cy="337.1" rx="1.23" ry="1.01" fill="#2e3a2a" opacity="0.71"/><ellipse cx="232.5" cy="338.2" rx="1.37" ry="1.71" fill="#64787a" opacity="0.92"/><ellipse cx="230.5" cy="338.3" rx="2.02" ry="2.00" fill="#4a5442" opacity="0.62"/><ellipse cx="230.6" cy="336.6" rx="1.62" ry="1.42" fill="#5a644c" opacity="0.70"/><ellipse cx="237.2" cy="345.9" rx="1.97" ry="1.19" fill="#6a7458" opacity="0.63"/><ellipse cx="236.5" cy="347.8" rx="1.21" ry="1.18" fill="#6a7458" opacity="0.92"/><ellipse cx="235.8" cy="347.5" rx="1.71" ry="1.97" fill="#6a7458" opacity="0.74"/><ellipse cx="235.9" cy="344.5" rx="1.27" ry="1.01" fill="#34402e" opacity="0.94"/><ellipse cx="237.8" cy="345.7" rx="1.18" ry="0.81" fill="#64787a" opacity="0.93"/><ellipse cx="237.5" cy="346.7" rx="1.18" ry="1.04" fill="#5a644c" opacity="0.93"/><ellipse cx="236.4" cy="345.7" rx="1.63" ry="1.98" fill="#5a644c" opacity="0.92"/><ellipse cx="237.2" cy="345.6" rx="2.02" ry="2.24" fill="#4a5442" opacity="0.68"/><ellipse cx="236.7" cy="346.0" rx="1.97" ry="1.50" fill="#64787a" opacity="0.70"/><ellipse cx="235.8" cy="346.5" rx="1.75" ry="1.38" fill="#2e3a2a" opacity="0.85"/><ellipse cx="236.0" cy="345.5" rx="2.08" ry="2.64" fill="#34402e" opacity="0.92"/><ellipse cx="237.1" cy="345.4" rx="1.24" ry="1.23" fill="#34402e" opacity="0.92"/><ellipse cx="199.3" cy="331.1" rx="1.86" ry="2.27" fill="#4a5442" opacity="0.77"/><ellipse cx="197.0" cy="331.4" rx="1.14" ry="1.08" fill="#34402e" opacity="0.78"/><ellipse cx="197.8" cy="331.5" rx="1.90" ry="1.37" fill="#34402e" opacity="0.93"/><ellipse cx="197.6" cy="332.8" rx="1.41" ry="1.27" fill="#4a5442" opacity="0.72"/><ellipse cx="198.2" cy="331.3" rx="0.86" ry="1.08" fill="#34402e" opacity="0.77"/><ellipse cx="198.6" cy="332.1" rx="1.65" ry="1.69" fill="#4a5442" opacity="0.79"/><ellipse cx="197.0" cy="332.0" rx="1.09" ry="1.35" fill="#64787a" opacity="0.64"/><ellipse cx="198.5" cy="331.6" rx="2.01" ry="2.54" fill="#2e3a2a" opacity="0.84"/><ellipse cx="197.4" cy="331.8" rx="1.53" ry="1.80" fill="#4a5442" opacity="0.90"/><ellipse cx="190.9" cy="324.0" rx="1.07" ry="1.16" fill="#64787a" opacity="0.79"/><ellipse cx="191.1" cy="326.3" rx="1.33" ry="1.60" fill="#5a644c" opacity="0.65"/><ellipse cx="189.6" cy="325.7" rx="1.80" ry="2.14" fill="#6a7458" opacity="0.69"/><ellipse cx="189.4" cy="325.9" rx="1.09" ry="1.13" fill="#2e3a2a" opacity="0.76"/><ellipse cx="189.3" cy="327.2" rx="1.15" ry="0.86" fill="#34402e" opacity="0.86"/><ellipse cx="190.8" cy="324.9" rx="1.61" ry="1.00" fill="#6a7458" opacity="0.66"/><ellipse cx="190.4" cy="326.1" rx="1.70" ry="1.32" fill="#5a644c" opacity="0.80"/><ellipse cx="190.5" cy="325.2" rx="1.17" ry="0.91" fill="#5a644c" opacity="0.80"/><ellipse cx="189.7" cy="324.7" rx="2.05" ry="2.06" fill="#3e4a38" opacity="0.81"/><ellipse cx="204.9" cy="341.2" rx="1.48" ry="1.52" fill="#2e3a2a" opacity="0.77"/><ellipse cx="206.1" cy="340.2" rx="1.11" ry="1.13" fill="#5a644c" opacity="0.70"/><ellipse cx="204.4" cy="339.6" rx="1.82" ry="1.18" fill="#6a7458" opacity="0.66"/><ellipse cx="206.2" cy="341.1" rx="1.69" ry="2.03" fill="#2e3a2a" opacity="0.75"/><ellipse cx="203.7" cy="341.3" rx="1.57" ry="1.34" fill="#5a644c" opacity="0.90"/><ellipse cx="205.8" cy="340.3" rx="1.46" ry="1.02" fill="#4a5442" opacity="0.87"/><ellipse cx="204.8" cy="339.2" rx="1.73" ry="1.19" fill="#64787a" opacity="0.81"/><ellipse cx="204.8" cy="338.9" rx="1.95" ry="2.28" fill="#2e3a2a" opacity="0.86"/><ellipse cx="204.2" cy="339.7" rx="1.13" ry="1.40" fill="#6a7458" opacity="0.69"/><ellipse cx="228.3" cy="346.0" rx="0.82" ry="0.85" fill="#64787a" opacity="0.85"/><ellipse cx="225.1" cy="346.8" rx="1.64" ry="2.12" fill="#34402e" opacity="0.80"/><ellipse cx="224.5" cy="345.8" rx="0.95" ry="0.76" fill="#34402e" opacity="0.83"/><ellipse cx="225.3" cy="345.5" rx="2.03" ry="2.53" fill="#5a644c" opacity="0.73"/><ellipse cx="228.1" cy="346.5" rx="1.22" ry="1.59" fill="#64787a" opacity="0.82"/><ellipse cx="225.2" cy="346.1" rx="1.58" ry="1.15" fill="#5a644c" opacity="0.92"/><ellipse cx="225.6" cy="345.9" rx="1.23" ry="0.81" fill="#34402e" opacity="0.76"/><ellipse cx="225.6" cy="346.9" rx="1.16" ry="0.82" fill="#3e4a38" opacity="0.71"/><ellipse cx="225.8" cy="346.9" rx="1.95" ry="1.56" fill="#3e4a38" opacity="0.66"/><ellipse cx="226.4" cy="348.1" rx="1.36" ry="1.18" fill="#3e4a38" opacity="0.82"/><ellipse cx="239.5" cy="351.6" rx="1.20" ry="1.08" fill="#34402e" opacity="0.84"/><ellipse cx="238.8" cy="353.4" rx="1.30" ry="1.07" fill="#6a7458" opacity="0.84"/><ellipse cx="237.4" cy="352.7" rx="1.61" ry="0.98" fill="#6a7458" opacity="0.69"/><ellipse cx="238.7" cy="355.2" rx="1.55" ry="0.95" fill="#64787a" opacity="0.66"/><ellipse cx="238.4" cy="351.6" rx="1.03" ry="0.96" fill="#64787a" opacity="0.78"/><ellipse cx="240.1" cy="351.8" rx="1.95" ry="1.49" fill="#5a644c" opacity="0.94"/><ellipse cx="238.8" cy="353.0" rx="1.39" ry="1.63" fill="#5a644c" opacity="0.90"/><ellipse cx="236.6" cy="352.8" rx="1.29" ry="0.85" fill="#3e4a38" opacity="0.70"/><ellipse cx="241.5" cy="353.2" rx="1.39" ry="1.17" fill="#6a7458" opacity="0.75"/><ellipse cx="239.3" cy="351.5" rx="1.69" ry="1.47" fill="#3e4a38" opacity="0.75"/><ellipse cx="239.8" cy="354.2" rx="2.04" ry="1.52" fill="#5a644c" opacity="0.78"/><ellipse cx="241.1" cy="353.3" rx="0.93" ry="0.83" fill="#2e3a2a" opacity="0.81"/><ellipse cx="221.1" cy="327.6" rx="1.45" ry="0.87" fill="#2e3a2a" opacity="0.75"/><ellipse cx="219.9" cy="327.0" rx="1.47" ry="1.43" fill="#3e4a38" opacity="0.61"/><ellipse cx="219.8" cy="328.0" rx="1.08" ry="1.08" fill="#3e4a38" opacity="0.63"/><ellipse cx="220.6" cy="328.2" rx="1.20" ry="1.09" fill="#2e3a2a" opacity="0.66"/><ellipse cx="221.5" cy="328.5" rx="1.87" ry="1.62" fill="#34402e" opacity="0.82"/><ellipse cx="221.9" cy="328.8" rx="1.77" ry="1.34" fill="#4a5442" opacity="0.81"/><ellipse cx="220.6" cy="327.0" rx="1.77" ry="2.12" fill="#5a644c" opacity="0.76"/><ellipse cx="150.3" cy="333.5" rx="0.94" ry="0.91" fill="#34402e" opacity="0.88"/><ellipse cx="150.1" cy="332.9" rx="2.05" ry="2.34" fill="#34402e" opacity="0.70"/><ellipse cx="148.9" cy="333.8" rx="1.19" ry="0.95" fill="#2e3a2a" opacity="0.78"/><ellipse cx="151.0" cy="332.2" rx="1.72" ry="1.44" fill="#6a7458" opacity="0.76"/><ellipse cx="149.1" cy="333.1" rx="1.71" ry="1.30" fill="#4a5442" opacity="0.86"/><ellipse cx="149.9" cy="333.2" rx="1.80" ry="1.91" fill="#6a7458" opacity="0.89"/><ellipse cx="149.9" cy="333.7" rx="1.20" ry="0.79" fill="#34402e" opacity="0.70"/><ellipse cx="150.3" cy="332.9" rx="1.85" ry="1.48" fill="#64787a" opacity="0.88"/><ellipse cx="147.4" cy="332.8" rx="0.81" ry="0.93" fill="#64787a" opacity="0.85"/><ellipse cx="155.1" cy="355.5" rx="1.56" ry="1.70" fill="#3e4a38" opacity="0.88"/><ellipse cx="152.7" cy="354.6" rx="1.35" ry="1.16" fill="#4a5442" opacity="0.67"/><ellipse cx="155.4" cy="355.5" rx="1.07" ry="1.21" fill="#34402e" opacity="0.79"/><ellipse cx="155.4" cy="354.7" rx="1.91" ry="1.78" fill="#2e3a2a" opacity="0.95"/><ellipse cx="152.8" cy="355.6" rx="1.06" ry="1.01" fill="#3e4a38" opacity="0.70"/><ellipse cx="154.9" cy="353.9" rx="0.89" ry="0.82" fill="#4a5442" opacity="0.76"/><ellipse cx="155.8" cy="356.6" rx="0.94" ry="0.77" fill="#64787a" opacity="0.80"/><ellipse cx="154.5" cy="355.6" rx="1.35" ry="1.56" fill="#34402e" opacity="0.89"/><ellipse cx="154.6" cy="354.9" rx="1.11" ry="1.35" fill="#3e4a38" opacity="0.74"/></g>
<g filter="url(#b1)"><ellipse cx="224.0" cy="347.3" rx="0.99" ry="1.00" fill="#5a644c" opacity="0.85"/><ellipse cx="205.6" cy="340.8" rx="1.03" ry="0.78" fill="#3e4838" opacity="0.69"/><ellipse cx="193.1" cy="348.3" rx="1.18" ry="1.44" fill="#4a5442" opacity="0.56"/><ellipse cx="223.7" cy="294.9" rx="1.44" ry="1.04" fill="#4a5442" opacity="0.51"/><ellipse cx="226.2" cy="357.7" rx="0.71" ry="0.60" fill="#5a644c" opacity="0.89"/><ellipse cx="229.2" cy="347.6" rx="1.00" ry="0.98" fill="#5a644c" opacity="0.74"/><ellipse cx="198.4" cy="300.5" rx="0.93" ry="1.02" fill="#5a644c" opacity="0.68"/><ellipse cx="240.6" cy="293.2" rx="0.77" ry="1.05" fill="#4a5442" opacity="0.83"/><ellipse cx="225.7" cy="361.1" rx="1.06" ry="1.41" fill="#3e4838" opacity="0.88"/><ellipse cx="224.1" cy="332.3" rx="1.07" ry="0.87" fill="#5a644c" opacity="0.64"/><ellipse cx="194.1" cy="338.1" rx="1.32" ry="1.82" fill="#3e4838" opacity="0.74"/><ellipse cx="215.3" cy="302.1" rx="0.80" ry="1.04" fill="#3e4838" opacity="0.85"/><ellipse cx="207.2" cy="369.4" rx="0.67" ry="0.67" fill="#5a644c" opacity="0.51"/><ellipse cx="176.0" cy="344.1" rx="1.16" ry="1.35" fill="#4a5442" opacity="0.75"/><ellipse cx="193.8" cy="352.9" rx="1.21" ry="1.00" fill="#3e4838" opacity="0.65"/><ellipse cx="218.5" cy="305.7" rx="0.92" ry="0.92" fill="#4a5442" opacity="0.53"/><ellipse cx="227.0" cy="370.5" rx="1.20" ry="1.00" fill="#4a5442" opacity="0.70"/><ellipse cx="237.1" cy="320.5" rx="1.49" ry="1.70" fill="#4a5442" opacity="0.56"/><ellipse cx="151.9" cy="298.8" rx="1.40" ry="1.62" fill="#3e4838" opacity="0.67"/><ellipse cx="197.0" cy="307.3" rx="1.09" ry="0.78" fill="#4a5442" opacity="0.87"/><ellipse cx="195.4" cy="359.6" rx="0.72" ry="0.58" fill="#5a644c" opacity="0.70"/><ellipse cx="237.9" cy="320.8" rx="1.08" ry="0.85" fill="#5a644c" opacity="0.83"/><ellipse cx="220.8" cy="346.9" rx="0.86" ry="0.80" fill="#3e4838" opacity="0.75"/><ellipse cx="196.8" cy="297.5" rx="0.90" ry="0.68" fill="#4a5442" opacity="0.58"/><ellipse cx="220.4" cy="319.1" rx="1.43" ry="1.95" fill="#4a5442" opacity="0.68"/><ellipse cx="237.8" cy="366.9" rx="1.23" ry="1.44" fill="#3e4838" opacity="0.72"/></g>
<path d="M168 331 L175 327 L182 330 L184 339 L178 344 L169 341 Z" fill="#a8c4cc" opacity="0.85" filter="url(#b1)"/>
<path d="M170 333 L176 330 L181 333 L181 338 L176 341 L171 339 Z" fill="#c4dce0" opacity="0.6" filter="url(#b1)"/>
<line x1="171.5" y1="336.2" x2="179.5" y2="336.2" stroke="#2a3434" stroke-width="0.9"/><line x1="175.5" y1="331.2" x2="175.5" y2="341.2" stroke="#2a3434" stroke-width="0.9"/>
<rect x="111.5" y="364.9" width="26.1" height="9.9" fill="#f6f6f6"/><rect x="112.0" y="365.8" width="25.0" height="1.7" fill="#111"/><rect x="119.8" y="370.0" width="9" height="1.6" fill="#707070" opacity="0.8" filter="url(#b1)"/>
</g>
<g clip-path="url(#pe)"><rect x="241" y="292" width="132.5" height="82.7" fill="#d0e4b7"/><rect x="241" y="292" width="132.5" height="82.7" filter="url(#tEl)"/>
<ellipse cx="357.7" cy="363.3" rx="0.63" ry="0.73" fill="#8a9878" opacity="0.50"/><ellipse cx="369.0" cy="339.8" rx="0.68" ry="0.53" fill="#7a8a68" opacity="0.45"/><ellipse cx="338.7" cy="347.0" rx="0.52" ry="0.53" fill="#8a9878" opacity="0.60"/><ellipse cx="313.9" cy="315.1" rx="0.45" ry="0.41" fill="#8a9878" opacity="0.49"/><ellipse cx="334.6" cy="373.9" rx="0.66" ry="0.54" fill="#7a8a68" opacity="0.58"/><ellipse cx="353.5" cy="317.2" rx="0.48" ry="0.48" fill="#7a8a68" opacity="0.63"/><ellipse cx="301.3" cy="293.1" rx="0.61" ry="0.79" fill="#8a9878" opacity="0.41"/><ellipse cx="276.9" cy="335.2" rx="0.55" ry="0.36" fill="#8a9878" opacity="0.49"/><ellipse cx="294.7" cy="333.5" rx="0.70" ry="0.82" fill="#7a8a68" opacity="0.40"/><ellipse cx="245.3" cy="355.9" rx="0.57" ry="0.65" fill="#8a9878" opacity="0.44"/><ellipse cx="370.3" cy="334.4" rx="0.57" ry="0.66" fill="#7a8a68" opacity="0.64"/><ellipse cx="268.8" cy="297.1" rx="0.53" ry="0.64" fill="#8a9878" opacity="0.63"/><ellipse cx="292.5" cy="353.6" rx="0.63" ry="0.78" fill="#8a9878" opacity="0.54"/><ellipse cx="337.7" cy="367.5" rx="0.49" ry="0.68" fill="#8a9878" opacity="0.50"/>
<line x1="302.9" y1="334.0" x2="312.5" y2="334.0" stroke="#2a3422" stroke-width="0.85"/><line x1="307.7" y1="328.8" x2="307.7" y2="339.2" stroke="#2a3422" stroke-width="0.85"/>
<rect x="243.2" y="365.5" width="25.6" height="9.9" fill="#f6f6f6"/><rect x="243.7" y="366.4" width="24.5" height="1.7" fill="#111"/><rect x="251.2" y="370.6" width="9" height="1.6" fill="#707070" opacity="0.8" filter="url(#b1)"/>
</g>
<g clip-path="url(#pf)"><rect x="373.5" y="292" width="131.1" height="82.7" fill="#efe9d8"/><rect x="373.5" y="292" width="131.1" height="82.7" filter="url(#tFl)"/>
<g filter="url(#b1)"><ellipse cx="460.6" cy="303.4" rx="1.34" ry="1.43" fill="#6e6a60" opacity="0.62"/><ellipse cx="462.3" cy="303.5" rx="1.72" ry="1.38" fill="#5e5c54" opacity="0.75"/><ellipse cx="434.2" cy="366.8" rx="1.20" ry="1.33" fill="#4e4c46" opacity="0.74"/><ellipse cx="466.0" cy="305.8" rx="1.41" ry="1.22" fill="#44423c" opacity="0.61"/><ellipse cx="467.7" cy="306.0" rx="1.27" ry="1.49" fill="#44423c" opacity="0.59"/><ellipse cx="469.4" cy="306.2" rx="1.65" ry="1.34" fill="#4e4c46" opacity="0.78"/><ellipse cx="470.7" cy="308.7" rx="1.40" ry="1.64" fill="#6e6a60" opacity="0.81"/><ellipse cx="472.3" cy="309.4" rx="1.34" ry="1.52" fill="#5e5c54" opacity="0.85"/><ellipse cx="438.9" cy="330.8" rx="1.35" ry="1.11" fill="#44423c" opacity="0.69"/><ellipse cx="438.9" cy="320.5" rx="1.20" ry="1.06" fill="#5e5c54" opacity="0.63"/><ellipse cx="470.2" cy="320.4" rx="1.19" ry="1.42" fill="#3e3c38" opacity="0.80"/><ellipse cx="471.8" cy="321.0" rx="1.08" ry="1.03" fill="#44423c" opacity="0.72"/><ellipse cx="494.8" cy="347.3" rx="1.45" ry="1.31" fill="#44423c" opacity="0.81"/><ellipse cx="494.8" cy="349.0" rx="1.39" ry="1.25" fill="#3e3c38" opacity="0.78"/><ellipse cx="494.8" cy="350.7" rx="1.50" ry="1.60" fill="#6e6a60" opacity="0.69"/><ellipse cx="479.1" cy="298.4" rx="1.34" ry="1.09" fill="#5e5c54" opacity="0.56"/><ellipse cx="479.8" cy="300.0" rx="1.56" ry="1.82" fill="#4e4c46" opacity="0.81"/><ellipse cx="400.7" cy="358.6" rx="1.73" ry="1.68" fill="#4e4c46" opacity="0.62"/><ellipse cx="399.3" cy="359.6" rx="1.13" ry="1.14" fill="#44423c" opacity="0.85"/><ellipse cx="447.4" cy="301.9" rx="1.34" ry="1.18" fill="#4e4c46" opacity="0.77"/><ellipse cx="448.2" cy="303.4" rx="1.07" ry="0.96" fill="#44423c" opacity="0.65"/><ellipse cx="424.9" cy="329.6" rx="1.50" ry="1.49" fill="#3e3c38" opacity="0.60"/><ellipse cx="423.7" cy="330.8" rx="1.25" ry="1.47" fill="#6e6a60" opacity="0.65"/><ellipse cx="383.6" cy="328.2" rx="1.41" ry="1.39" fill="#3e3c38" opacity="0.75"/><ellipse cx="385.2" cy="328.7" rx="1.35" ry="1.36" fill="#3e3c38" opacity="0.64"/><ellipse cx="491.1" cy="339.0" rx="1.70" ry="1.55" fill="#5e5c54" opacity="0.62"/><ellipse cx="490.1" cy="340.4" rx="1.20" ry="1.41" fill="#3e3c38" opacity="0.64"/><ellipse cx="481.5" cy="344.9" rx="0.96" ry="0.87" fill="#5e5c54" opacity="0.55"/><ellipse cx="488.9" cy="330.8" rx="1.13" ry="1.05" fill="#6e6a60" opacity="0.70"/><ellipse cx="489.5" cy="332.4" rx="1.41" ry="1.68" fill="#4e4c46" opacity="0.90"/><ellipse cx="494.3" cy="349.0" rx="1.48" ry="1.76" fill="#3e3c38" opacity="0.79"/><ellipse cx="442.1" cy="351.5" rx="1.47" ry="1.09" fill="#4e4c46" opacity="0.58"/><ellipse cx="494.8" cy="323.4" rx="1.36" ry="1.25" fill="#5e5c54" opacity="0.59"/><ellipse cx="405.0" cy="372.8" rx="1.50" ry="1.34" fill="#4e4c46" opacity="0.65"/><ellipse cx="404.0" cy="374.2" rx="1.13" ry="1.13" fill="#5e5c54" opacity="0.80"/><ellipse cx="458.2" cy="296.3" rx="1.13" ry="1.32" fill="#5e5c54" opacity="0.56"/><ellipse cx="459.9" cy="296.5" rx="1.23" ry="1.16" fill="#6e6a60" opacity="0.65"/><ellipse cx="455.3" cy="319.3" rx="0.97" ry="0.87" fill="#4e4c46" opacity="0.80"/><ellipse cx="454.4" cy="320.7" rx="1.72" ry="1.60" fill="#6e6a60" opacity="0.72"/><ellipse cx="457.6" cy="295.0" rx="1.75" ry="1.37" fill="#44423c" opacity="0.68"/><ellipse cx="462.2" cy="293.7" rx="0.97" ry="1.11" fill="#4e4c46" opacity="0.63"/><ellipse cx="461.3" cy="295.1" rx="1.26" ry="0.95" fill="#4e4c46" opacity="0.81"/><ellipse cx="462.5" cy="340.6" rx="1.67" ry="1.81" fill="#5e5c54" opacity="0.86"/><ellipse cx="376.9" cy="373.4" rx="1.65" ry="1.88" fill="#5e5c54" opacity="0.62"/><ellipse cx="375.3" cy="373.7" rx="1.16" ry="0.87" fill="#44423c" opacity="0.67"/><ellipse cx="390.3" cy="373.5" rx="1.01" ry="1.18" fill="#44423c" opacity="0.81"/><ellipse cx="472.2" cy="334.2" rx="1.21" ry="1.26" fill="#44423c" opacity="0.60"/><ellipse cx="445.6" cy="304.2" rx="1.24" ry="0.99" fill="#6e6a60" opacity="0.85"/><ellipse cx="490.4" cy="308.7" rx="1.01" ry="0.79" fill="#3e3c38" opacity="0.73"/><ellipse cx="467.2" cy="352.9" rx="1.27" ry="1.26" fill="#6e6a60" opacity="0.90"/><ellipse cx="391.0" cy="338.3" rx="1.52" ry="1.44" fill="#3e3c38" opacity="0.60"/><ellipse cx="392.6" cy="338.9" rx="1.10" ry="0.80" fill="#3e3c38" opacity="0.62"/><ellipse cx="394.2" cy="339.6" rx="1.19" ry="1.08" fill="#44423c" opacity="0.61"/><ellipse cx="448.2" cy="334.0" rx="1.40" ry="1.13" fill="#5e5c54" opacity="0.69"/><ellipse cx="474.2" cy="354.9" rx="1.06" ry="0.82" fill="#3e3c38" opacity="0.74"/><ellipse cx="473.6" cy="356.5" rx="1.04" ry="0.92" fill="#4e4c46" opacity="0.70"/><ellipse cx="469.5" cy="292.9" rx="1.71" ry="1.47" fill="#44423c" opacity="0.85"/><ellipse cx="471.1" cy="293.6" rx="1.32" ry="0.93" fill="#3e3c38" opacity="0.59"/><ellipse cx="503.1" cy="335.6" rx="1.09" ry="1.26" fill="#6e6a60" opacity="0.82"/><ellipse cx="503.5" cy="337.2" rx="1.12" ry="1.03" fill="#5e5c54" opacity="0.68"/><ellipse cx="473.9" cy="322.2" rx="1.14" ry="0.85" fill="#44423c" opacity="0.70"/><ellipse cx="472.6" cy="330.4" rx="1.18" ry="1.26" fill="#3e3c38" opacity="0.64"/><ellipse cx="470.9" cy="330.5" rx="1.46" ry="1.55" fill="#4e4c46" opacity="0.80"/><ellipse cx="487.6" cy="342.3" rx="1.18" ry="1.15" fill="#4e4c46" opacity="0.56"/><ellipse cx="487.0" cy="343.9" rx="1.38" ry="1.29" fill="#44423c" opacity="0.84"/><ellipse cx="467.8" cy="352.3" rx="1.30" ry="1.53" fill="#4e4c46" opacity="0.65"/><ellipse cx="466.4" cy="353.3" rx="1.34" ry="1.17" fill="#3e3c38" opacity="0.89"/><ellipse cx="464.9" cy="354.2" rx="1.13" ry="1.01" fill="#44423c" opacity="0.65"/><ellipse cx="385.0" cy="350.5" rx="1.50" ry="1.18" fill="#3e3c38" opacity="0.60"/><ellipse cx="384.1" cy="351.9" rx="1.44" ry="1.14" fill="#4e4c46" opacity="0.87"/><ellipse cx="456.3" cy="315.0" rx="1.06" ry="1.19" fill="#5e5c54" opacity="0.75"/><ellipse cx="443.4" cy="339.4" rx="1.63" ry="1.59" fill="#3e3c38" opacity="0.86"/><ellipse cx="441.7" cy="339.7" rx="1.35" ry="1.19" fill="#4e4c46" opacity="0.57"/><ellipse cx="447.1" cy="363.7" rx="1.16" ry="1.38" fill="#6e6a60" opacity="0.66"/><ellipse cx="492.6" cy="296.2" rx="1.14" ry="1.13" fill="#3e3c38" opacity="0.75"/><ellipse cx="491.5" cy="297.5" rx="1.35" ry="1.26" fill="#4e4c46" opacity="0.83"/><ellipse cx="490.4" cy="298.8" rx="1.23" ry="1.30" fill="#3e3c38" opacity="0.64"/><ellipse cx="486.4" cy="336.3" rx="1.19" ry="1.34" fill="#3e3c38" opacity="0.79"/><ellipse cx="488.0" cy="336.8" rx="1.74" ry="1.64" fill="#3e3c38" opacity="0.68"/><ellipse cx="385.0" cy="363.2" rx="1.66" ry="1.33" fill="#4e4c46" opacity="0.75"/><ellipse cx="383.9" cy="364.6" rx="0.97" ry="1.01" fill="#5e5c54" opacity="0.66"/><ellipse cx="382.9" cy="365.9" rx="1.39" ry="1.30" fill="#4e4c46" opacity="0.82"/><ellipse cx="499.6" cy="307.4" rx="1.36" ry="0.98" fill="#3e3c38" opacity="0.77"/><ellipse cx="498.1" cy="308.2" rx="1.25" ry="1.21" fill="#44423c" opacity="0.63"/><ellipse cx="493.6" cy="293.4" rx="1.01" ry="0.88" fill="#5e5c54" opacity="0.65"/><ellipse cx="439.9" cy="328.0" rx="1.05" ry="1.15" fill="#44423c" opacity="0.62"/><ellipse cx="470.5" cy="352.4" rx="1.72" ry="1.79" fill="#4e4c46" opacity="0.84"/><ellipse cx="471.9" cy="353.5" rx="1.43" ry="1.03" fill="#5e5c54" opacity="0.63"/><ellipse cx="503.4" cy="337.7" rx="1.48" ry="1.10" fill="#44423c" opacity="0.58"/><ellipse cx="503.7" cy="339.3" rx="1.46" ry="1.18" fill="#4e4c46" opacity="0.84"/><ellipse cx="477.1" cy="302.6" rx="1.23" ry="0.88" fill="#4e4c46" opacity="0.76"/><ellipse cx="498.5" cy="317.1" rx="1.01" ry="0.72" fill="#44423c" opacity="0.77"/><ellipse cx="499.2" cy="318.6" rx="1.24" ry="1.33" fill="#3e3c38" opacity="0.63"/><ellipse cx="450.3" cy="307.7" rx="1.22" ry="0.92" fill="#44423c" opacity="0.79"/><ellipse cx="449.6" cy="309.3" rx="1.09" ry="0.95" fill="#3e3c38" opacity="0.59"/><ellipse cx="445.6" cy="340.7" rx="1.26" ry="0.97" fill="#44423c" opacity="0.69"/><ellipse cx="446.9" cy="341.9" rx="1.69" ry="1.19" fill="#44423c" opacity="0.70"/><ellipse cx="484.2" cy="355.4" rx="1.66" ry="1.23" fill="#6e6a60" opacity="0.69"/><ellipse cx="482.8" cy="356.3" rx="1.32" ry="1.12" fill="#44423c" opacity="0.66"/><ellipse cx="438.8" cy="354.9" rx="1.62" ry="1.73" fill="#5e5c54" opacity="0.67"/><ellipse cx="440.5" cy="355.3" rx="1.05" ry="1.15" fill="#4e4c46" opacity="0.82"/><ellipse cx="442.1" cy="355.7" rx="1.43" ry="1.52" fill="#5e5c54" opacity="0.76"/><ellipse cx="476.9" cy="312.6" rx="1.12" ry="0.99" fill="#6e6a60" opacity="0.72"/><ellipse cx="486.1" cy="332.0" rx="1.69" ry="2.01" fill="#6e6a60" opacity="0.81"/><ellipse cx="400.9" cy="364.6" rx="1.62" ry="1.94" fill="#44423c" opacity="0.63"/><ellipse cx="402.0" cy="365.9" rx="1.21" ry="1.35" fill="#6e6a60" opacity="0.62"/><ellipse cx="403.0" cy="367.2" rx="1.56" ry="1.34" fill="#4e4c46" opacity="0.86"/><ellipse cx="402.3" cy="369.7" rx="1.39" ry="1.64" fill="#5e5c54" opacity="0.80"/><ellipse cx="430.8" cy="296.7" rx="1.28" ry="1.18" fill="#3e3c38" opacity="0.56"/><ellipse cx="477.8" cy="320.6" rx="1.29" ry="0.94" fill="#4e4c46" opacity="0.66"/><ellipse cx="484.3" cy="332.8" rx="1.23" ry="0.90" fill="#4e4c46" opacity="0.76"/><ellipse cx="485.7" cy="333.7" rx="1.49" ry="1.68" fill="#44423c" opacity="0.74"/><ellipse cx="430.8" cy="328.2" rx="1.48" ry="1.49" fill="#44423c" opacity="0.71"/><ellipse cx="429.1" cy="328.3" rx="1.70" ry="2.01" fill="#4e4c46" opacity="0.58"/><ellipse cx="440.9" cy="344.0" rx="1.36" ry="0.98" fill="#44423c" opacity="0.75"/><ellipse cx="439.2" cy="344.1" rx="0.99" ry="0.88" fill="#44423c" opacity="0.76"/><ellipse cx="389.4" cy="338.9" rx="1.50" ry="1.62" fill="#3e3c38" opacity="0.64"/><ellipse cx="424.4" cy="366.6" rx="1.59" ry="1.32" fill="#6e6a60" opacity="0.57"/><ellipse cx="495.3" cy="310.7" rx="1.15" ry="1.18" fill="#6e6a60" opacity="0.63"/><ellipse cx="504.1" cy="342.2" rx="1.15" ry="0.88" fill="#5e5c54" opacity="0.59"/><ellipse cx="505.7" cy="342.8" rx="1.56" ry="1.31" fill="#5e5c54" opacity="0.55"/><ellipse cx="449.4" cy="333.6" rx="1.51" ry="1.43" fill="#3e3c38" opacity="0.63"/><ellipse cx="450.3" cy="335.0" rx="1.55" ry="1.51" fill="#44423c" opacity="0.58"/><ellipse cx="433.7" cy="334.3" rx="1.57" ry="1.56" fill="#44423c" opacity="0.66"/><ellipse cx="433.7" cy="336.0" rx="1.10" ry="0.98" fill="#44423c" opacity="0.62"/><ellipse cx="433.7" cy="337.7" rx="1.28" ry="1.12" fill="#5e5c54" opacity="0.74"/><ellipse cx="495.2" cy="314.2" rx="1.22" ry="1.24" fill="#4e4c46" opacity="0.60"/><ellipse cx="495.8" cy="315.8" rx="1.35" ry="1.16" fill="#6e6a60" opacity="0.82"/><ellipse cx="496.3" cy="317.4" rx="1.50" ry="1.77" fill="#44423c" opacity="0.75"/><ellipse cx="433.6" cy="317.2" rx="1.60" ry="1.27" fill="#3e3c38" opacity="0.78"/><ellipse cx="436.4" cy="322.1" rx="1.59" ry="1.88" fill="#44423c" opacity="0.76"/><ellipse cx="445.2" cy="329.3" rx="1.24" ry="1.16" fill="#6e6a60" opacity="0.57"/><ellipse cx="443.5" cy="329.8" rx="1.36" ry="1.57" fill="#44423c" opacity="0.56"/><ellipse cx="484.0" cy="330.8" rx="1.29" ry="1.06" fill="#6e6a60" opacity="0.70"/><ellipse cx="483.4" cy="332.4" rx="1.19" ry="1.11" fill="#5e5c54" opacity="0.73"/><ellipse cx="441.1" cy="296.1" rx="1.69" ry="1.24" fill="#6e6a60" opacity="0.62"/><ellipse cx="442.7" cy="296.7" rx="1.52" ry="1.54" fill="#44423c" opacity="0.67"/><ellipse cx="444.0" cy="353.9" rx="1.48" ry="1.37" fill="#4e4c46" opacity="0.65"/><ellipse cx="444.0" cy="313.9" rx="1.58" ry="1.19" fill="#44423c" opacity="0.59"/><ellipse cx="494.0" cy="344.9" rx="1.65" ry="1.27" fill="#6e6a60" opacity="0.76"/><ellipse cx="495.7" cy="345.2" rx="1.12" ry="0.83" fill="#44423c" opacity="0.66"/><ellipse cx="405.3" cy="372.0" rx="1.64" ry="1.78" fill="#4e4c46" opacity="0.79"/><ellipse cx="406.3" cy="373.3" rx="1.71" ry="1.57" fill="#5e5c54" opacity="0.66"/><ellipse cx="393.1" cy="360.1" rx="1.57" ry="1.78" fill="#4e4c46" opacity="0.71"/><ellipse cx="391.7" cy="361.0" rx="1.15" ry="0.82" fill="#44423c" opacity="0.76"/><ellipse cx="485.3" cy="331.3" rx="1.71" ry="1.50" fill="#3e3c38" opacity="0.56"/></g>
<g filter="url(#b1)"><polygon points="505.0,351.3 400.0,376.2 400,380 505,380" fill="#5aa4a2"/><polyline points="505.0,360.6 400.0,382.7" stroke="#c09aa4" stroke-width="2.2" fill="none"/><polyline points="505.0,364.0 400.0,385.0" stroke="#84c2be" stroke-width="2.6" fill="none"/><polygon points="505.0,368.2 400.0,388.1 400,380 505,380" fill="#cdd1c9"/></g>
<line x1="432.8" y1="332.4" x2="443.6" y2="332.4" stroke="#141412" stroke-width="1.3"/><line x1="438.2" y1="327.2" x2="438.2" y2="337.6" stroke="#141412" stroke-width="1.3"/>
<rect x="374.9" y="364.9" width="25.6" height="9.9" fill="#f6f6f6"/><rect x="375.4" y="365.8" width="24.5" height="1.7" fill="#111"/><rect x="382.9" y="370.0" width="9" height="1.6" fill="#707070" opacity="0.8" filter="url(#b1)"/>
</g>
<g font-size="10.9" text-anchor="end" class="ml">
<text x="233.6" y="222.8">100 <tspan font-family="Liberation Serif" font-weight="normal">µ</tspan>g/mL</text>
<text x="365.9" y="222.8">40 <tspan font-family="Liberation Serif" font-weight="normal">µ</tspan>g/mL</text>
<text x="497.8" y="222.8">20 <tspan font-family="Liberation Serif" font-weight="normal">µ</tspan>g/mL</text>
<text x="233.6" y="305.3">100 <tspan font-family="Liberation Serif" font-weight="normal">µ</tspan>g/mL</text>
<text x="365.9" y="305.3">40 <tspan font-family="Liberation Serif" font-weight="normal">µ</tspan>g/mL</text>
<text x="499" y="305.3">20 <tspan font-family="Liberation Serif" font-weight="normal">µ</tspan>g/mL</text>
</g>
<g font-size="12.6" text-anchor="end">
<text x="97.5" y="258">161 nm PS</text>
<text x="97.5" y="343.3">33 nm PS</text>
</g>
</svg>
</body></html>
